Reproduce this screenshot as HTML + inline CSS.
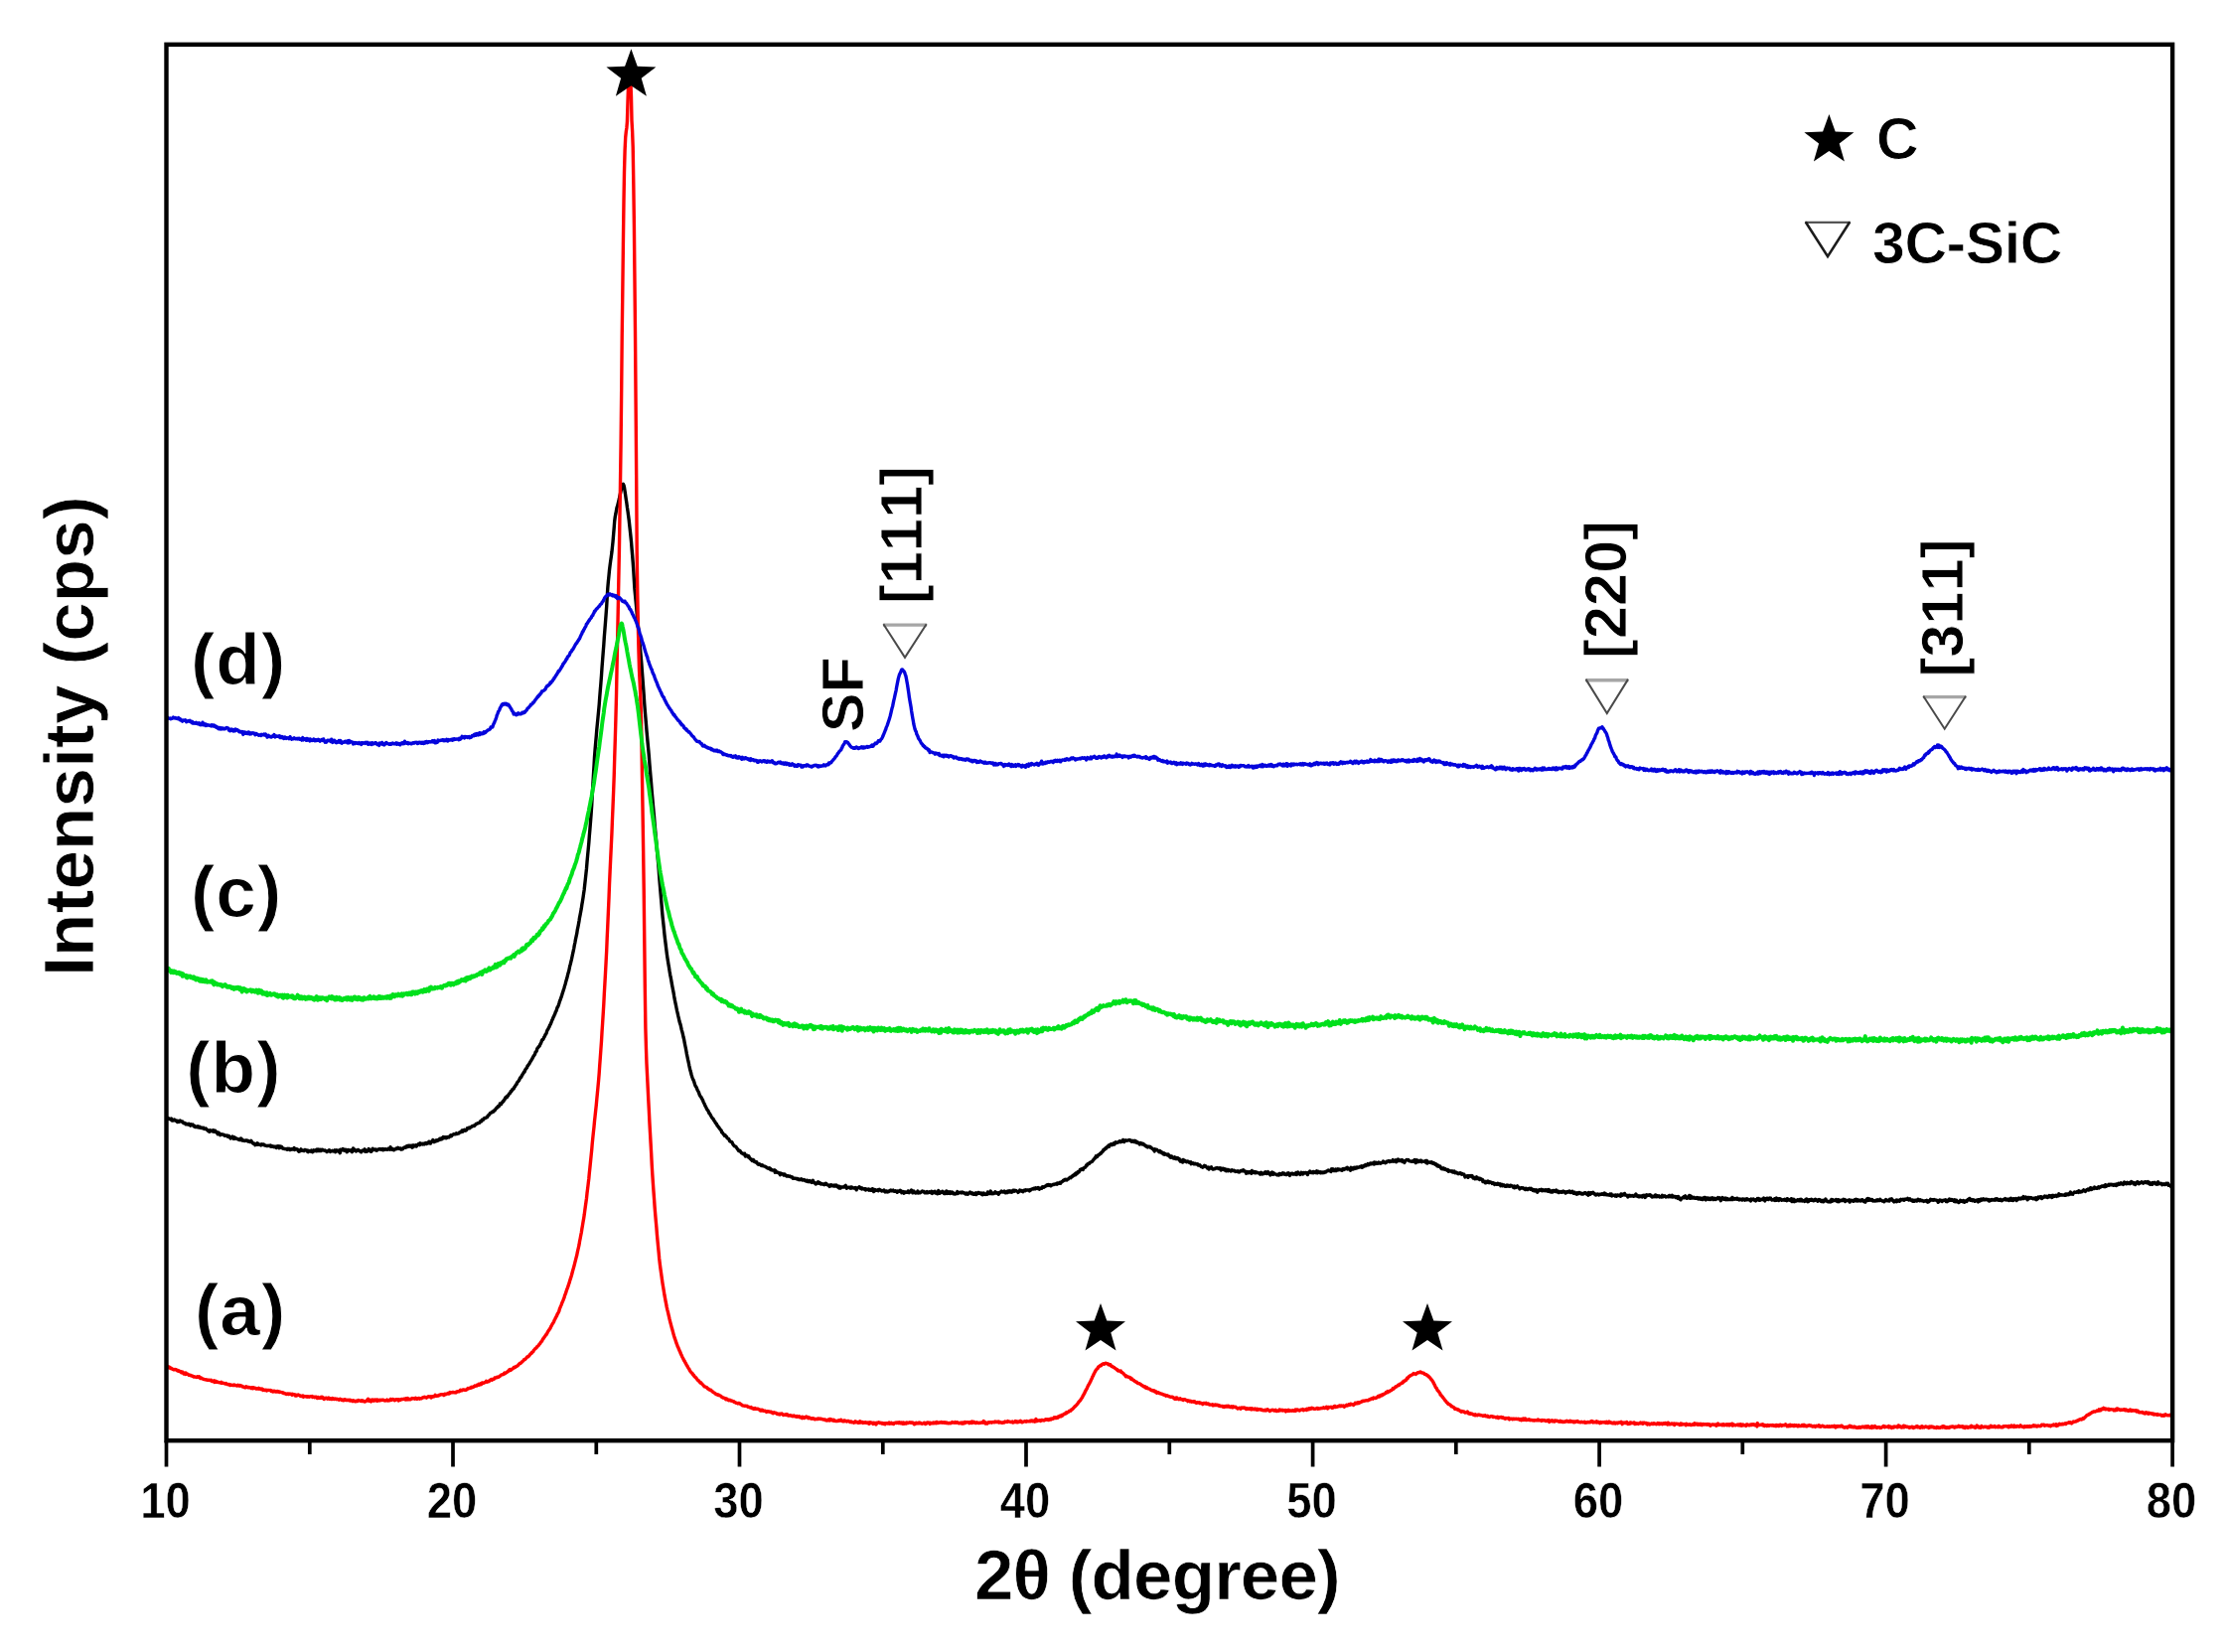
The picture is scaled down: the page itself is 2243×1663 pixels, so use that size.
<!DOCTYPE html>
<html lang="en">
<head>
<meta charset="utf-8">
<title>XRD patterns</title>
<style>
html,body{margin:0;padding:0;background:#fff;}
body{width:2243px;height:1663px;overflow:hidden;}
svg{display:block;filter:blur(0.6px);}
text{font-family:"Liberation Sans",Arial,Helvetica,sans-serif;font-weight:bold;fill:#000;font-kerning:none;stroke:#fff;stroke-width:1.0px;stroke-linejoin:round;}
.tick{font-size:50px;text-anchor:middle;stroke-width:0.5px;}
.title{font-size:71px;text-anchor:middle;stroke-width:0.7px;}
.lab{font-size:73px;letter-spacing:1.0px;}
.ann{font-size:59px;stroke-width:0.8px;}
.rot{letter-spacing:0.3px;}
.curve{fill:none;stroke-linejoin:round;stroke-linecap:butt;}
</style>
</head>
<body>
<svg width="2243" height="1663" viewBox="0 0 2243 1663">
<rect x="0" y="0" width="2243" height="1663" fill="#ffffff"/>
<defs><clipPath id="plotclip"><rect x="167.5" y="44.8" width="2019.6" height="1405.4"/></clipPath></defs>
<g clip-path="url(#plotclip)">
<path class="curve" d="M167.5,1125.2 168.1,1126.1 168.7,1126.4 169.2,1125.6 169.8,1125.9 170.4,1125.9 171.0,1126.5 171.5,1126.4 172.1,1127.1 172.7,1126.1 173.3,1128.1 173.8,1127.6 174.4,1127.9 175.0,1127.4 175.6,1127.1 176.2,1127.8 176.7,1128.2 177.3,1128.0 177.9,1128.3 178.5,1129.4 179.0,1128.5 179.6,1128.4 180.2,1129.4 180.8,1128.9 181.3,1128.0 181.9,1128.9 182.5,1129.0 183.1,1129.0 183.7,1129.0 184.2,1130.0 184.8,1130.6 185.4,1130.5 186.0,1130.4 186.5,1131.2 187.1,1131.8 187.7,1131.2 188.3,1131.5 188.9,1132.0 189.4,1131.6 190.0,1131.3 190.6,1132.4 191.2,1132.6 191.7,1133.1 192.3,1131.8 192.9,1132.3 193.5,1132.3 194.0,1132.1 194.6,1133.2 195.2,1133.8 195.8,1133.3 196.4,1134.6 196.9,1134.6 197.5,1134.3 198.1,1134.3 198.7,1134.8 199.2,1133.7 199.8,1134.9 200.4,1135.1 201.0,1134.2 201.5,1135.2 202.1,1134.9 202.7,1135.4 203.3,1135.1 203.9,1135.3 204.4,1135.8 205.0,1135.4 205.6,1136.4 206.2,1136.0 206.7,1136.3 207.3,1136.0 207.9,1137.1 208.5,1137.2 209.0,1137.7 209.6,1138.5 210.2,1138.9 210.8,1139.3 211.4,1137.7 211.9,1138.7 212.5,1138.5 213.1,1138.5 213.7,1138.1 214.2,1139.1 214.8,1137.8 215.4,1139.3 216.0,1139.5 216.5,1138.2 217.1,1139.2 217.7,1139.3 218.3,1140.2 218.9,1141.2 219.4,1141.8 220.0,1140.0 220.6,1140.8 221.2,1141.8 221.7,1142.6 222.3,1142.1 222.9,1141.8 223.5,1142.0 224.0,1142.0 224.6,1142.1 225.2,1142.1 225.8,1142.9 226.4,1143.4 226.9,1143.4 227.5,1143.4 228.1,1142.9 228.7,1143.4 229.2,1144.2 229.8,1143.5 230.4,1143.4 231.0,1145.0 231.6,1145.0 232.1,1145.9 232.7,1145.0 233.3,1144.6 233.9,1144.1 234.4,1145.4 235.0,1146.3 235.6,1144.7 236.2,1145.3 236.7,1146.2 237.3,1145.6 237.9,1146.0 238.5,1146.3 239.1,1146.6 239.6,1147.0 240.2,1146.9 240.8,1147.4 241.4,1146.7 241.9,1147.4 242.5,1146.0 243.1,1146.3 243.7,1148.0 244.2,1147.5 244.8,1147.9 245.4,1148.3 246.0,1148.5 246.6,1148.1 247.1,1148.4 247.7,1148.0 248.3,1147.9 248.9,1148.4 249.4,1148.9 250.0,1148.4 250.6,1148.9 251.2,1149.2 251.7,1149.5 252.3,1149.2 252.9,1148.4 253.5,1149.6 254.1,1150.1 254.6,1151.1 255.2,1151.2 255.8,1151.3 256.4,1151.3 256.9,1152.7 257.5,1151.9 258.1,1152.3 258.7,1152.4 259.2,1150.8 259.8,1151.4 260.4,1151.7 261.0,1152.2 261.6,1152.3 262.1,1152.4 262.7,1152.9 263.3,1151.9 263.9,1152.3 264.4,1151.9 265.0,1152.4 265.6,1152.0 266.2,1152.5 266.7,1153.1 267.3,1153.1 267.9,1153.4 268.5,1153.5 269.1,1153.5 269.6,1153.5 270.2,1153.3 270.8,1153.5 271.4,1153.2 271.9,1153.7 272.5,1153.0 273.1,1154.3 273.7,1153.7 274.3,1153.9 274.8,1154.2 275.4,1154.0 276.0,1154.7 276.6,1154.4 277.1,1154.2 277.7,1154.3 278.3,1155.5 278.9,1154.7 279.4,1153.8 280.0,1154.5 280.6,1153.9 281.2,1155.7 281.8,1153.9 282.3,1155.0 282.9,1155.3 283.5,1154.4 284.1,1155.3 284.6,1156.1 285.2,1156.2 285.8,1156.2 286.4,1156.5 286.9,1156.5 287.5,1156.6 288.1,1156.7 288.7,1157.1 289.3,1156.3 289.8,1157.1 290.4,1156.5 291.0,1156.2 291.6,1156.7 292.1,1157.6 292.7,1157.4 293.3,1156.7 293.9,1157.1 294.4,1156.6 295.0,1157.0 295.6,1156.9 296.2,1155.6 296.8,1157.4 297.3,1156.9 297.9,1156.6 298.5,1156.6 299.1,1156.8 299.6,1157.3 300.2,1158.5 300.8,1159.2 301.4,1158.3 301.9,1158.8 302.5,1158.0 303.1,1156.9 303.7,1158.4 304.3,1158.3 304.8,1158.1 305.4,1158.4 306.0,1158.6 306.6,1157.6 307.1,1157.4 307.7,1157.9 308.3,1157.9 308.9,1158.0 309.4,1159.2 310.0,1159.6 310.6,1158.3 311.2,1159.0 311.8,1159.1 312.3,1159.0 312.9,1159.2 313.5,1158.1 314.1,1158.9 314.6,1159.7 315.2,1158.7 315.8,1157.9 316.4,1158.7 317.0,1158.6 317.5,1157.9 318.1,1157.7 318.7,1158.7 319.3,1157.0 319.8,1158.6 320.4,1158.1 321.0,1157.1 321.6,1158.6 322.1,1158.3 322.7,1157.3 323.3,1158.5 323.9,1158.0 324.5,1157.2 325.0,1157.7 325.6,1158.0 326.2,1158.2 326.8,1158.0 327.3,1157.9 327.9,1158.7 328.5,1158.6 329.1,1159.5 329.6,1158.8 330.2,1158.9 330.8,1158.7 331.4,1157.7 332.0,1158.1 332.5,1159.4 333.1,1158.7 333.7,1158.7 334.3,1158.9 334.8,1158.3 335.4,1158.9 336.0,1158.4 336.6,1158.7 337.1,1157.9 337.7,1159.7 338.3,1158.4 338.9,1157.7 339.5,1158.5 340.0,1158.5 340.6,1159.1 341.2,1158.0 341.8,1159.0 342.3,1160.7 342.9,1157.1 343.5,1157.8 344.1,1157.7 344.6,1157.8 345.2,1156.5 345.8,1157.1 346.4,1158.0 347.0,1157.4 347.5,1158.5 348.1,1157.3 348.7,1158.0 349.3,1159.7 349.8,1157.8 350.4,1157.5 351.0,1157.8 351.6,1157.9 352.1,1158.5 352.7,1158.1 353.3,1157.7 353.9,1158.5 354.5,1159.6 355.0,1158.4 355.6,1155.9 356.2,1157.6 356.8,1157.1 357.3,1158.2 357.9,1157.7 358.5,1158.9 359.1,1158.4 359.7,1158.1 360.2,1157.5 360.8,1157.5 361.4,1158.1 362.0,1158.8 362.5,1158.9 363.1,1158.8 363.7,1159.8 364.3,1158.8 364.8,1158.4 365.4,1157.9 366.0,1157.9 366.6,1158.0 367.2,1156.9 367.7,1159.4 368.3,1158.9 368.9,1158.4 369.5,1159.2 370.0,1158.6 370.6,1158.3 371.2,1156.5 371.8,1158.0 372.3,1158.2 372.9,1159.0 373.5,1159.4 374.1,1159.1 374.7,1157.1 375.2,1156.2 375.8,1157.5 376.4,1157.0 377.0,1157.4 377.5,1157.1 378.1,1157.8 378.7,1157.0 379.3,1158.2 379.8,1157.6 380.4,1157.5 381.0,1157.0 381.6,1156.6 382.2,1156.9 382.7,1156.6 383.3,1157.2 383.9,1157.3 384.5,1156.7 385.0,1156.5 385.6,1157.8 386.2,1156.8 386.8,1157.5 387.3,1157.3 387.9,1156.6 388.5,1156.8 389.1,1157.3 389.7,1157.3 390.2,1157.3 390.8,1156.3 391.4,1156.6 392.0,1156.6 392.5,1157.3 393.1,1154.7 393.7,1156.7 394.3,1156.2 394.8,1157.1 395.4,1156.6 396.0,1157.1 396.6,1157.8 397.2,1157.0 397.7,1157.0 398.3,1156.8 398.9,1156.1 399.5,1156.5 400.0,1156.0 400.6,1155.3 401.2,1155.7 401.8,1155.9 402.4,1156.5 402.9,1156.1 403.5,1156.0 404.1,1157.1 404.7,1156.7 405.2,1156.8 405.8,1156.1 406.4,1155.5 407.0,1154.9 407.5,1154.9 408.1,1155.3 408.7,1154.6 409.3,1153.9 409.9,1154.7 410.4,1153.4 411.0,1154.1 411.6,1153.4 412.2,1153.2 412.7,1154.1 413.3,1154.2 413.9,1153.3 414.5,1154.6 415.0,1155.2 415.6,1153.0 416.2,1154.5 416.8,1153.1 417.4,1153.4 417.9,1153.5 418.5,1152.7 419.1,1154.1 419.7,1153.5 420.2,1152.6 420.8,1152.4 421.4,1151.6 422.0,1151.9 422.5,1152.6 423.1,1150.8 423.7,1151.3 424.3,1151.3 424.9,1151.8 425.4,1152.0 426.0,1151.2 426.6,1151.1 427.2,1151.9 427.7,1151.2 428.3,1150.6 428.9,1151.2 429.5,1151.5 430.0,1150.5 430.6,1150.2 431.2,1150.8 431.8,1149.3 432.4,1150.0 432.9,1149.4 433.5,1151.1 434.1,1149.8 434.7,1149.2 435.2,1149.1 435.8,1147.6 436.4,1149.0 437.0,1149.6 437.5,1148.6 438.1,1149.1 438.7,1149.0 439.3,1147.9 439.9,1148.5 440.4,1148.4 441.0,1147.6 441.6,1147.3 442.2,1147.6 442.7,1146.3 443.3,1147.0 443.9,1147.1 444.5,1145.8 445.1,1146.6 445.6,1145.6 446.2,1144.5 446.8,1145.6 447.4,1144.9 447.9,1145.5 448.5,1144.7 449.1,1145.8 449.7,1144.8 450.2,1145.2 450.8,1144.6 451.4,1144.4 452.0,1144.9 452.6,1144.1 453.1,1143.8 453.7,1142.8 454.3,1143.8 454.9,1143.2 455.4,1142.4 456.0,1142.4 456.6,1141.8 457.2,1141.7 457.7,1141.6 458.3,1141.7 458.9,1141.4 459.5,1140.7 460.1,1141.4 460.6,1141.2 461.2,1141.0 461.8,1141.1 462.4,1140.2 462.9,1139.8 463.5,1139.9 464.1,1139.1 464.7,1139.3 465.2,1137.9 465.8,1139.3 466.4,1137.8 467.0,1138.1 467.6,1137.4 468.1,1138.2 468.7,1138.1 469.3,1137.9 469.9,1137.2 470.4,1135.8 471.0,1135.9 471.6,1135.7 472.2,1135.1 472.7,1135.8 473.3,1135.2 473.9,1134.6 474.5,1134.6 475.1,1133.7 475.6,1133.7 476.2,1133.3 476.8,1133.6 477.4,1133.4 477.9,1132.7 478.5,1132.6 479.1,1131.4 479.7,1131.4 480.2,1131.4 480.8,1130.8 481.4,1130.7 482.0,1130.5 482.6,1130.3 483.1,1129.7 483.7,1128.8 484.3,1128.2 484.9,1128.6 485.4,1127.2 486.0,1127.1 486.6,1127.1 487.2,1126.0 487.8,1125.4 488.3,1125.6 488.9,1125.4 489.5,1125.2 490.1,1124.5 490.6,1124.5 491.2,1123.1 491.8,1122.8 492.4,1122.3 492.9,1121.6 493.5,1120.6 494.1,1120.3 494.7,1120.0 495.3,1119.9 495.8,1118.9 496.4,1119.1 497.0,1119.0 497.6,1117.8 498.1,1117.9 498.7,1117.0 499.3,1115.9 499.9,1115.5 500.4,1114.7 501.0,1114.8 501.6,1113.5 502.2,1113.7 502.8,1112.9 503.3,1111.1 503.9,1111.7 504.5,1111.6 505.1,1110.1 505.6,1110.1 506.2,1108.8 506.8,1108.8 507.4,1107.3 507.9,1107.2 508.5,1105.6 509.1,1104.6 509.7,1104.9 510.3,1104.8 510.8,1103.3 511.4,1103.2 512.0,1102.0 512.6,1101.0 513.1,1100.7 513.7,1100.3 514.3,1098.5 514.9,1098.4 515.4,1097.7 516.0,1096.5 516.6,1096.4 517.2,1096.0 517.8,1094.3 518.3,1094.1 518.9,1092.8 519.5,1091.8 520.1,1091.4 520.6,1089.9 521.2,1089.1 521.8,1088.5 522.4,1087.8 522.9,1086.7 523.5,1085.3 524.1,1084.5 524.7,1084.4 525.3,1082.7 525.8,1082.2 526.4,1080.9 527.0,1080.3 527.6,1079.0 528.1,1079.0 528.7,1077.1 529.3,1076.3 529.9,1075.3 530.5,1074.9 531.0,1073.1 531.6,1072.6 532.2,1071.6 532.8,1071.0 533.3,1069.9 533.9,1068.7 534.5,1068.1 535.1,1066.9 535.6,1066.1 536.2,1065.1 536.8,1063.8 537.4,1062.9 538.0,1062.0 538.5,1061.4 539.1,1059.3 539.7,1058.7 540.3,1057.8 540.8,1055.7 541.4,1055.0 542.0,1054.1 542.6,1053.4 543.1,1053.2 543.7,1051.5 544.3,1050.6 544.9,1049.1 545.5,1047.4 546.0,1046.5 546.6,1046.6 547.2,1045.4 547.8,1043.9 548.3,1043.6 548.9,1041.7 549.5,1041.1 550.1,1040.0 550.6,1038.1 551.2,1036.7 551.8,1036.1 552.4,1034.5 553.0,1033.7 553.5,1032.0 554.1,1031.3 554.7,1029.8 555.3,1028.3 555.8,1026.9 556.4,1026.0 557.0,1024.1 557.6,1023.1 558.1,1021.8 558.7,1020.7 559.3,1018.7 559.9,1018.0 560.5,1016.1 561.0,1014.3 561.6,1013.5 562.2,1012.1 562.8,1010.2 563.3,1008.4 563.9,1007.0 564.5,1005.3 565.1,1003.6 565.6,1002.1 566.2,1000.1 566.8,998.2 567.4,996.3 568.0,994.4 568.5,992.6 569.1,990.7 569.7,988.3 570.3,986.3 570.8,984.6 571.4,982.1 572.0,979.7 572.6,977.8 573.2,975.0 573.7,972.5 574.3,970.4 574.9,967.8 575.5,965.4 576.0,963.0 576.6,960.2 577.2,957.3 577.8,954.5 578.3,951.5 578.9,948.8 579.5,945.4 580.1,942.6 580.7,939.9 581.2,936.4 581.8,933.6 582.4,930.5 583.0,927.1 583.5,923.8 584.1,920.8 584.7,917.7 585.3,914.4 585.8,910.9 586.4,907.5 587.0,903.7 587.6,899.4 588.2,895.4 588.7,890.7 589.3,885.4 589.9,879.9 590.5,874.2 591.0,868.0 591.6,861.4 592.2,855.1 592.8,848.6 593.3,841.8 593.9,834.8 594.5,827.3 595.1,819.7 595.7,811.0 596.2,801.4 596.8,791.1 597.4,780.8 598.0,771.1 598.5,762.1 599.1,754.3 599.7,747.3 600.3,740.7 600.8,734.5 601.4,728.3 602.0,722.2 602.6,715.8 603.2,709.3 603.7,702.4 604.3,695.0 604.9,687.8 605.5,680.0 606.0,672.3 606.6,664.7 607.2,656.9 607.8,649.3 608.3,641.7 608.9,634.1 609.5,626.5 610.1,618.6 610.7,610.4 611.2,601.6 611.8,592.2 612.4,585.2 613.0,579.4 613.5,574.0 614.1,569.1 614.7,564.6 615.3,560.4 615.9,556.1 616.4,551.4 617.0,545.6 617.6,538.5 618.2,531.3 618.7,524.7 619.3,520.0 619.9,517.2 620.5,513.8 621.0,511.1 621.6,509.2 622.2,506.8 622.8,504.3 623.4,502.0 623.9,499.5 624.5,497.0 625.1,494.1 625.7,491.5 626.2,489.5 626.8,488.6 627.4,487.2 628.0,488.4 628.5,490.6 629.1,494.6 629.7,498.6 630.3,502.8 630.9,506.6 631.4,510.5 632.0,514.4 632.6,519.0 633.2,523.5 633.7,528.3 634.3,533.6 634.9,539.2 635.5,545.2 636.0,551.5 636.6,558.5 637.2,565.9 637.8,574.4 638.4,584.5 638.9,592.7 639.5,598.9 640.1,605.1 640.7,611.6 641.2,617.9 641.8,623.9 642.4,630.0 643.0,636.2 643.5,642.3 644.1,648.6 644.7,654.9 645.3,661.6 645.9,668.4 646.4,675.7 647.0,683.4 647.6,691.5 648.2,699.7 648.7,707.5 649.3,715.1 649.9,722.2 650.5,729.1 651.0,735.5 651.6,742.0 652.2,748.5 652.8,754.9 653.4,761.6 653.9,768.6 654.5,775.7 655.1,782.6 655.7,789.6 656.2,796.4 656.8,803.0 657.4,809.9 658.0,816.3 658.6,822.8 659.1,829.4 659.7,835.8 660.3,842.3 660.9,848.9 661.4,855.4 662.0,862.1 662.6,868.6 663.2,875.6 663.7,882.7 664.3,890.1 664.9,897.3 665.5,904.3 666.1,911.2 666.6,917.7 667.2,923.8 667.8,929.2 668.4,934.9 668.9,940.1 669.5,945.2 670.1,950.0 670.7,955.0 671.2,959.1 671.8,963.4 672.4,967.2 673.0,971.0 673.6,974.4 674.1,977.8 674.7,981.3 675.3,984.2 675.9,987.6 676.4,990.6 677.0,993.8 677.6,996.8 678.2,999.9 678.7,1003.1 679.3,1006.4 679.9,1009.3 680.5,1012.1 681.1,1015.2 681.6,1017.6 682.2,1020.1 682.8,1022.9 683.4,1025.3 683.9,1027.8 684.5,1030.0 685.1,1031.5 685.7,1034.4 686.2,1036.6 686.8,1038.7 687.4,1041.1 688.0,1044.0 688.6,1046.3 689.1,1049.1 689.7,1052.2 690.3,1055.0 690.9,1058.3 691.4,1061.1 692.0,1064.0 692.6,1066.9 693.2,1069.5 693.8,1072.6 694.3,1074.9 694.9,1077.6 695.5,1079.5 696.1,1082.0 696.6,1083.6 697.2,1085.3 697.8,1086.8 698.4,1088.0 698.9,1089.6 699.5,1091.5 700.1,1093.1 700.7,1094.0 701.3,1094.9 701.8,1096.5 702.4,1097.7 703.0,1098.8 703.6,1100.0 704.1,1101.8 704.7,1102.9 705.3,1103.9 705.9,1104.5 706.4,1105.7 707.0,1106.7 707.6,1107.7 708.2,1109.5 708.8,1110.5 709.3,1111.6 709.9,1113.1 710.5,1114.1 711.1,1115.4 711.6,1116.5 712.2,1117.4 712.8,1118.0 713.4,1119.3 713.9,1120.6 714.5,1121.0 715.1,1122.1 715.7,1123.2 716.3,1124.3 716.8,1125.1 717.4,1125.9 718.0,1126.3 718.6,1127.6 719.1,1128.3 719.7,1129.0 720.3,1130.4 720.9,1131.0 721.4,1131.4 722.0,1133.0 722.6,1133.4 723.2,1134.6 723.8,1134.8 724.3,1136.0 724.9,1136.7 725.5,1137.4 726.1,1137.8 726.6,1139.9 727.2,1140.1 727.8,1140.9 728.4,1142.0 728.9,1142.3 729.5,1143.2 730.1,1142.8 730.7,1144.0 731.3,1144.1 731.8,1145.1 732.4,1145.8 733.0,1146.0 733.6,1146.5 734.1,1147.5 734.7,1148.8 735.3,1149.0 735.9,1149.5 736.5,1149.5 737.0,1150.0 737.6,1151.3 738.2,1152.3 738.8,1153.0 739.3,1153.7 739.9,1154.0 740.5,1154.2 741.1,1154.6 741.6,1155.5 742.2,1156.5 742.8,1156.9 743.4,1158.3 744.0,1158.2 744.5,1158.8 745.1,1158.5 745.7,1159.5 746.3,1160.5 746.8,1160.9 747.4,1161.0 748.0,1161.6 748.6,1161.8 749.1,1161.4 749.7,1161.3 750.3,1164.0 750.9,1163.6 751.5,1163.5 752.0,1163.1 752.6,1163.5 753.2,1164.8 753.8,1163.7 754.3,1165.1 754.9,1166.1 755.5,1166.5 756.1,1167.4 756.6,1167.2 757.2,1168.5 757.8,1167.5 758.4,1167.5 759.0,1168.4 759.5,1169.4 760.1,1169.2 760.7,1170.0 761.3,1169.7 761.8,1169.9 762.4,1171.2 763.0,1171.9 763.6,1172.3 764.1,1171.9 764.7,1171.8 765.3,1172.2 765.9,1172.9 766.5,1173.4 767.0,1173.5 767.6,1172.9 768.2,1173.8 768.8,1173.8 769.3,1174.0 769.9,1174.2 770.5,1174.4 771.1,1174.9 771.6,1175.0 772.2,1175.7 772.8,1175.6 773.4,1176.2 774.0,1176.3 774.5,1175.7 775.1,1176.9 775.7,1176.6 776.3,1177.7 776.8,1177.6 777.4,1177.6 778.0,1178.1 778.6,1178.1 779.2,1178.2 779.7,1177.9 780.3,1180.2 780.9,1178.6 781.5,1179.6 782.0,1180.3 782.6,1180.1 783.2,1180.2 783.8,1180.7 784.3,1181.1 784.9,1181.0 785.5,1182.7 786.1,1181.1 786.7,1181.7 787.2,1181.7 787.8,1181.8 788.4,1182.4 789.0,1183.0 789.5,1181.9 790.1,1182.1 790.7,1183.1 791.3,1183.1 791.8,1184.1 792.4,1184.1 793.0,1183.7 793.6,1183.6 794.2,1184.2 794.7,1184.4 795.3,1184.0 795.9,1184.8 796.5,1184.8 797.0,1184.8 797.6,1184.9 798.2,1186.2 798.8,1186.2 799.3,1186.4 799.9,1186.3 800.5,1186.1 801.1,1186.3 801.7,1186.7 802.2,1186.4 802.8,1186.5 803.4,1187.4 804.0,1187.5 804.5,1187.0 805.1,1187.7 805.7,1187.3 806.3,1187.6 806.8,1186.9 807.4,1187.4 808.0,1188.0 808.6,1187.9 809.2,1187.5 809.7,1187.7 810.3,1188.4 810.9,1188.7 811.5,1189.0 812.0,1188.4 812.6,1188.2 813.2,1189.5 813.8,1188.9 814.3,1189.1 814.9,1189.6 815.5,1188.6 816.1,1189.3 816.7,1190.0 817.2,1190.4 817.8,1189.9 818.4,1188.3 819.0,1189.8 819.5,1190.3 820.1,1191.1 820.7,1190.7 821.3,1191.9 821.9,1191.4 822.4,1191.5 823.0,1191.0 823.6,1189.7 824.2,1191.2 824.7,1191.2 825.3,1190.6 825.9,1191.7 826.5,1192.0 827.0,1191.5 827.6,1191.8 828.2,1191.9 828.8,1192.3 829.4,1192.1 829.9,1192.6 830.5,1191.4 831.1,1192.1 831.7,1191.3 832.2,1192.0 832.8,1192.8 833.4,1192.8 834.0,1193.1 834.5,1193.5 835.1,1194.4 835.7,1192.9 836.3,1193.9 836.9,1192.8 837.4,1193.5 838.0,1193.8 838.6,1193.2 839.2,1194.1 839.7,1194.1 840.3,1193.1 840.9,1193.9 841.5,1194.1 842.0,1193.0 842.6,1194.3 843.2,1194.0 843.8,1195.3 844.4,1194.2 844.9,1195.9 845.5,1194.6 846.1,1196.1 846.7,1195.1 847.2,1194.9 847.8,1195.0 848.4,1195.0 849.0,1194.9 849.5,1195.1 850.1,1194.1 850.7,1194.0 851.3,1193.4 851.9,1195.2 852.4,1196.2 853.0,1195.8 853.6,1195.4 854.2,1195.3 854.7,1195.2 855.3,1195.7 855.9,1196.1 856.5,1195.0 857.0,1196.1 857.6,1195.0 858.2,1195.7 858.8,1195.7 859.4,1196.0 859.9,1195.8 860.5,1195.6 861.1,1196.2 861.7,1195.6 862.2,1197.8 862.8,1196.3 863.4,1196.1 864.0,1195.8 864.6,1195.5 865.1,1194.7 865.7,1195.7 866.3,1196.3 866.9,1195.8 867.4,1196.9 868.0,1196.0 868.6,1196.5 869.2,1196.9 869.7,1197.0 870.3,1196.9 870.9,1196.7 871.5,1198.0 872.1,1197.0 872.6,1197.4 873.2,1197.6 873.8,1197.2 874.4,1197.0 874.9,1198.2 875.5,1197.4 876.1,1197.5 876.7,1197.4 877.2,1198.3 877.8,1198.2 878.4,1196.7 879.0,1198.6 879.6,1199.5 880.1,1199.1 880.7,1197.5 881.3,1197.8 881.9,1198.4 882.4,1198.4 883.0,1198.3 883.6,1197.7 884.2,1198.7 884.7,1198.1 885.3,1197.3 885.9,1197.8 886.5,1198.1 887.1,1198.1 887.6,1199.0 888.2,1198.6 888.8,1198.9 889.4,1198.7 889.9,1198.0 890.5,1199.2 891.1,1200.0 891.7,1199.8 892.2,1198.9 892.8,1199.1 893.4,1200.0 894.0,1199.8 894.6,1199.2 895.1,1199.4 895.7,1198.5 896.3,1198.7 896.9,1198.0 897.4,1198.7 898.0,1198.6 898.6,1198.7 899.2,1198.1 899.7,1198.9 900.3,1199.3 900.9,1199.1 901.5,1198.7 902.1,1199.4 902.6,1199.6 903.2,1200.2 903.8,1199.0 904.4,1199.6 904.9,1199.3 905.5,1198.8 906.1,1198.3 906.7,1199.3 907.3,1199.0 907.8,1200.7 908.4,1199.7 909.0,1199.5 909.6,1199.8 910.1,1201.2 910.7,1199.9 911.3,1200.3 911.9,1200.0 912.4,1200.2 913.0,1200.1 913.6,1200.3 914.2,1198.9 914.8,1199.8 915.3,1200.6 915.9,1199.4 916.5,1199.6 917.1,1199.2 917.6,1198.0 918.2,1199.9 918.8,1200.8 919.4,1200.1 919.9,1199.1 920.5,1200.6 921.1,1200.2 921.7,1201.0 922.3,1200.9 922.8,1200.1 923.4,1200.7 924.0,1199.1 924.6,1200.9 925.1,1200.2 925.7,1200.9 926.3,1200.8 926.9,1200.2 927.4,1199.9 928.0,1199.4 928.6,1199.0 929.2,1199.8 929.8,1199.8 930.3,1199.5 930.9,1200.6 931.5,1200.2 932.1,1200.8 932.6,1200.4 933.2,1199.6 933.8,1200.8 934.4,1200.6 934.9,1200.3 935.5,1199.8 936.1,1200.1 936.7,1200.6 937.3,1200.3 937.8,1199.3 938.4,1201.4 939.0,1199.7 939.6,1200.4 940.1,1200.5 940.7,1200.6 941.3,1199.2 941.9,1201.1 942.4,1200.7 943.0,1201.0 943.6,1201.8 944.2,1200.4 944.8,1198.6 945.3,1200.7 945.9,1201.3 946.5,1200.5 947.1,1200.0 947.6,1200.5 948.2,1200.4 948.8,1199.2 949.4,1200.2 950.0,1200.4 950.5,1201.6 951.1,1200.3 951.7,1201.5 952.3,1200.4 952.8,1199.0 953.4,1201.4 954.0,1199.5 954.6,1200.4 955.1,1201.3 955.7,1200.1 956.3,1199.7 956.9,1201.4 957.5,1201.0 958.0,1200.1 958.6,1200.0 959.2,1200.5 959.8,1201.8 960.3,1201.0 960.9,1201.5 961.5,1202.1 962.1,1201.8 962.6,1201.7 963.2,1201.2 963.8,1199.5 964.4,1201.4 965.0,1201.0 965.5,1200.6 966.1,1200.6 966.7,1200.2 967.3,1200.5 967.8,1200.9 968.4,1200.0 969.0,1200.2 969.6,1200.4 970.1,1201.1 970.7,1200.8 971.3,1201.0 971.9,1201.9 972.5,1201.5 973.0,1202.0 973.6,1201.1 974.2,1202.3 974.8,1201.9 975.3,1201.3 975.9,1200.9 976.5,1200.1 977.1,1200.4 977.6,1200.6 978.2,1201.8 978.8,1201.8 979.4,1201.1 980.0,1202.2 980.5,1201.7 981.1,1202.3 981.7,1201.7 982.3,1200.9 982.8,1202.6 983.4,1201.9 984.0,1200.9 984.6,1200.6 985.1,1201.3 985.7,1200.6 986.3,1201.0 986.9,1201.5 987.5,1201.8 988.0,1201.0 988.6,1202.5 989.2,1202.8 989.8,1201.9 990.3,1201.0 990.9,1202.1 991.5,1201.7 992.1,1202.5 992.7,1201.9 993.2,1201.5 993.8,1202.2 994.4,1200.0 995.0,1200.6 995.5,1200.4 996.1,1201.6 996.7,1200.7 997.3,1199.0 997.8,1201.6 998.4,1200.5 999.0,1201.7 999.6,1201.2 1000.2,1201.6 1000.7,1201.5 1001.3,1200.8 1001.9,1199.7 1002.5,1200.9 1003.0,1200.5 1003.6,1200.6 1004.2,1201.2 1004.8,1200.7 1005.3,1202.3 1005.9,1201.0 1006.5,1200.6 1007.1,1200.4 1007.7,1199.6 1008.2,1199.0 1008.8,1199.7 1009.4,1199.6 1010.0,1200.1 1010.5,1199.7 1011.1,1199.0 1011.7,1200.2 1012.3,1200.8 1012.8,1200.8 1013.4,1199.8 1014.0,1199.2 1014.6,1200.4 1015.2,1198.9 1015.7,1199.7 1016.3,1198.9 1016.9,1200.0 1017.5,1199.0 1018.0,1200.0 1018.6,1200.2 1019.2,1199.8 1019.8,1198.3 1020.3,1198.1 1020.9,1198.2 1021.5,1199.1 1022.1,1198.5 1022.7,1198.5 1023.2,1198.8 1023.8,1199.4 1024.4,1199.4 1025.0,1200.4 1025.5,1199.5 1026.1,1199.5 1026.7,1198.1 1027.3,1198.6 1027.8,1198.9 1028.4,1198.6 1029.0,1199.3 1029.6,1199.7 1030.2,1198.6 1030.7,1198.3 1031.3,1198.1 1031.9,1198.7 1032.5,1197.9 1033.0,1198.3 1033.6,1198.0 1034.2,1198.0 1034.8,1198.0 1035.4,1198.0 1035.9,1197.9 1036.5,1198.9 1037.1,1197.8 1037.7,1198.0 1038.2,1197.3 1038.8,1197.0 1039.4,1197.0 1040.0,1196.5 1040.5,1196.9 1041.1,1196.2 1041.7,1196.1 1042.3,1196.7 1042.9,1195.8 1043.4,1196.3 1044.0,1196.0 1044.6,1196.5 1045.2,1195.6 1045.7,1195.8 1046.3,1197.2 1046.9,1196.3 1047.5,1196.2 1048.0,1195.9 1048.6,1196.3 1049.2,1194.9 1049.8,1194.8 1050.4,1195.4 1050.9,1195.4 1051.5,1194.5 1052.1,1194.4 1052.7,1193.9 1053.2,1193.8 1053.8,1192.9 1054.4,1192.8 1055.0,1193.4 1055.5,1192.5 1056.1,1192.9 1056.7,1193.2 1057.3,1192.8 1057.9,1193.8 1058.4,1193.2 1059.0,1193.1 1059.6,1192.5 1060.2,1192.3 1060.7,1192.6 1061.3,1192.2 1061.9,1191.9 1062.5,1192.1 1063.0,1191.8 1063.6,1191.4 1064.2,1192.2 1064.8,1190.9 1065.4,1191.2 1065.9,1191.4 1066.5,1191.2 1067.1,1190.4 1067.7,1191.1 1068.2,1190.5 1068.8,1189.7 1069.4,1189.3 1070.0,1189.1 1070.5,1188.2 1071.1,1188.4 1071.7,1187.5 1072.3,1188.0 1072.9,1187.2 1073.4,1187.8 1074.0,1188.1 1074.6,1187.3 1075.2,1187.0 1075.7,1186.8 1076.3,1186.0 1076.9,1185.6 1077.5,1185.1 1078.1,1185.6 1078.6,1184.9 1079.2,1184.6 1079.8,1183.5 1080.4,1183.8 1080.9,1182.7 1081.5,1182.9 1082.1,1181.7 1082.7,1182.8 1083.2,1180.9 1083.8,1181.8 1084.4,1181.3 1085.0,1179.7 1085.6,1179.7 1086.1,1179.9 1086.7,1179.1 1087.3,1177.5 1087.9,1177.7 1088.4,1177.1 1089.0,1176.8 1089.6,1176.5 1090.2,1177.5 1090.7,1176.3 1091.3,1175.8 1091.9,1175.1 1092.5,1175.1 1093.1,1174.4 1093.6,1173.1 1094.2,1173.3 1094.8,1171.9 1095.4,1171.7 1095.9,1171.3 1096.5,1171.5 1097.1,1170.4 1097.7,1170.1 1098.2,1170.1 1098.8,1169.5 1099.4,1169.3 1100.0,1168.6 1100.6,1167.6 1101.1,1167.1 1101.7,1166.6 1102.3,1165.5 1102.9,1165.6 1103.4,1163.8 1104.0,1164.0 1104.6,1164.4 1105.2,1163.5 1105.7,1162.6 1106.3,1162.4 1106.9,1162.3 1107.5,1161.2 1108.1,1161.3 1108.6,1160.4 1109.2,1160.2 1109.8,1159.2 1110.4,1158.9 1110.9,1157.4 1111.5,1157.2 1112.1,1157.2 1112.7,1156.1 1113.2,1155.5 1113.8,1155.9 1114.4,1155.1 1115.0,1154.2 1115.6,1153.8 1116.1,1153.1 1116.7,1154.3 1117.3,1152.5 1117.9,1152.4 1118.4,1151.7 1119.0,1151.8 1119.6,1152.6 1120.2,1151.6 1120.8,1151.7 1121.3,1150.8 1121.9,1151.9 1122.5,1150.8 1123.1,1149.8 1123.6,1150.6 1124.2,1150.2 1124.8,1150.4 1125.4,1149.9 1125.9,1149.7 1126.5,1149.6 1127.1,1148.6 1127.7,1148.6 1128.3,1149.6 1128.8,1149.1 1129.4,1149.2 1130.0,1148.9 1130.6,1147.4 1131.1,1148.3 1131.7,1149.6 1132.3,1148.4 1132.9,1148.3 1133.4,1147.8 1134.0,1148.3 1134.6,1148.2 1135.2,1148.0 1135.8,1148.0 1136.3,1147.8 1136.9,1147.5 1137.5,1147.9 1138.1,1148.3 1138.6,1148.0 1139.2,1149.2 1139.8,1148.9 1140.4,1148.9 1140.9,1148.4 1141.5,1149.6 1142.1,1148.8 1142.7,1148.3 1143.3,1148.7 1143.8,1150.1 1144.4,1149.4 1145.0,1150.6 1145.6,1150.5 1146.1,1150.2 1146.7,1150.9 1147.3,1152.0 1147.9,1150.7 1148.4,1150.5 1149.0,1151.1 1149.6,1151.6 1150.2,1152.0 1150.8,1151.3 1151.3,1151.8 1151.9,1152.4 1152.5,1153.0 1153.1,1153.6 1153.6,1153.2 1154.2,1154.3 1154.8,1154.0 1155.4,1154.9 1155.9,1154.2 1156.5,1154.3 1157.1,1154.8 1157.7,1154.2 1158.3,1155.3 1158.8,1155.1 1159.4,1155.8 1160.0,1156.4 1160.6,1156.6 1161.1,1157.2 1161.7,1157.8 1162.3,1158.9 1162.9,1156.8 1163.5,1157.5 1164.0,1157.5 1164.6,1157.3 1165.2,1158.1 1165.8,1158.3 1166.3,1159.0 1166.9,1159.6 1167.5,1158.4 1168.1,1159.8 1168.6,1159.9 1169.2,1159.5 1169.8,1160.8 1170.4,1161.2 1171.0,1160.9 1171.5,1161.9 1172.1,1160.9 1172.7,1162.2 1173.3,1161.8 1173.8,1161.8 1174.4,1162.2 1175.0,1162.4 1175.6,1163.0 1176.1,1162.1 1176.7,1163.2 1177.3,1163.4 1177.9,1164.9 1178.5,1163.7 1179.0,1165.2 1179.6,1164.0 1180.2,1165.2 1180.8,1165.3 1181.3,1166.0 1181.9,1165.6 1182.5,1164.9 1183.1,1165.4 1183.6,1166.6 1184.2,1166.1 1184.8,1165.5 1185.4,1166.6 1186.0,1165.9 1186.5,1166.4 1187.1,1166.4 1187.7,1168.2 1188.3,1169.1 1188.8,1168.0 1189.4,1168.9 1190.0,1169.4 1190.6,1170.0 1191.1,1167.4 1191.7,1168.8 1192.3,1169.1 1192.9,1168.3 1193.5,1169.2 1194.0,1169.5 1194.6,1169.8 1195.2,1169.0 1195.8,1169.4 1196.3,1169.2 1196.9,1170.2 1197.5,1170.2 1198.1,1170.0 1198.7,1169.8 1199.2,1171.7 1199.8,1171.2 1200.4,1171.2 1201.0,1170.7 1201.5,1171.2 1202.1,1171.9 1202.7,1171.9 1203.3,1171.2 1203.8,1171.8 1204.4,1171.7 1205.0,1172.0 1205.6,1171.7 1206.2,1173.0 1206.7,1173.0 1207.3,1173.0 1207.9,1172.7 1208.5,1173.5 1209.0,1174.1 1209.6,1174.6 1210.2,1174.4 1210.8,1175.2 1211.3,1174.7 1211.9,1174.4 1212.5,1173.4 1213.1,1174.1 1213.7,1173.8 1214.2,1174.6 1214.8,1175.0 1215.4,1175.9 1216.0,1175.4 1216.5,1175.1 1217.1,1177.1 1217.7,1175.7 1218.3,1175.3 1218.8,1175.2 1219.4,1174.7 1220.0,1176.1 1220.6,1176.6 1221.2,1177.1 1221.7,1176.9 1222.3,1176.8 1222.9,1176.9 1223.5,1176.0 1224.0,1176.0 1224.6,1176.1 1225.2,1175.5 1225.8,1175.7 1226.3,1175.7 1226.9,1176.6 1227.5,1176.6 1228.1,1175.7 1228.7,1177.0 1229.2,1177.9 1229.8,1176.2 1230.4,1176.8 1231.0,1177.2 1231.5,1176.3 1232.1,1177.2 1232.7,1177.8 1233.3,1176.9 1233.8,1178.4 1234.4,1178.7 1235.0,1177.3 1235.6,1177.9 1236.2,1178.6 1236.7,1177.5 1237.3,1178.2 1237.9,1178.4 1238.5,1178.3 1239.0,1179.0 1239.6,1178.6 1240.2,1177.7 1240.8,1178.5 1241.4,1178.5 1241.9,1178.4 1242.5,1178.3 1243.1,1179.0 1243.7,1179.4 1244.2,1178.9 1244.8,1179.3 1245.4,1179.3 1246.0,1178.8 1246.5,1179.8 1247.1,1179.2 1247.7,1180.0 1248.3,1179.2 1248.9,1178.6 1249.4,1178.5 1250.0,1178.4 1250.6,1178.9 1251.2,1178.7 1251.7,1177.7 1252.3,1178.4 1252.9,1179.1 1253.5,1179.2 1254.0,1179.4 1254.6,1181.3 1255.2,1180.1 1255.8,1179.5 1256.4,1180.3 1256.9,1180.8 1257.5,1180.3 1258.1,1179.6 1258.7,1180.4 1259.2,1180.2 1259.8,1181.2 1260.4,1178.5 1261.0,1180.2 1261.5,1179.7 1262.1,1180.4 1262.7,1179.5 1263.3,1180.1 1263.9,1180.7 1264.4,1179.9 1265.0,1180.6 1265.6,1180.3 1266.2,1180.5 1266.7,1180.6 1267.3,1181.0 1267.9,1181.3 1268.5,1182.1 1269.0,1180.6 1269.6,1180.3 1270.2,1180.8 1270.8,1182.0 1271.4,1181.2 1271.9,1181.0 1272.5,1181.4 1273.1,1180.4 1273.7,1180.8 1274.2,1179.7 1274.8,1181.3 1275.4,1181.5 1276.0,1180.1 1276.5,1179.6 1277.1,1180.2 1277.7,1181.2 1278.3,1182.0 1278.9,1182.9 1279.4,1182.5 1280.0,1180.4 1280.6,1180.1 1281.2,1181.7 1281.7,1182.2 1282.3,1180.8 1282.9,1181.8 1283.5,1181.8 1284.1,1182.1 1284.6,1182.2 1285.2,1182.5 1285.8,1182.9 1286.4,1182.3 1286.9,1182.8 1287.5,1183.1 1288.1,1181.5 1288.7,1181.4 1289.2,1182.3 1289.8,1182.5 1290.4,1181.5 1291.0,1182.0 1291.6,1180.9 1292.1,1181.5 1292.7,1181.1 1293.3,1182.3 1293.9,1182.0 1294.4,1182.0 1295.0,1182.6 1295.6,1182.4 1296.2,1181.1 1296.7,1181.7 1297.3,1180.9 1297.9,1182.4 1298.5,1183.4 1299.1,1182.0 1299.6,1182.1 1300.2,1181.3 1300.8,1181.8 1301.4,1181.2 1301.9,1182.1 1302.5,1181.8 1303.1,1181.9 1303.7,1182.1 1304.2,1181.8 1304.8,1180.6 1305.4,1182.5 1306.0,1180.9 1306.6,1180.0 1307.1,1181.6 1307.7,1181.5 1308.3,1181.8 1308.9,1182.4 1309.4,1181.4 1310.0,1180.2 1310.6,1181.4 1311.2,1181.7 1311.7,1182.0 1312.3,1180.5 1312.9,1180.6 1313.5,1180.9 1314.1,1180.4 1314.6,1180.5 1315.2,1181.3 1315.8,1181.1 1316.4,1182.5 1316.9,1180.5 1317.5,1180.7 1318.1,1180.2 1318.7,1179.1 1319.2,1179.7 1319.8,1180.4 1320.4,1180.6 1321.0,1180.0 1321.6,1179.6 1322.1,1180.7 1322.7,1179.5 1323.3,1180.3 1323.9,1180.4 1324.4,1180.5 1325.0,1179.3 1325.6,1178.8 1326.2,1180.8 1326.8,1179.8 1327.3,1179.3 1327.9,1179.7 1328.5,1180.3 1329.1,1180.8 1329.6,1179.9 1330.2,1180.7 1330.8,1179.9 1331.4,1180.1 1331.9,1180.7 1332.5,1180.1 1333.1,1180.4 1333.7,1179.7 1334.3,1179.4 1334.8,1180.0 1335.4,1179.0 1336.0,1179.0 1336.6,1178.3 1337.1,1178.6 1337.7,1178.0 1338.3,1178.8 1338.9,1178.4 1339.4,1178.7 1340.0,1179.4 1340.6,1176.8 1341.2,1177.8 1341.8,1176.8 1342.3,1178.2 1342.9,1178.6 1343.5,1178.5 1344.1,1178.1 1344.6,1177.1 1345.2,1178.6 1345.8,1177.6 1346.4,1177.3 1346.9,1176.7 1347.5,1177.7 1348.1,1177.0 1348.7,1177.2 1349.3,1177.7 1349.8,1177.7 1350.4,1177.2 1351.0,1178.2 1351.6,1176.8 1352.1,1176.6 1352.7,1177.5 1353.3,1177.0 1353.9,1177.0 1354.4,1176.2 1355.0,1176.5 1355.6,1176.0 1356.2,1175.2 1356.8,1177.0 1357.3,1176.2 1357.9,1176.4 1358.5,1177.1 1359.1,1176.8 1359.6,1178.2 1360.2,1175.3 1360.8,1176.2 1361.4,1176.3 1361.9,1177.0 1362.5,1175.8 1363.1,1175.3 1363.7,1176.5 1364.3,1175.3 1364.8,1175.6 1365.4,1176.0 1366.0,1175.0 1366.6,1174.9 1367.1,1175.4 1367.7,1174.9 1368.3,1175.1 1368.9,1174.4 1369.5,1174.7 1370.0,1174.2 1370.6,1173.8 1371.2,1175.3 1371.8,1174.9 1372.3,1174.7 1372.9,1173.4 1373.5,1173.7 1374.1,1173.8 1374.6,1172.6 1375.2,1173.5 1375.8,1172.5 1376.4,1172.6 1377.0,1171.6 1377.5,1172.7 1378.1,1172.6 1378.7,1172.2 1379.3,1171.1 1379.8,1171.0 1380.4,1171.8 1381.0,1171.0 1381.6,1171.2 1382.1,1171.4 1382.7,1170.5 1383.3,1172.0 1383.9,1170.1 1384.5,1171.6 1385.0,1171.3 1385.6,1170.4 1386.2,1171.3 1386.8,1171.3 1387.3,1170.8 1387.9,1170.1 1388.5,1170.8 1389.1,1171.2 1389.6,1170.5 1390.2,1171.0 1390.8,1170.4 1391.4,1170.3 1392.0,1170.2 1392.5,1169.1 1393.1,1169.6 1393.7,1170.1 1394.3,1170.2 1394.8,1170.7 1395.4,1170.5 1396.0,1169.2 1396.6,1169.2 1397.1,1168.9 1397.7,1168.8 1398.3,1168.8 1398.9,1169.6 1399.5,1168.8 1400.0,1168.9 1400.6,1169.2 1401.2,1168.7 1401.8,1168.9 1402.3,1167.6 1402.9,1169.2 1403.5,1168.6 1404.1,1169.1 1404.6,1169.0 1405.2,1167.7 1405.8,1169.7 1406.4,1168.5 1407.0,1168.3 1407.5,1167.1 1408.1,1168.6 1408.7,1168.6 1409.3,1167.9 1409.8,1168.0 1410.4,1168.7 1411.0,1167.7 1411.6,1167.6 1412.2,1169.4 1412.7,1169.1 1413.3,1168.9 1413.9,1170.4 1414.5,1168.9 1415.0,1168.2 1415.6,1167.9 1416.2,1167.5 1416.8,1167.9 1417.3,1167.9 1417.9,1167.6 1418.5,1168.5 1419.1,1168.9 1419.7,1168.9 1420.2,1168.9 1420.8,1169.2 1421.4,1168.9 1422.0,1169.3 1422.5,1168.6 1423.1,1168.9 1423.7,1169.4 1424.3,1167.5 1424.8,1168.9 1425.4,1170.6 1426.0,1167.7 1426.6,1169.7 1427.2,1168.2 1427.7,1169.0 1428.3,1169.5 1428.9,1169.5 1429.5,1168.5 1430.0,1168.2 1430.6,1168.3 1431.2,1169.7 1431.8,1169.0 1432.3,1169.1 1432.9,1169.1 1433.5,1169.2 1434.1,1169.3 1434.7,1169.3 1435.2,1168.5 1435.8,1170.5 1436.4,1168.5 1437.0,1171.0 1437.5,1170.1 1438.1,1170.1 1438.7,1170.0 1439.3,1169.9 1439.8,1170.2 1440.4,1170.1 1441.0,1169.8 1441.6,1170.8 1442.2,1170.2 1442.7,1171.3 1443.3,1170.8 1443.9,1170.9 1444.5,1171.9 1445.0,1172.3 1445.6,1171.7 1446.2,1172.4 1446.8,1173.7 1447.3,1172.8 1447.9,1173.3 1448.5,1174.3 1449.1,1174.0 1449.7,1173.9 1450.2,1174.8 1450.8,1176.1 1451.4,1176.6 1452.0,1176.7 1452.5,1176.4 1453.1,1175.7 1453.7,1177.1 1454.3,1177.0 1454.9,1176.5 1455.4,1177.6 1456.0,1177.3 1456.6,1177.6 1457.2,1178.3 1457.7,1177.6 1458.3,1179.3 1458.9,1178.4 1459.5,1178.8 1460.0,1178.7 1460.6,1179.0 1461.2,1179.3 1461.8,1178.9 1462.4,1180.1 1462.9,1179.9 1463.5,1180.0 1464.1,1179.0 1464.7,1180.7 1465.2,1180.7 1465.8,1180.3 1466.4,1180.2 1467.0,1181.1 1467.5,1181.2 1468.1,1181.7 1468.7,1181.5 1469.3,1180.8 1469.9,1181.4 1470.4,1180.8 1471.0,1182.0 1471.6,1182.2 1472.2,1181.5 1472.7,1181.9 1473.3,1182.2 1473.9,1182.3 1474.5,1183.6 1475.0,1185.0 1475.6,1184.2 1476.2,1184.3 1476.8,1183.9 1477.4,1183.7 1477.9,1185.3 1478.5,1183.7 1479.1,1184.1 1479.7,1183.8 1480.2,1184.1 1480.8,1183.6 1481.4,1184.3 1482.0,1183.6 1482.5,1184.8 1483.1,1186.1 1483.7,1185.1 1484.3,1185.5 1484.9,1186.8 1485.4,1186.2 1486.0,1186.5 1486.6,1184.8 1487.2,1186.4 1487.7,1185.8 1488.3,1185.9 1488.9,1186.8 1489.5,1187.5 1490.0,1186.3 1490.6,1186.6 1491.2,1187.0 1491.8,1187.5 1492.4,1187.4 1492.9,1189.5 1493.5,1189.1 1494.1,1189.0 1494.7,1189.2 1495.2,1190.7 1495.8,1190.8 1496.4,1189.4 1497.0,1189.8 1497.6,1190.3 1498.1,1189.1 1498.7,1189.6 1499.3,1190.6 1499.9,1189.7 1500.4,1190.3 1501.0,1190.2 1501.6,1190.4 1502.2,1191.4 1502.7,1191.0 1503.3,1190.7 1503.9,1191.1 1504.5,1192.4 1505.1,1191.7 1505.6,1191.4 1506.2,1192.2 1506.8,1192.4 1507.4,1192.3 1507.9,1191.2 1508.5,1192.2 1509.1,1191.9 1509.7,1192.6 1510.2,1191.9 1510.8,1193.7 1511.4,1193.0 1512.0,1192.3 1512.6,1193.8 1513.1,1192.8 1513.7,1193.1 1514.3,1193.0 1514.9,1193.9 1515.4,1194.3 1516.0,1194.2 1516.6,1194.3 1517.2,1193.0 1517.7,1193.2 1518.3,1194.0 1518.9,1193.6 1519.5,1194.2 1520.1,1194.2 1520.6,1193.2 1521.2,1193.4 1521.8,1193.7 1522.4,1193.9 1522.9,1194.5 1523.5,1195.3 1524.1,1195.7 1524.7,1194.0 1525.2,1194.5 1525.8,1195.5 1526.4,1194.9 1527.0,1194.8 1527.6,1193.9 1528.1,1194.6 1528.7,1195.4 1529.3,1195.4 1529.9,1197.0 1530.4,1196.3 1531.0,1196.3 1531.6,1195.8 1532.2,1195.7 1532.7,1196.0 1533.3,1195.8 1533.9,1196.3 1534.5,1197.0 1535.1,1197.0 1535.6,1197.5 1536.2,1196.2 1536.8,1197.1 1537.4,1197.0 1537.9,1197.5 1538.5,1196.7 1539.1,1196.8 1539.7,1196.2 1540.3,1196.9 1540.8,1197.2 1541.4,1196.4 1542.0,1197.0 1542.6,1197.8 1543.1,1198.3 1543.7,1197.5 1544.3,1198.7 1544.9,1197.7 1545.4,1198.9 1546.0,1198.7 1546.6,1197.8 1547.2,1198.0 1547.8,1200.2 1548.3,1198.9 1548.9,1198.7 1549.5,1197.8 1550.1,1197.8 1550.6,1198.1 1551.2,1198.2 1551.8,1197.4 1552.4,1198.8 1552.9,1198.5 1553.5,1197.8 1554.1,1198.5 1554.7,1198.1 1555.3,1198.6 1555.8,1197.9 1556.4,1198.5 1557.0,1197.9 1557.6,1199.1 1558.1,1198.1 1558.7,1199.2 1559.3,1197.6 1559.9,1199.1 1560.4,1199.7 1561.0,1199.6 1561.6,1199.9 1562.2,1198.8 1562.8,1200.0 1563.3,1200.0 1563.9,1198.4 1564.5,1198.8 1565.1,1198.8 1565.6,1199.3 1566.2,1199.6 1566.8,1198.0 1567.4,1199.8 1567.9,1199.5 1568.5,1199.3 1569.1,1200.6 1569.7,1199.6 1570.3,1200.2 1570.8,1200.1 1571.4,1199.5 1572.0,1200.3 1572.6,1200.2 1573.1,1199.5 1573.7,1199.0 1574.3,1199.8 1574.9,1200.1 1575.4,1199.8 1576.0,1201.1 1576.6,1200.0 1577.2,1200.0 1577.8,1200.2 1578.3,1199.5 1578.9,1200.1 1579.5,1200.0 1580.1,1199.0 1580.6,1199.4 1581.2,1200.6 1581.8,1200.2 1582.4,1200.1 1583.0,1199.2 1583.5,1199.9 1584.1,1201.2 1584.7,1200.6 1585.3,1200.3 1585.8,1201.6 1586.4,1201.1 1587.0,1201.3 1587.6,1202.2 1588.1,1200.8 1588.7,1201.8 1589.3,1200.6 1589.9,1200.5 1590.5,1200.6 1591.0,1201.3 1591.6,1201.8 1592.2,1202.0 1592.8,1201.4 1593.3,1202.1 1593.9,1202.1 1594.5,1201.3 1595.1,1200.9 1595.6,1200.7 1596.2,1200.6 1596.8,1201.7 1597.4,1201.6 1598.0,1202.4 1598.5,1201.3 1599.1,1203.2 1599.7,1200.6 1600.3,1201.6 1600.8,1202.3 1601.4,1200.7 1602.0,1201.6 1602.6,1200.7 1603.1,1200.7 1603.7,1200.2 1604.3,1201.2 1604.9,1201.7 1605.5,1201.8 1606.0,1202.8 1606.6,1203.1 1607.2,1202.5 1607.8,1202.2 1608.3,1201.9 1608.9,1202.3 1609.5,1203.0 1610.1,1202.3 1610.6,1202.2 1611.2,1202.5 1611.8,1202.3 1612.4,1201.8 1613.0,1202.3 1613.5,1201.8 1614.1,1202.4 1614.7,1202.5 1615.3,1201.1 1615.8,1202.1 1616.4,1202.5 1617.0,1202.1 1617.6,1202.9 1618.1,1202.8 1618.7,1202.7 1619.3,1203.1 1619.9,1202.8 1620.5,1203.2 1621.0,1201.9 1621.6,1202.2 1622.2,1202.0 1622.8,1203.9 1623.3,1203.1 1623.9,1203.5 1624.5,1203.3 1625.1,1203.1 1625.7,1203.2 1626.2,1204.0 1626.8,1203.1 1627.4,1204.2 1628.0,1203.1 1628.5,1203.0 1629.1,1203.1 1629.7,1203.2 1630.3,1203.3 1630.8,1204.0 1631.4,1204.2 1632.0,1202.0 1632.6,1202.9 1633.2,1203.2 1633.7,1202.2 1634.3,1202.4 1634.9,1202.7 1635.5,1201.4 1636.0,1203.0 1636.6,1203.0 1637.2,1203.3 1637.8,1203.4 1638.3,1203.5 1638.9,1205.0 1639.5,1203.4 1640.1,1203.8 1640.7,1203.2 1641.2,1204.0 1641.8,1203.7 1642.4,1204.0 1643.0,1203.5 1643.5,1203.6 1644.1,1204.1 1644.7,1204.2 1645.3,1203.9 1645.8,1203.0 1646.4,1203.4 1647.0,1202.0 1647.6,1203.9 1648.2,1203.7 1648.7,1204.2 1649.3,1204.7 1649.9,1203.9 1650.5,1204.8 1651.0,1204.1 1651.6,1204.5 1652.2,1204.0 1652.8,1203.9 1653.3,1204.9 1653.9,1203.4 1654.5,1203.4 1655.1,1203.3 1655.7,1204.0 1656.2,1205.5 1656.8,1203.7 1657.4,1202.9 1658.0,1203.8 1658.5,1203.0 1659.1,1203.4 1659.7,1203.4 1660.3,1202.8 1660.8,1203.3 1661.4,1202.8 1662.0,1204.1 1662.6,1203.7 1663.2,1205.0 1663.7,1204.9 1664.3,1204.1 1664.9,1204.3 1665.5,1204.5 1666.0,1204.7 1666.6,1202.9 1667.2,1203.6 1667.8,1204.8 1668.4,1203.8 1668.9,1204.1 1669.5,1204.3 1670.1,1203.8 1670.7,1205.0 1671.2,1204.8 1671.8,1204.8 1672.4,1205.1 1673.0,1205.0 1673.5,1203.3 1674.1,1204.8 1674.7,1204.0 1675.3,1204.3 1675.9,1203.8 1676.4,1204.1 1677.0,1205.0 1677.6,1204.7 1678.2,1204.6 1678.7,1204.5 1679.3,1204.8 1679.9,1204.7 1680.5,1203.4 1681.0,1204.4 1681.6,1204.6 1682.2,1204.8 1682.8,1204.7 1683.4,1203.3 1683.9,1205.0 1684.5,1204.2 1685.1,1204.6 1685.7,1204.6 1686.2,1204.4 1686.8,1205.5 1687.4,1204.7 1688.0,1204.7 1688.5,1205.8 1689.1,1206.4 1689.7,1204.5 1690.3,1205.6 1690.9,1206.3 1691.4,1207.4 1692.0,1207.8 1692.6,1206.4 1693.2,1206.2 1693.7,1205.8 1694.3,1205.7 1694.9,1204.9 1695.5,1205.6 1696.0,1204.5 1696.6,1203.9 1697.2,1205.1 1697.8,1206.1 1698.4,1206.3 1698.9,1205.0 1699.5,1204.8 1700.1,1205.5 1700.7,1203.4 1701.2,1206.3 1701.8,1206.4 1702.4,1204.1 1703.0,1206.1 1703.6,1205.5 1704.1,1206.0 1704.7,1205.4 1705.3,1205.3 1705.9,1205.7 1706.4,1206.3 1707.0,1206.1 1707.6,1206.2 1708.2,1205.5 1708.7,1206.4 1709.3,1205.9 1709.9,1207.0 1710.5,1205.9 1711.1,1205.9 1711.6,1205.9 1712.2,1207.3 1712.8,1206.8 1713.4,1206.3 1713.9,1207.6 1714.5,1207.5 1715.1,1205.7 1715.7,1205.4 1716.2,1206.8 1716.8,1205.6 1717.4,1207.9 1718.0,1206.6 1718.6,1207.0 1719.1,1205.9 1719.7,1206.4 1720.3,1207.4 1720.9,1206.6 1721.4,1206.3 1722.0,1207.5 1722.6,1206.4 1723.2,1205.9 1723.7,1205.8 1724.3,1205.9 1724.9,1207.6 1725.5,1206.9 1726.1,1206.9 1726.6,1206.4 1727.2,1207.6 1727.8,1206.7 1728.4,1206.8 1728.9,1206.6 1729.5,1205.6 1730.1,1206.6 1730.7,1206.7 1731.2,1205.7 1731.8,1206.8 1732.4,1208.7 1733.0,1206.2 1733.6,1206.9 1734.1,1205.6 1734.7,1207.0 1735.3,1206.3 1735.9,1207.3 1736.4,1206.6 1737.0,1206.0 1737.6,1207.7 1738.2,1207.2 1738.7,1206.5 1739.3,1207.6 1739.9,1207.0 1740.5,1207.6 1741.1,1207.3 1741.6,1207.4 1742.2,1207.6 1742.8,1206.4 1743.4,1207.4 1743.9,1205.5 1744.5,1207.6 1745.1,1206.8 1745.7,1206.5 1746.3,1206.6 1746.8,1207.2 1747.4,1206.6 1748.0,1206.5 1748.6,1207.2 1749.1,1206.2 1749.7,1207.0 1750.3,1207.5 1750.9,1208.0 1751.4,1207.0 1752.0,1207.6 1752.6,1207.2 1753.2,1207.6 1753.8,1208.0 1754.3,1206.9 1754.9,1207.0 1755.5,1207.3 1756.1,1207.5 1756.6,1208.1 1757.2,1207.1 1757.8,1207.4 1758.4,1207.8 1758.9,1206.7 1759.5,1207.2 1760.1,1207.6 1760.7,1207.8 1761.3,1208.0 1761.8,1207.5 1762.4,1208.9 1763.0,1207.0 1763.6,1207.2 1764.1,1207.7 1764.7,1207.2 1765.3,1206.9 1765.9,1207.7 1766.4,1208.2 1767.0,1207.9 1767.6,1208.9 1768.2,1207.5 1768.8,1208.0 1769.3,1206.5 1769.9,1206.9 1770.5,1206.5 1771.1,1208.3 1771.6,1207.2 1772.2,1208.1 1772.8,1207.3 1773.4,1207.6 1773.9,1207.3 1774.5,1206.9 1775.1,1207.7 1775.7,1206.1 1776.3,1207.7 1776.8,1208.9 1777.4,1206.7 1778.0,1207.2 1778.6,1206.4 1779.1,1207.3 1779.7,1206.3 1780.3,1207.6 1780.9,1206.9 1781.4,1206.1 1782.0,1206.0 1782.6,1206.2 1783.2,1207.4 1783.8,1208.0 1784.3,1207.7 1784.9,1207.8 1785.5,1207.6 1786.1,1208.1 1786.6,1206.7 1787.2,1208.4 1787.8,1207.5 1788.4,1206.1 1789.0,1208.2 1789.5,1206.6 1790.1,1207.5 1790.7,1208.5 1791.3,1206.7 1791.8,1206.6 1792.4,1207.1 1793.0,1207.1 1793.6,1208.3 1794.1,1207.9 1794.7,1208.1 1795.3,1207.8 1795.9,1208.0 1796.5,1207.4 1797.0,1208.2 1797.6,1207.9 1798.2,1207.2 1798.8,1208.7 1799.3,1206.7 1799.9,1208.1 1800.5,1207.4 1801.1,1208.1 1801.6,1207.9 1802.2,1208.4 1802.8,1208.5 1803.4,1206.7 1804.0,1209.6 1804.5,1208.4 1805.1,1207.5 1805.7,1207.2 1806.3,1209.7 1806.8,1209.2 1807.4,1208.3 1808.0,1208.7 1808.6,1209.0 1809.1,1208.6 1809.7,1207.7 1810.3,1207.9 1810.9,1208.8 1811.5,1208.5 1812.0,1207.4 1812.6,1208.7 1813.2,1207.3 1813.8,1207.7 1814.3,1209.0 1814.9,1208.6 1815.5,1208.8 1816.1,1208.9 1816.6,1209.4 1817.2,1208.9 1817.8,1207.5 1818.4,1209.1 1819.0,1207.1 1819.5,1207.8 1820.1,1209.7 1820.7,1209.4 1821.3,1207.7 1821.8,1207.7 1822.4,1207.7 1823.0,1208.3 1823.6,1207.2 1824.1,1207.7 1824.7,1208.3 1825.3,1208.7 1825.9,1208.7 1826.5,1207.8 1827.0,1208.4 1827.6,1207.2 1828.2,1207.9 1828.8,1207.8 1829.3,1208.0 1829.9,1209.2 1830.5,1208.1 1831.1,1207.5 1831.7,1208.2 1832.2,1207.7 1832.8,1209.2 1833.4,1209.4 1834.0,1209.6 1834.5,1208.4 1835.1,1209.1 1835.7,1209.8 1836.3,1208.3 1836.8,1208.9 1837.4,1208.9 1838.0,1207.1 1838.6,1208.8 1839.2,1209.0 1839.7,1209.5 1840.3,1209.8 1840.9,1209.4 1841.5,1209.6 1842.0,1209.9 1842.6,1209.0 1843.2,1209.7 1843.8,1207.5 1844.3,1209.3 1844.9,1207.7 1845.5,1208.3 1846.1,1208.1 1846.7,1208.6 1847.2,1208.4 1847.8,1208.6 1848.4,1207.5 1849.0,1208.5 1849.5,1209.4 1850.1,1207.9 1850.7,1207.7 1851.3,1209.7 1851.8,1208.8 1852.4,1208.9 1853.0,1208.2 1853.6,1208.4 1854.2,1208.6 1854.7,1208.7 1855.3,1208.2 1855.9,1207.3 1856.5,1208.0 1857.0,1207.6 1857.6,1209.6 1858.2,1208.2 1858.8,1208.4 1859.3,1208.5 1859.9,1208.5 1860.5,1208.7 1861.1,1208.3 1861.7,1207.8 1862.2,1210.0 1862.8,1208.5 1863.4,1208.5 1864.0,1208.3 1864.5,1208.5 1865.1,1208.9 1865.7,1209.3 1866.3,1208.3 1866.8,1208.6 1867.4,1207.7 1868.0,1208.7 1868.6,1207.3 1869.2,1208.3 1869.7,1209.0 1870.3,1207.7 1870.9,1208.7 1871.5,1208.7 1872.0,1208.1 1872.6,1208.3 1873.2,1209.0 1873.8,1208.3 1874.4,1207.6 1874.9,1207.7 1875.5,1208.3 1876.1,1209.4 1876.7,1209.5 1877.2,1209.9 1877.8,1210.1 1878.4,1208.2 1879.0,1208.0 1879.5,1207.0 1880.1,1208.4 1880.7,1206.5 1881.3,1208.0 1881.9,1208.3 1882.4,1207.0 1883.0,1207.7 1883.6,1208.2 1884.2,1208.4 1884.7,1207.4 1885.3,1208.6 1885.9,1209.0 1886.5,1208.7 1887.0,1208.8 1887.6,1209.1 1888.2,1208.6 1888.8,1208.2 1889.4,1208.0 1889.9,1208.8 1890.5,1207.9 1891.1,1208.5 1891.7,1208.0 1892.2,1208.5 1892.8,1207.3 1893.4,1208.2 1894.0,1208.5 1894.5,1208.7 1895.1,1209.1 1895.7,1208.9 1896.3,1209.4 1896.9,1209.8 1897.4,1209.1 1898.0,1208.0 1898.6,1207.5 1899.2,1208.5 1899.7,1208.2 1900.3,1208.8 1900.9,1208.2 1901.5,1208.9 1902.0,1209.0 1902.6,1207.2 1903.2,1207.4 1903.8,1207.6 1904.4,1206.9 1904.9,1208.2 1905.5,1208.0 1906.1,1209.0 1906.7,1209.9 1907.2,1209.7 1907.8,1209.3 1908.4,1208.5 1909.0,1208.0 1909.5,1209.7 1910.1,1208.2 1910.7,1209.0 1911.3,1208.6 1911.9,1208.4 1912.4,1209.2 1913.0,1207.7 1913.6,1207.3 1914.2,1207.5 1914.7,1207.9 1915.3,1207.5 1915.9,1207.2 1916.5,1208.2 1917.1,1208.2 1917.6,1207.6 1918.2,1207.0 1918.8,1207.2 1919.4,1207.3 1919.9,1207.2 1920.5,1206.4 1921.1,1207.4 1921.7,1208.0 1922.2,1207.4 1922.8,1206.9 1923.4,1207.8 1924.0,1208.2 1924.6,1208.7 1925.1,1208.0 1925.7,1209.3 1926.3,1208.4 1926.9,1208.9 1927.4,1209.3 1928.0,1208.1 1928.6,1208.2 1929.2,1208.5 1929.7,1209.0 1930.3,1208.0 1930.9,1207.2 1931.5,1207.6 1932.1,1208.3 1932.6,1208.8 1933.2,1207.7 1933.8,1208.2 1934.4,1208.6 1934.9,1208.9 1935.5,1208.5 1936.1,1209.0 1936.7,1209.5 1937.2,1209.1 1937.8,1209.1 1938.4,1208.6 1939.0,1208.8 1939.6,1208.4 1940.1,1209.6 1940.7,1210.1 1941.3,1209.0 1941.9,1209.6 1942.4,1208.7 1943.0,1208.6 1943.6,1207.3 1944.2,1208.0 1944.7,1207.7 1945.3,1207.8 1945.9,1208.3 1946.5,1208.1 1947.1,1207.6 1947.6,1208.1 1948.2,1208.0 1948.8,1208.0 1949.4,1208.3 1949.9,1208.3 1950.5,1208.5 1951.1,1210.3 1951.7,1209.7 1952.2,1209.3 1952.8,1208.1 1953.4,1208.3 1954.0,1208.3 1954.6,1208.8 1955.1,1209.5 1955.7,1208.4 1956.3,1208.6 1956.9,1208.2 1957.4,1208.3 1958.0,1208.3 1958.6,1207.7 1959.2,1209.4 1959.8,1209.0 1960.3,1209.7 1960.9,1208.3 1961.5,1208.7 1962.1,1208.6 1962.6,1207.1 1963.2,1207.3 1963.8,1208.4 1964.4,1208.4 1964.9,1207.5 1965.5,1208.2 1966.1,1208.0 1966.7,1208.3 1967.3,1209.3 1967.8,1207.8 1968.4,1209.7 1969.0,1208.2 1969.6,1208.2 1970.1,1209.7 1970.7,1209.4 1971.3,1209.6 1971.9,1210.5 1972.4,1210.1 1973.0,1209.8 1973.6,1208.3 1974.2,1208.7 1974.8,1209.3 1975.3,1209.3 1975.9,1209.8 1976.5,1208.5 1977.1,1209.3 1977.6,1210.2 1978.2,1208.9 1978.8,1209.1 1979.4,1209.2 1979.9,1209.4 1980.5,1208.2 1981.1,1207.5 1981.7,1207.8 1982.3,1207.7 1982.8,1206.4 1983.4,1208.1 1984.0,1208.3 1984.6,1208.3 1985.1,1207.6 1985.7,1208.7 1986.3,1208.5 1986.9,1207.8 1987.4,1208.8 1988.0,1209.4 1988.6,1209.2 1989.2,1208.4 1989.8,1208.2 1990.3,1208.2 1990.9,1207.8 1991.5,1209.9 1992.1,1207.7 1992.6,1207.9 1993.2,1209.0 1993.8,1208.1 1994.4,1207.1 1994.9,1208.3 1995.5,1207.4 1996.1,1207.7 1996.7,1206.8 1997.3,1207.3 1997.8,1207.8 1998.4,1207.8 1999.0,1207.1 1999.6,1207.2 2000.1,1207.2 2000.7,1207.9 2001.3,1208.1 2001.9,1207.6 2002.5,1209.1 2003.0,1207.9 2003.6,1208.7 2004.2,1207.7 2004.8,1208.2 2005.3,1207.5 2005.9,1208.0 2006.5,1208.1 2007.1,1208.0 2007.6,1207.6 2008.2,1208.1 2008.8,1207.0 2009.4,1207.9 2010.0,1206.7 2010.5,1206.8 2011.1,1207.9 2011.7,1207.6 2012.3,1208.2 2012.8,1207.7 2013.4,1208.2 2014.0,1207.4 2014.6,1208.1 2015.1,1208.7 2015.7,1208.4 2016.3,1208.1 2016.9,1207.6 2017.5,1207.1 2018.0,1207.0 2018.6,1206.6 2019.2,1207.9 2019.8,1207.6 2020.3,1207.2 2020.9,1207.9 2021.5,1207.4 2022.1,1208.2 2022.6,1208.5 2023.2,1207.6 2023.8,1206.5 2024.4,1206.2 2025.0,1208.3 2025.5,1207.8 2026.1,1207.0 2026.7,1208.5 2027.3,1206.7 2027.8,1207.2 2028.4,1207.1 2029.0,1206.7 2029.6,1206.4 2030.1,1208.6 2030.7,1206.9 2031.3,1207.4 2031.9,1207.3 2032.5,1206.1 2033.0,1206.6 2033.6,1206.7 2034.2,1207.0 2034.8,1206.1 2035.3,1206.7 2035.9,1206.0 2036.5,1206.5 2037.1,1204.6 2037.6,1206.5 2038.2,1205.5 2038.8,1206.0 2039.4,1205.0 2040.0,1205.7 2040.5,1206.6 2041.1,1207.8 2041.7,1205.5 2042.3,1205.4 2042.8,1206.4 2043.4,1206.1 2044.0,1205.5 2044.6,1206.0 2045.2,1205.7 2045.7,1206.2 2046.3,1206.2 2046.9,1206.8 2047.5,1206.1 2048.0,1206.2 2048.6,1206.2 2049.2,1207.1 2049.8,1205.8 2050.3,1207.7 2050.9,1206.4 2051.5,1206.7 2052.1,1205.0 2052.7,1205.8 2053.2,1205.4 2053.8,1204.9 2054.4,1204.7 2055.0,1204.8 2055.5,1206.5 2056.1,1206.1 2056.7,1205.5 2057.3,1205.4 2057.8,1204.7 2058.4,1204.0 2059.0,1204.3 2059.6,1205.0 2060.2,1205.0 2060.7,1204.3 2061.3,1205.5 2061.9,1204.9 2062.5,1204.5 2063.0,1203.6 2063.6,1204.7 2064.2,1204.7 2064.8,1203.9 2065.3,1203.5 2065.9,1205.4 2066.5,1204.5 2067.1,1203.4 2067.7,1204.5 2068.2,1204.3 2068.8,1204.0 2069.4,1203.3 2070.0,1204.0 2070.5,1204.4 2071.1,1203.3 2071.7,1203.0 2072.3,1203.8 2072.8,1201.8 2073.4,1203.3 2074.0,1202.7 2074.6,1202.7 2075.2,1202.9 2075.7,1203.1 2076.3,1203.0 2076.9,1203.1 2077.5,1203.1 2078.0,1203.2 2078.6,1202.5 2079.2,1203.2 2079.8,1201.9 2080.3,1203.0 2080.9,1202.9 2081.5,1201.9 2082.1,1202.0 2082.7,1202.6 2083.2,1201.6 2083.8,1201.3 2084.4,1200.1 2085.0,1202.1 2085.5,1201.9 2086.1,1201.8 2086.7,1202.2 2087.3,1201.0 2087.9,1200.7 2088.4,1200.0 2089.0,1200.4 2089.6,1200.1 2090.2,1200.4 2090.7,1200.1 2091.3,1199.5 2091.9,1199.5 2092.5,1200.4 2093.0,1198.8 2093.6,1199.9 2094.2,1200.1 2094.8,1199.9 2095.4,1199.3 2095.9,1199.7 2096.5,1199.0 2097.1,1198.8 2097.7,1197.9 2098.2,1198.9 2098.8,1198.9 2099.4,1199.4 2100.0,1198.1 2100.5,1198.1 2101.1,1197.5 2101.7,1197.9 2102.3,1197.1 2102.9,1198.0 2103.4,1197.8 2104.0,1197.2 2104.6,1195.7 2105.2,1196.0 2105.7,1197.4 2106.3,1196.3 2106.9,1196.3 2107.5,1196.0 2108.0,1196.5 2108.6,1195.1 2109.2,1195.3 2109.8,1195.7 2110.4,1196.3 2110.9,1196.2 2111.5,1196.2 2112.1,1195.7 2112.7,1194.7 2113.2,1195.9 2113.8,1195.3 2114.4,1195.1 2115.0,1194.6 2115.5,1194.4 2116.1,1193.9 2116.7,1194.2 2117.3,1193.7 2117.9,1194.5 2118.4,1194.2 2119.0,1194.7 2119.6,1192.7 2120.2,1194.3 2120.7,1193.7 2121.3,1193.6 2121.9,1192.9 2122.5,1192.9 2123.0,1192.3 2123.6,1193.2 2124.2,1192.2 2124.8,1192.6 2125.4,1192.8 2125.9,1192.3 2126.5,1192.5 2127.1,1192.4 2127.7,1193.3 2128.2,1192.5 2128.8,1192.5 2129.4,1193.1 2130.0,1192.3 2130.6,1193.5 2131.1,1191.9 2131.7,1192.9 2132.3,1192.5 2132.9,1191.2 2133.4,1192.2 2134.0,1191.7 2134.6,1191.9 2135.2,1190.8 2135.7,1191.7 2136.3,1191.3 2136.9,1191.5 2137.5,1192.4 2138.1,1191.3 2138.6,1190.1 2139.2,1190.4 2139.8,1190.7 2140.4,1191.8 2140.9,1190.8 2141.5,1190.3 2142.1,1191.4 2142.7,1191.0 2143.2,1191.0 2143.8,1190.5 2144.4,1191.6 2145.0,1190.5 2145.6,1189.5 2146.1,1189.9 2146.7,1190.1 2147.3,1190.6 2147.9,1191.8 2148.4,1190.8 2149.0,1191.1 2149.6,1192.6 2150.2,1191.3 2150.7,1190.5 2151.3,1190.9 2151.9,1189.8 2152.5,1191.0 2153.1,1191.7 2153.6,1190.6 2154.2,1191.1 2154.8,1190.4 2155.4,1190.6 2155.9,1189.8 2156.5,1190.0 2157.1,1190.1 2157.7,1191.1 2158.2,1190.8 2158.8,1190.6 2159.4,1189.8 2160.0,1189.7 2160.6,1190.1 2161.1,1190.8 2161.7,1190.4 2162.3,1189.6 2162.9,1190.4 2163.4,1191.4 2164.0,1190.4 2164.6,1192.2 2165.2,1191.8 2165.7,1192.2 2166.3,1191.1 2166.9,1192.2 2167.5,1190.5 2168.1,1191.2 2168.6,1191.0 2169.2,1190.4 2169.8,1190.9 2170.4,1192.1 2170.9,1191.8 2171.5,1192.2 2172.1,1191.6 2172.7,1189.8 2173.3,1191.8 2173.8,1191.5 2174.4,1191.4 2175.0,1191.4 2175.6,1191.6 2176.1,1191.5 2176.7,1192.7 2177.3,1192.3 2177.9,1191.9 2178.4,1191.8 2179.0,1192.6 2179.6,1192.5 2180.2,1192.4 2180.8,1191.3 2181.3,1191.9 2181.9,1191.6 2182.5,1191.3 2183.1,1193.3 2183.6,1193.1 2184.2,1193.3 2184.8,1193.2 2185.4,1194.2 2185.9,1194.8 2186.5,1194.1" stroke="#000000" stroke-width="3.4"/>
<path class="curve" d="M167.5,1374.9 168.1,1375.1 168.7,1375.4 169.2,1375.9 169.8,1376.7 170.4,1376.0 171.0,1377.1 171.5,1377.5 172.1,1377.1 172.7,1377.4 173.3,1378.0 173.8,1378.3 174.4,1378.7 175.0,1378.5 175.6,1378.8 176.2,1378.5 176.7,1378.8 177.3,1378.7 177.9,1379.1 178.5,1379.7 179.0,1380.0 179.6,1379.6 180.2,1380.5 180.8,1380.5 181.3,1380.4 181.9,1380.6 182.5,1381.7 183.1,1381.4 183.7,1381.0 184.2,1381.5 184.8,1382.9 185.4,1382.2 186.0,1382.9 186.5,1383.4 187.1,1382.0 187.7,1383.2 188.3,1383.0 188.9,1383.1 189.4,1383.4 190.0,1384.2 190.6,1384.3 191.2,1384.5 191.7,1384.2 192.3,1384.8 192.9,1385.0 193.5,1385.3 194.0,1385.2 194.6,1385.6 195.2,1386.1 195.8,1385.8 196.4,1386.0 196.9,1386.2 197.5,1386.4 198.1,1386.5 198.7,1385.7 199.2,1386.3 199.8,1386.5 200.4,1385.7 201.0,1386.2 201.5,1387.5 202.1,1386.7 202.7,1387.3 203.3,1387.9 203.9,1387.9 204.4,1388.1 205.0,1388.4 205.6,1388.6 206.2,1388.6 206.7,1388.8 207.3,1389.0 207.9,1388.7 208.5,1389.2 209.0,1389.1 209.6,1389.2 210.2,1389.3 210.8,1389.1 211.4,1389.6 211.9,1389.6 212.5,1389.3 213.1,1390.4 213.7,1390.5 214.2,1390.5 214.8,1390.2 215.4,1389.7 216.0,1391.5 216.5,1390.9 217.1,1390.4 217.7,1391.3 218.3,1390.8 218.9,1391.2 219.4,1391.1 220.0,1391.5 220.6,1391.6 221.2,1391.9 221.7,1391.7 222.3,1392.2 222.9,1391.4 223.5,1392.4 224.0,1392.4 224.6,1392.3 225.2,1392.5 225.8,1392.5 226.4,1392.7 226.9,1393.1 227.5,1392.5 228.1,1393.3 228.7,1393.6 229.2,1393.5 229.8,1393.8 230.4,1393.5 231.0,1393.9 231.6,1394.5 232.1,1393.9 232.7,1394.1 233.3,1394.3 233.9,1394.5 234.4,1394.3 235.0,1394.5 235.6,1394.0 236.2,1394.4 236.7,1394.6 237.3,1394.5 237.9,1394.7 238.5,1395.0 239.1,1394.6 239.6,1394.3 240.2,1395.0 240.8,1395.0 241.4,1394.6 241.9,1395.2 242.5,1394.8 243.1,1395.1 243.7,1395.1 244.2,1396.0 244.8,1395.8 245.4,1396.2 246.0,1396.5 246.6,1396.9 247.1,1396.8 247.7,1395.8 248.3,1396.4 248.9,1396.2 249.4,1396.6 250.0,1396.8 250.6,1396.4 251.2,1396.8 251.7,1396.8 252.3,1396.9 252.9,1397.5 253.5,1396.9 254.1,1396.7 254.6,1397.8 255.2,1396.8 255.8,1397.1 256.4,1397.2 256.9,1397.1 257.5,1397.9 258.1,1398.1 258.7,1397.8 259.2,1398.1 259.8,1398.0 260.4,1397.4 261.0,1398.2 261.6,1397.8 262.1,1397.9 262.7,1398.5 263.3,1398.8 263.9,1398.1 264.4,1398.9 265.0,1399.5 265.6,1399.0 266.2,1399.3 266.7,1399.6 267.3,1399.4 267.9,1399.2 268.5,1399.9 269.1,1399.6 269.6,1399.4 270.2,1399.4 270.8,1399.4 271.4,1399.6 271.9,1399.7 272.5,1399.4 273.1,1400.5 273.7,1400.1 274.3,1400.1 274.8,1401.0 275.4,1400.2 276.0,1400.7 276.6,1400.2 277.1,1400.7 277.7,1401.1 278.3,1401.0 278.9,1400.6 279.4,1400.4 280.0,1401.1 280.6,1400.8 281.2,1401.5 281.8,1401.2 282.3,1401.2 282.9,1401.5 283.5,1401.7 284.1,1401.6 284.6,1401.7 285.2,1402.4 285.8,1402.1 286.4,1402.5 286.9,1402.9 287.5,1402.9 288.1,1403.4 288.7,1403.1 289.3,1403.0 289.8,1403.3 290.4,1403.6 291.0,1403.1 291.6,1403.4 292.1,1403.3 292.7,1403.1 293.3,1403.5 293.9,1404.3 294.4,1403.2 295.0,1403.5 295.6,1403.7 296.2,1403.7 296.8,1404.0 297.3,1405.0 297.9,1404.1 298.5,1405.0 299.1,1404.7 299.6,1404.3 300.2,1404.0 300.8,1404.4 301.4,1404.4 301.9,1405.2 302.5,1405.1 303.1,1405.5 303.7,1405.1 304.3,1405.3 304.8,1405.0 305.4,1406.2 306.0,1405.5 306.6,1405.6 307.1,1405.9 307.7,1405.6 308.3,1405.6 308.9,1405.7 309.4,1406.3 310.0,1405.7 310.6,1406.1 311.2,1406.2 311.8,1405.9 312.3,1405.6 312.9,1405.6 313.5,1405.8 314.1,1405.6 314.6,1406.4 315.2,1406.1 315.8,1406.3 316.4,1406.1 317.0,1406.7 317.5,1406.3 318.1,1406.2 318.7,1406.4 319.3,1407.5 319.8,1406.6 320.4,1406.5 321.0,1407.4 321.6,1407.2 322.1,1406.9 322.7,1407.3 323.3,1406.3 323.9,1406.8 324.5,1406.3 325.0,1407.6 325.6,1407.3 326.2,1408.5 326.8,1407.6 327.3,1407.8 327.9,1407.2 328.5,1407.2 329.1,1407.6 329.6,1408.2 330.2,1407.5 330.8,1407.0 331.4,1408.4 332.0,1408.4 332.5,1407.7 333.1,1408.3 333.7,1408.6 334.3,1408.6 334.8,1407.5 335.4,1408.2 336.0,1407.9 336.6,1408.5 337.1,1408.3 337.7,1408.0 338.3,1408.3 338.9,1408.8 339.5,1408.3 340.0,1408.5 340.6,1408.8 341.2,1409.3 341.8,1409.0 342.3,1408.3 342.9,1408.6 343.5,1409.1 344.1,1409.4 344.6,1408.9 345.2,1409.2 345.8,1409.8 346.4,1409.1 347.0,1408.6 347.5,1408.8 348.1,1409.5 348.7,1409.6 349.3,1409.5 349.8,1409.3 350.4,1409.6 351.0,1409.5 351.6,1409.3 352.1,1410.0 352.7,1409.3 353.3,1410.1 353.9,1409.9 354.5,1410.1 355.0,1410.6 355.6,1409.8 356.2,1409.9 356.8,1410.2 357.3,1410.7 357.9,1410.8 358.5,1410.2 359.1,1410.4 359.7,1410.6 360.2,1410.0 360.8,1409.4 361.4,1409.7 362.0,1410.0 362.5,1410.2 363.1,1410.0 363.7,1410.4 364.3,1409.8 364.8,1410.5 365.4,1410.0 366.0,1410.6 366.6,1410.4 367.2,1411.0 367.7,1410.9 368.3,1410.5 368.9,1410.2 369.5,1409.5 370.0,1409.2 370.6,1408.2 371.2,1410.2 371.8,1410.3 372.3,1410.1 372.9,1409.4 373.5,1410.9 374.1,1409.3 374.7,1409.9 375.2,1409.0 375.8,1409.3 376.4,1410.2 377.0,1410.0 377.5,1409.1 378.1,1409.3 378.7,1410.0 379.3,1409.0 379.8,1410.3 380.4,1409.2 381.0,1410.0 381.6,1409.5 382.2,1409.9 382.7,1409.3 383.3,1409.5 383.9,1409.6 384.5,1409.1 385.0,1409.2 385.6,1409.1 386.2,1409.3 386.8,1409.9 387.3,1409.7 387.9,1410.0 388.5,1409.7 389.1,1409.8 389.7,1409.0 390.2,1409.6 390.8,1410.1 391.4,1409.8 392.0,1409.7 392.5,1409.7 393.1,1408.4 393.7,1409.0 394.3,1409.2 394.8,1408.9 395.4,1408.4 396.0,1408.9 396.6,1409.0 397.2,1409.8 397.7,1409.5 398.3,1408.9 398.9,1408.8 399.5,1408.8 400.0,1409.1 400.6,1408.8 401.2,1409.9 401.8,1408.8 402.4,1409.3 402.9,1409.3 403.5,1409.1 404.1,1408.4 404.7,1408.6 405.2,1408.6 405.8,1408.6 406.4,1408.2 407.0,1408.2 407.5,1408.3 408.1,1409.0 408.7,1407.8 409.3,1408.5 409.9,1409.0 410.4,1407.6 411.0,1408.8 411.6,1408.8 412.2,1408.4 412.7,1408.5 413.3,1408.8 413.9,1407.9 414.5,1408.0 415.0,1407.5 415.6,1407.7 416.2,1407.9 416.8,1407.7 417.4,1408.2 417.9,1407.6 418.5,1407.2 419.1,1408.0 419.7,1408.3 420.2,1408.1 420.8,1407.7 421.4,1407.5 422.0,1407.5 422.5,1408.2 423.1,1408.0 423.7,1407.8 424.3,1407.8 424.9,1407.2 425.4,1406.9 426.0,1406.8 426.6,1406.8 427.2,1406.2 427.7,1406.5 428.3,1406.5 428.9,1407.0 429.5,1407.2 430.0,1406.4 430.6,1406.3 431.2,1405.7 431.8,1406.1 432.4,1405.9 432.9,1405.8 433.5,1405.9 434.1,1407.1 434.7,1406.1 435.2,1405.7 435.8,1405.7 436.4,1406.0 437.0,1405.8 437.5,1405.3 438.1,1404.3 438.7,1405.3 439.3,1405.2 439.9,1405.3 440.4,1405.0 441.0,1404.9 441.6,1405.1 442.2,1404.3 442.7,1404.4 443.3,1404.0 443.9,1403.7 444.5,1403.8 445.1,1403.7 445.6,1403.7 446.2,1403.9 446.8,1404.5 447.4,1403.3 447.9,1403.2 448.5,1403.8 449.1,1403.2 449.7,1403.1 450.2,1403.0 450.8,1403.1 451.4,1402.3 452.0,1403.1 452.6,1402.8 453.1,1401.6 453.7,1402.0 454.3,1401.9 454.9,1401.8 455.4,1401.6 456.0,1401.4 456.6,1401.6 457.2,1401.8 457.7,1401.7 458.3,1401.5 458.9,1402.0 459.5,1401.2 460.1,1400.7 460.6,1401.0 461.2,1400.9 461.8,1400.5 462.4,1400.7 462.9,1400.0 463.5,1399.2 464.1,1400.0 464.7,1399.8 465.2,1399.6 465.8,1399.1 466.4,1398.9 467.0,1399.0 467.6,1399.1 468.1,1399.3 468.7,1399.3 469.3,1399.1 469.9,1398.6 470.4,1398.3 471.0,1397.5 471.6,1398.0 472.2,1397.5 472.7,1397.4 473.3,1397.1 473.9,1397.3 474.5,1396.4 475.1,1396.8 475.6,1396.5 476.2,1396.3 476.8,1395.7 477.4,1395.9 477.9,1395.1 478.5,1395.4 479.1,1395.0 479.7,1395.1 480.2,1394.2 480.8,1394.4 481.4,1394.1 482.0,1393.3 482.6,1394.2 483.1,1393.5 483.7,1392.8 484.3,1393.6 484.9,1393.1 485.4,1391.9 486.0,1392.5 486.6,1392.2 487.2,1392.2 487.8,1391.8 488.3,1391.5 488.9,1391.3 489.5,1390.3 490.1,1391.0 490.6,1391.2 491.2,1390.8 491.8,1390.8 492.4,1390.5 492.9,1389.6 493.5,1389.4 494.1,1388.9 494.7,1388.5 495.3,1389.2 495.8,1388.5 496.4,1388.4 497.0,1388.4 497.6,1388.2 498.1,1387.0 498.7,1386.9 499.3,1387.0 499.9,1386.8 500.4,1386.1 501.0,1386.1 501.6,1386.4 502.2,1386.1 502.8,1385.5 503.3,1385.2 503.9,1384.6 504.5,1384.1 505.1,1383.9 505.6,1383.9 506.2,1383.6 506.8,1383.6 507.4,1382.7 507.9,1382.1 508.5,1382.6 509.1,1381.9 509.7,1381.8 510.3,1381.5 510.8,1380.9 511.4,1380.3 512.0,1380.3 512.6,1379.1 513.1,1379.7 513.7,1378.6 514.3,1379.2 514.9,1378.5 515.4,1378.2 516.0,1377.9 516.6,1377.5 517.2,1376.5 517.8,1376.8 518.3,1376.3 518.9,1376.2 519.5,1375.6 520.1,1375.1 520.6,1375.2 521.2,1374.7 521.8,1374.1 522.4,1373.2 522.9,1372.9 523.5,1372.3 524.1,1372.4 524.7,1371.8 525.3,1371.3 525.8,1370.6 526.4,1370.0 527.0,1369.8 527.6,1368.7 528.1,1368.3 528.7,1368.3 529.3,1367.7 529.9,1367.0 530.5,1366.2 531.0,1365.7 531.6,1365.8 532.2,1365.2 532.8,1364.8 533.3,1363.8 533.9,1363.2 534.5,1362.5 535.1,1362.4 535.6,1361.1 536.2,1361.0 536.8,1360.6 537.4,1359.2 538.0,1358.6 538.5,1358.0 539.1,1357.3 539.7,1357.1 540.3,1356.4 540.8,1355.5 541.4,1355.0 542.0,1354.8 542.6,1353.7 543.1,1353.0 543.7,1352.7 544.3,1351.3 544.9,1350.6 545.5,1350.2 546.0,1349.1 546.6,1347.9 547.2,1347.4 547.8,1346.3 548.3,1345.7 548.9,1345.0 549.5,1343.8 550.1,1343.5 550.6,1342.5 551.2,1341.4 551.8,1340.1 552.4,1339.4 553.0,1338.5 553.5,1337.8 554.1,1336.8 554.7,1335.3 555.3,1334.5 555.8,1333.4 556.4,1332.4 557.0,1331.5 557.6,1330.6 558.1,1329.0 558.7,1328.0 559.3,1326.7 559.9,1325.6 560.5,1324.8 561.0,1323.1 561.6,1322.2 562.2,1321.1 562.8,1319.9 563.3,1317.8 563.9,1316.4 564.5,1314.9 565.1,1313.6 565.6,1312.2 566.2,1310.7 566.8,1309.4 567.4,1307.7 568.0,1306.4 568.5,1304.4 569.1,1302.9 569.7,1301.4 570.3,1299.3 570.8,1297.9 571.4,1296.4 572.0,1294.6 572.6,1292.8 573.2,1291.1 573.7,1289.1 574.3,1287.4 574.9,1285.4 575.5,1283.5 576.0,1281.5 576.6,1279.3 577.2,1277.1 577.8,1275.0 578.3,1273.1 578.9,1270.7 579.5,1268.3 580.1,1265.9 580.7,1263.7 581.2,1261.1 581.8,1258.3 582.4,1255.8 583.0,1253.2 583.5,1249.9 584.1,1247.0 584.7,1243.8 585.3,1240.7 585.8,1237.4 586.4,1234.0 587.0,1230.3 587.6,1226.9 588.2,1223.1 588.7,1219.1 589.3,1214.8 589.9,1210.5 590.5,1206.2 591.0,1201.3 591.6,1196.6 592.2,1191.6 592.8,1186.5 593.3,1181.1 593.9,1175.5 594.5,1169.5 595.1,1163.6 595.7,1157.6 596.2,1151.6 596.8,1145.7 597.4,1139.9 598.0,1134.4 598.5,1128.8 599.1,1123.4 599.7,1117.8 600.3,1112.3 600.8,1106.6 601.4,1100.5 602.0,1094.2 602.6,1087.6 603.2,1080.4 603.7,1072.8 604.3,1064.8 604.9,1056.5 605.5,1048.1 606.0,1039.3 606.6,1030.3 607.2,1020.8 607.8,1010.9 608.3,1000.9 608.9,990.3 609.5,979.6 610.1,968.4 610.7,956.8 611.2,944.4 611.8,931.5 612.4,917.9 613.0,904.3 613.5,890.6 614.1,877.3 614.7,864.6 615.3,852.1 615.9,839.6 616.4,826.7 617.0,812.8 617.6,797.8 618.2,781.5 618.7,763.9 619.3,744.8 619.9,724.0 620.5,700.9 621.0,674.7 621.6,646.0 622.2,615.9 622.8,585.5 623.4,555.1 623.9,522.9 624.5,487.3 625.1,445.4 625.7,391.2 626.2,340.3 626.8,294.7 627.4,246.1 628.0,201.7 628.5,173.4 629.1,151.4 629.7,138.5 630.3,132.6 630.9,128.7 631.4,122.7 632.0,102.7 632.6,84.8 633.2,72.0 633.7,65.9 634.3,70.0 634.9,81.8 635.5,97.2 636.0,121.3 636.6,131.7 637.2,147.9 637.8,184.3 638.4,226.0 638.9,274.5 639.5,333.7 640.1,406.7 640.7,481.5 641.2,554.7 641.8,598.0 642.4,631.1 643.0,656.0 643.5,673.6 644.1,686.5 644.7,699.2 645.3,716.3 645.9,742.8 646.4,777.1 647.0,813.4 647.6,852.7 648.2,894.9 648.7,939.8 649.3,992.9 649.9,1035.3 650.5,1056.2 651.0,1070.8 651.6,1082.9 652.2,1095.2 652.8,1107.3 653.4,1118.6 653.9,1129.4 654.5,1140.1 655.1,1150.8 655.7,1161.5 656.2,1171.8 656.8,1181.8 657.4,1190.9 658.0,1199.4 658.6,1207.3 659.1,1214.9 659.7,1222.1 660.3,1229.1 660.9,1235.6 661.4,1242.3 662.0,1248.8 662.6,1255.2 663.2,1261.2 663.7,1266.9 664.3,1272.1 664.9,1276.7 665.5,1281.0 666.1,1285.2 666.6,1289.1 667.2,1292.9 667.8,1296.6 668.4,1300.3 668.9,1303.4 669.5,1306.6 670.1,1309.9 670.7,1312.9 671.2,1315.6 671.8,1318.3 672.4,1320.7 673.0,1323.4 673.6,1325.9 674.1,1328.2 674.7,1330.6 675.3,1332.9 675.9,1335.1 676.4,1337.1 677.0,1339.1 677.6,1341.4 678.2,1343.6 678.7,1345.3 679.3,1347.1 679.9,1348.8 680.5,1350.6 681.1,1352.5 681.6,1353.6 682.2,1355.5 682.8,1356.4 683.4,1358.2 683.9,1359.4 684.5,1360.5 685.1,1362.0 685.7,1363.5 686.2,1364.4 686.8,1366.0 687.4,1367.0 688.0,1368.1 688.6,1369.5 689.1,1370.0 689.7,1371.4 690.3,1372.3 690.9,1373.5 691.4,1374.5 692.0,1375.2 692.6,1376.5 693.2,1377.5 693.8,1378.2 694.3,1379.3 694.9,1380.3 695.5,1381.0 696.1,1382.0 696.6,1382.2 697.2,1382.8 697.8,1384.2 698.4,1384.2 698.9,1385.4 699.5,1385.9 700.1,1386.5 700.7,1386.9 701.3,1387.9 701.8,1388.5 702.4,1389.2 703.0,1389.8 703.6,1389.9 704.1,1391.0 704.7,1391.4 705.3,1392.2 705.9,1391.9 706.4,1392.9 707.0,1393.3 707.6,1394.0 708.2,1394.7 708.8,1395.3 709.3,1395.9 709.9,1396.0 710.5,1396.3 711.1,1396.6 711.6,1396.7 712.2,1397.8 712.8,1397.6 713.4,1398.2 713.9,1398.9 714.5,1398.9 715.1,1399.4 715.7,1399.2 716.3,1400.1 716.8,1400.4 717.4,1400.9 718.0,1401.5 718.6,1401.8 719.1,1402.0 719.7,1402.5 720.3,1403.1 720.9,1403.5 721.4,1403.5 722.0,1403.6 722.6,1404.2 723.2,1404.0 723.8,1404.3 724.3,1404.8 724.9,1405.0 725.5,1405.2 726.1,1405.7 726.6,1406.3 727.2,1406.6 727.8,1407.0 728.4,1406.9 728.9,1407.4 729.5,1407.5 730.1,1407.6 730.7,1408.7 731.3,1407.9 731.8,1408.2 732.4,1408.8 733.0,1409.4 733.6,1409.2 734.1,1409.8 734.7,1409.3 735.3,1409.6 735.9,1410.0 736.5,1410.0 737.0,1410.3 737.6,1410.4 738.2,1410.7 738.8,1410.7 739.3,1411.4 739.9,1411.6 740.5,1411.9 741.1,1412.3 741.6,1412.3 742.2,1412.5 742.8,1412.9 743.4,1412.5 744.0,1412.4 744.5,1412.8 745.1,1412.9 745.7,1413.7 746.3,1413.9 746.8,1414.2 747.4,1414.8 748.0,1415.0 748.6,1415.1 749.1,1415.2 749.7,1415.2 750.3,1415.2 750.9,1415.4 751.5,1415.5 752.0,1415.3 752.6,1415.8 753.2,1416.4 753.8,1416.3 754.3,1416.4 754.9,1416.8 755.5,1416.8 756.1,1416.6 756.6,1417.6 757.2,1417.5 757.8,1417.4 758.4,1418.2 759.0,1418.0 759.5,1418.3 760.1,1417.6 760.7,1417.9 761.3,1418.3 761.8,1418.3 762.4,1418.3 763.0,1418.2 763.6,1418.6 764.1,1419.0 764.7,1418.9 765.3,1420.0 765.9,1420.1 766.5,1419.4 767.0,1420.0 767.6,1419.4 768.2,1420.0 768.8,1420.3 769.3,1420.1 769.9,1420.2 770.5,1420.4 771.1,1421.0 771.6,1421.4 772.2,1420.6 772.8,1420.7 773.4,1421.0 774.0,1421.1 774.5,1421.0 775.1,1421.4 775.7,1421.1 776.3,1421.2 776.8,1422.0 777.4,1422.2 778.0,1422.7 778.6,1422.1 779.2,1421.8 779.7,1422.2 780.3,1422.3 780.9,1422.3 781.5,1422.6 782.0,1423.3 782.6,1423.3 783.2,1423.8 783.8,1423.3 784.3,1423.3 784.9,1424.0 785.5,1423.1 786.1,1423.2 786.7,1423.4 787.2,1423.1 787.8,1423.8 788.4,1424.4 789.0,1424.1 789.5,1424.3 790.1,1423.9 790.7,1423.9 791.3,1424.4 791.8,1423.8 792.4,1423.7 793.0,1424.4 793.6,1425.1 794.2,1425.0 794.7,1425.0 795.3,1424.8 795.9,1424.8 796.5,1425.4 797.0,1425.3 797.6,1425.2 798.2,1425.8 798.8,1425.3 799.3,1425.0 799.9,1425.6 800.5,1425.9 801.1,1426.0 801.7,1426.2 802.2,1425.6 802.8,1426.2 803.4,1426.1 804.0,1426.0 804.5,1425.7 805.1,1426.7 805.7,1426.4 806.3,1426.4 806.8,1427.0 807.4,1427.6 808.0,1426.3 808.6,1426.9 809.2,1427.4 809.7,1427.6 810.3,1426.7 810.9,1426.7 811.5,1426.1 812.0,1426.8 812.6,1426.4 813.2,1426.6 813.8,1427.6 814.3,1427.0 814.9,1426.9 815.5,1427.7 816.1,1427.8 816.7,1427.9 817.2,1428.2 817.8,1427.7 818.4,1427.7 819.0,1428.2 819.5,1428.0 820.1,1428.8 820.7,1428.7 821.3,1428.5 821.9,1428.5 822.4,1428.6 823.0,1428.6 823.6,1427.9 824.2,1428.1 824.7,1428.3 825.3,1428.3 825.9,1428.1 826.5,1428.2 827.0,1428.6 827.6,1428.4 828.2,1428.7 828.8,1429.0 829.4,1429.0 829.9,1429.0 830.5,1428.9 831.1,1429.7 831.7,1429.5 832.2,1429.6 832.8,1430.0 833.4,1429.8 834.0,1429.0 834.5,1429.0 835.1,1430.0 835.7,1428.5 836.3,1429.6 836.9,1428.8 837.4,1429.5 838.0,1429.9 838.6,1429.5 839.2,1430.3 839.7,1429.4 840.3,1430.2 840.9,1430.4 841.5,1430.6 842.0,1430.5 842.6,1430.6 843.2,1430.5 843.8,1430.0 844.4,1429.7 844.9,1430.2 845.5,1429.9 846.1,1429.4 846.7,1429.3 847.2,1430.3 847.8,1430.4 848.4,1430.7 849.0,1430.7 849.5,1430.1 850.1,1430.6 850.7,1430.0 851.3,1430.5 851.9,1430.4 852.4,1431.0 853.0,1430.6 853.6,1430.4 854.2,1430.5 854.7,1430.8 855.3,1431.1 855.9,1431.6 856.5,1431.1 857.0,1431.0 857.6,1431.7 858.2,1431.6 858.8,1431.8 859.4,1431.7 859.9,1432.2 860.5,1431.8 861.1,1430.9 861.7,1431.3 862.2,1431.8 862.8,1431.4 863.4,1431.9 864.0,1432.3 864.6,1432.4 865.1,1431.9 865.7,1430.8 866.3,1431.9 866.9,1431.2 867.4,1431.6 868.0,1431.5 868.6,1432.4 869.2,1431.9 869.7,1432.1 870.3,1432.2 870.9,1431.8 871.5,1431.6 872.1,1432.4 872.6,1432.3 873.2,1432.6 873.8,1431.9 874.4,1431.9 874.9,1433.3 875.5,1432.9 876.1,1431.7 876.7,1432.6 877.2,1432.4 877.8,1432.2 878.4,1432.5 879.0,1433.4 879.6,1432.3 880.1,1433.1 880.7,1432.6 881.3,1432.4 881.9,1434.0 882.4,1433.2 883.0,1432.3 883.6,1432.2 884.2,1432.1 884.7,1431.8 885.3,1432.4 885.9,1432.5 886.5,1432.2 887.1,1432.7 887.6,1432.4 888.2,1433.2 888.8,1432.5 889.4,1433.2 889.9,1433.4 890.5,1432.7 891.1,1433.7 891.7,1432.6 892.2,1432.7 892.8,1432.8 893.4,1432.9 894.0,1433.1 894.6,1432.5 895.1,1432.0 895.7,1433.2 896.3,1433.0 896.9,1433.1 897.4,1432.3 898.0,1433.0 898.6,1432.9 899.2,1433.4 899.7,1433.5 900.3,1432.4 900.9,1432.5 901.5,1432.2 902.1,1431.9 902.6,1432.6 903.2,1432.4 903.8,1431.9 904.4,1432.1 904.9,1432.6 905.5,1431.7 906.1,1432.5 906.7,1432.8 907.3,1432.8 907.8,1432.0 908.4,1433.1 909.0,1433.3 909.6,1432.1 910.1,1433.2 910.7,1432.9 911.3,1432.8 911.9,1432.2 912.4,1433.0 913.0,1432.0 913.6,1432.5 914.2,1432.5 914.8,1432.2 915.3,1431.9 915.9,1432.1 916.5,1431.9 917.1,1432.3 917.6,1431.9 918.2,1431.9 918.8,1432.3 919.4,1432.3 919.9,1433.2 920.5,1433.8 921.1,1433.0 921.7,1433.2 922.3,1432.3 922.8,1432.6 923.4,1432.5 924.0,1433.0 924.6,1432.5 925.1,1432.1 925.7,1432.8 926.3,1432.2 926.9,1432.6 927.4,1433.0 928.0,1433.2 928.6,1433.2 929.2,1432.8 929.8,1432.6 930.3,1432.3 930.9,1432.4 931.5,1433.5 932.1,1432.6 932.6,1433.1 933.2,1432.1 933.8,1432.0 934.4,1432.4 934.9,1432.1 935.5,1432.2 936.1,1433.4 936.7,1432.2 937.3,1432.5 937.8,1432.7 938.4,1432.9 939.0,1432.2 939.6,1431.9 940.1,1432.8 940.7,1432.4 941.3,1432.0 941.9,1432.4 942.4,1432.8 943.0,1431.4 943.6,1431.7 944.2,1432.6 944.8,1432.3 945.3,1432.1 945.9,1431.9 946.5,1432.0 947.1,1432.0 947.6,1431.4 948.2,1431.7 948.8,1432.2 949.4,1432.0 950.0,1431.7 950.5,1432.2 951.1,1431.7 951.7,1432.4 952.3,1432.5 952.8,1432.0 953.4,1432.3 954.0,1432.4 954.6,1432.9 955.1,1432.8 955.7,1432.5 956.3,1432.4 956.9,1432.7 957.5,1432.4 958.0,1432.3 958.6,1431.5 959.2,1432.1 959.8,1432.1 960.3,1432.2 960.9,1431.9 961.5,1431.6 962.1,1432.3 962.6,1432.4 963.2,1431.9 963.8,1431.7 964.4,1432.0 965.0,1432.5 965.5,1432.9 966.1,1432.7 966.7,1432.3 967.3,1432.2 967.8,1432.1 968.4,1433.0 969.0,1432.0 969.6,1433.0 970.1,1432.6 970.7,1432.8 971.3,1431.6 971.9,1432.4 972.5,1431.7 973.0,1431.6 973.6,1431.7 974.2,1431.6 974.8,1431.7 975.3,1431.9 975.9,1432.7 976.5,1431.9 977.1,1431.5 977.6,1432.3 978.2,1432.6 978.8,1431.0 979.4,1432.1 980.0,1431.4 980.5,1431.3 981.1,1432.0 981.7,1432.4 982.3,1432.5 982.8,1432.0 983.4,1431.8 984.0,1432.2 984.6,1432.3 985.1,1432.5 985.7,1432.6 986.3,1432.2 986.9,1432.3 987.5,1432.3 988.0,1432.0 988.6,1432.0 989.2,1432.2 989.8,1432.0 990.3,1430.6 990.9,1432.1 991.5,1431.5 992.1,1433.1 992.7,1433.0 993.2,1432.8 993.8,1433.1 994.4,1432.0 995.0,1432.1 995.5,1431.8 996.1,1432.1 996.7,1431.7 997.3,1431.8 997.8,1431.8 998.4,1432.2 999.0,1431.7 999.6,1431.6 1000.2,1431.5 1000.7,1431.7 1001.3,1431.8 1001.9,1431.0 1002.5,1431.3 1003.0,1431.6 1003.6,1431.4 1004.2,1431.2 1004.8,1431.7 1005.3,1431.1 1005.9,1432.0 1006.5,1431.5 1007.1,1431.7 1007.7,1431.6 1008.2,1432.2 1008.8,1432.1 1009.4,1432.2 1010.0,1431.6 1010.5,1431.6 1011.1,1431.9 1011.7,1431.1 1012.3,1431.5 1012.8,1431.1 1013.4,1431.2 1014.0,1431.5 1014.6,1430.6 1015.2,1431.1 1015.7,1430.9 1016.3,1431.2 1016.9,1431.4 1017.5,1431.4 1018.0,1431.6 1018.6,1431.5 1019.2,1431.1 1019.8,1432.0 1020.3,1431.6 1020.9,1431.7 1021.5,1431.3 1022.1,1430.6 1022.7,1431.5 1023.2,1430.9 1023.8,1431.8 1024.4,1431.7 1025.0,1431.0 1025.5,1431.6 1026.1,1431.2 1026.7,1430.9 1027.3,1430.3 1027.8,1431.2 1028.4,1431.6 1029.0,1431.8 1029.6,1431.2 1030.2,1431.2 1030.7,1431.2 1031.3,1430.8 1031.9,1430.6 1032.5,1431.0 1033.0,1431.2 1033.6,1430.5 1034.2,1430.9 1034.8,1430.9 1035.4,1430.9 1035.9,1430.8 1036.5,1430.9 1037.1,1430.2 1037.7,1430.7 1038.2,1430.0 1038.8,1430.1 1039.4,1430.6 1040.0,1430.0 1040.5,1430.7 1041.1,1430.7 1041.7,1431.1 1042.3,1429.7 1042.9,1428.6 1043.4,1429.6 1044.0,1430.6 1044.6,1429.9 1045.2,1429.9 1045.7,1430.0 1046.3,1430.0 1046.9,1429.8 1047.5,1430.5 1048.0,1429.8 1048.6,1429.4 1049.2,1429.5 1049.8,1429.8 1050.4,1429.8 1050.9,1430.0 1051.5,1429.7 1052.1,1429.4 1052.7,1428.7 1053.2,1429.3 1053.8,1428.7 1054.4,1429.2 1055.0,1428.8 1055.5,1429.5 1056.1,1429.4 1056.7,1429.0 1057.3,1428.4 1057.9,1429.1 1058.4,1428.8 1059.0,1428.0 1059.6,1428.4 1060.2,1428.4 1060.7,1427.9 1061.3,1426.9 1061.9,1427.5 1062.5,1427.6 1063.0,1426.8 1063.6,1427.5 1064.2,1427.0 1064.8,1427.2 1065.4,1426.0 1065.9,1426.2 1066.5,1426.2 1067.1,1425.3 1067.7,1425.5 1068.2,1425.8 1068.8,1424.6 1069.4,1425.2 1070.0,1424.7 1070.5,1423.9 1071.1,1423.5 1071.7,1423.1 1072.3,1423.3 1072.9,1422.2 1073.4,1422.7 1074.0,1421.8 1074.6,1421.9 1075.2,1421.4 1075.7,1421.3 1076.3,1420.5 1076.9,1420.1 1077.5,1420.3 1078.1,1420.1 1078.6,1419.1 1079.2,1418.6 1079.8,1418.5 1080.4,1417.8 1080.9,1417.1 1081.5,1416.5 1082.1,1415.6 1082.7,1415.5 1083.2,1414.8 1083.8,1414.4 1084.4,1413.5 1085.0,1413.0 1085.6,1411.8 1086.1,1411.5 1086.7,1410.5 1087.3,1410.1 1087.9,1409.2 1088.4,1408.2 1089.0,1407.4 1089.6,1406.8 1090.2,1405.1 1090.7,1404.5 1091.3,1403.2 1091.9,1402.3 1092.5,1400.7 1093.1,1399.8 1093.6,1398.8 1094.2,1397.9 1094.8,1396.4 1095.4,1395.0 1095.9,1394.1 1096.5,1393.3 1097.1,1391.9 1097.7,1391.0 1098.2,1389.7 1098.8,1388.4 1099.4,1387.2 1100.0,1385.6 1100.6,1384.7 1101.1,1383.4 1101.7,1382.3 1102.3,1381.1 1102.9,1380.1 1103.4,1379.0 1104.0,1378.5 1104.6,1377.7 1105.2,1377.6 1105.7,1376.0 1106.3,1375.9 1106.9,1375.3 1107.5,1374.8 1108.1,1374.2 1108.6,1374.6 1109.2,1373.7 1109.8,1373.1 1110.4,1373.0 1110.9,1372.8 1111.5,1373.3 1112.1,1372.7 1112.7,1372.3 1113.2,1372.2 1113.8,1372.6 1114.4,1372.6 1115.0,1372.8 1115.6,1373.6 1116.1,1373.2 1116.7,1373.6 1117.3,1374.1 1117.9,1373.8 1118.4,1374.8 1119.0,1375.4 1119.6,1375.3 1120.2,1376.0 1120.8,1376.1 1121.3,1376.3 1121.9,1376.9 1122.5,1377.3 1123.1,1377.9 1123.6,1377.9 1124.2,1378.7 1124.8,1378.8 1125.4,1379.7 1125.9,1380.0 1126.5,1380.1 1127.1,1380.0 1127.7,1380.3 1128.3,1380.1 1128.8,1381.4 1129.4,1381.3 1130.0,1381.8 1130.6,1382.5 1131.1,1382.6 1131.7,1383.5 1132.3,1384.0 1132.9,1384.8 1133.4,1385.6 1134.0,1385.1 1134.6,1385.9 1135.2,1385.9 1135.8,1385.9 1136.3,1386.5 1136.9,1386.5 1137.5,1386.5 1138.1,1387.2 1138.6,1388.1 1139.2,1387.6 1139.8,1388.2 1140.4,1389.1 1140.9,1389.4 1141.5,1389.5 1142.1,1390.3 1142.7,1390.4 1143.3,1390.7 1143.8,1391.3 1144.4,1391.2 1145.0,1392.2 1145.6,1392.6 1146.1,1392.4 1146.7,1392.7 1147.3,1392.9 1147.9,1393.4 1148.4,1393.6 1149.0,1394.0 1149.6,1394.7 1150.2,1394.6 1150.8,1395.3 1151.3,1395.8 1151.9,1396.1 1152.5,1395.8 1153.1,1396.8 1153.6,1396.4 1154.2,1397.3 1154.8,1396.8 1155.4,1397.8 1155.9,1397.8 1156.5,1398.0 1157.1,1398.2 1157.7,1398.4 1158.3,1399.1 1158.8,1399.2 1159.4,1399.7 1160.0,1399.4 1160.6,1400.0 1161.1,1400.1 1161.7,1399.7 1162.3,1400.8 1162.9,1401.2 1163.5,1400.6 1164.0,1400.9 1164.6,1402.3 1165.2,1401.7 1165.8,1401.7 1166.3,1401.7 1166.9,1402.6 1167.5,1402.4 1168.1,1402.9 1168.6,1402.8 1169.2,1403.2 1169.8,1403.3 1170.4,1403.4 1171.0,1403.7 1171.5,1404.1 1172.1,1404.2 1172.7,1404.1 1173.3,1404.5 1173.8,1405.2 1174.4,1405.0 1175.0,1404.8 1175.6,1405.3 1176.1,1405.3 1176.7,1405.8 1177.3,1405.8 1177.9,1406.0 1178.5,1406.4 1179.0,1406.2 1179.6,1406.2 1180.2,1406.1 1180.8,1406.6 1181.3,1407.1 1181.9,1407.5 1182.5,1408.2 1183.1,1407.3 1183.6,1407.3 1184.2,1408.3 1184.8,1407.1 1185.4,1408.0 1186.0,1407.9 1186.5,1408.6 1187.1,1408.1 1187.7,1408.4 1188.3,1407.9 1188.8,1408.4 1189.4,1408.7 1190.0,1408.6 1190.6,1408.8 1191.1,1409.5 1191.7,1408.8 1192.3,1408.8 1192.9,1408.8 1193.5,1409.1 1194.0,1409.3 1194.6,1409.7 1195.2,1409.7 1195.8,1410.6 1196.3,1410.0 1196.9,1410.0 1197.5,1410.2 1198.1,1410.9 1198.7,1410.5 1199.2,1410.5 1199.8,1411.2 1200.4,1411.0 1201.0,1410.8 1201.5,1410.7 1202.1,1411.3 1202.7,1410.9 1203.3,1411.8 1203.8,1411.6 1204.4,1412.2 1205.0,1411.6 1205.6,1411.6 1206.2,1412.0 1206.7,1412.0 1207.3,1411.8 1207.9,1412.6 1208.5,1412.2 1209.0,1412.6 1209.6,1412.4 1210.2,1413.0 1210.8,1413.6 1211.3,1412.8 1211.9,1412.4 1212.5,1412.6 1213.1,1412.7 1213.7,1413.0 1214.2,1412.4 1214.8,1413.3 1215.4,1413.3 1216.0,1413.1 1216.5,1413.0 1217.1,1413.6 1217.7,1414.1 1218.3,1414.0 1218.8,1414.1 1219.4,1414.1 1220.0,1414.1 1220.6,1413.7 1221.2,1414.9 1221.7,1414.8 1222.3,1414.2 1222.9,1414.5 1223.5,1413.9 1224.0,1414.1 1224.6,1414.5 1225.2,1414.4 1225.8,1414.3 1226.3,1414.8 1226.9,1415.2 1227.5,1414.7 1228.1,1415.5 1228.7,1415.4 1229.2,1415.4 1229.8,1415.5 1230.4,1415.5 1231.0,1415.5 1231.5,1416.3 1232.1,1415.7 1232.7,1416.5 1233.3,1415.6 1233.8,1415.8 1234.4,1416.0 1235.0,1415.3 1235.6,1415.9 1236.2,1416.1 1236.7,1415.3 1237.3,1415.7 1237.9,1416.2 1238.5,1416.6 1239.0,1416.6 1239.6,1415.9 1240.2,1416.5 1240.8,1416.9 1241.4,1415.8 1241.9,1416.1 1242.5,1416.4 1243.1,1416.5 1243.7,1416.2 1244.2,1416.6 1244.8,1417.1 1245.4,1417.4 1246.0,1418.0 1246.5,1417.9 1247.1,1417.5 1247.7,1417.2 1248.3,1417.5 1248.9,1418.3 1249.4,1417.1 1250.0,1417.0 1250.6,1417.1 1251.2,1417.4 1251.7,1417.0 1252.3,1417.0 1252.9,1417.4 1253.5,1417.3 1254.0,1418.1 1254.6,1418.5 1255.2,1417.6 1255.8,1417.6 1256.4,1418.3 1256.9,1418.2 1257.5,1417.9 1258.1,1418.4 1258.7,1417.7 1259.2,1418.5 1259.8,1418.9 1260.4,1417.7 1261.0,1418.4 1261.5,1418.2 1262.1,1418.6 1262.7,1418.8 1263.3,1418.1 1263.9,1418.4 1264.4,1418.4 1265.0,1419.1 1265.6,1418.3 1266.2,1418.6 1266.7,1419.2 1267.3,1418.8 1267.9,1418.6 1268.5,1418.7 1269.0,1418.9 1269.6,1419.3 1270.2,1419.0 1270.8,1419.6 1271.4,1419.4 1271.9,1419.9 1272.5,1419.8 1273.1,1420.0 1273.7,1419.3 1274.2,1419.3 1274.8,1420.0 1275.4,1419.5 1276.0,1418.7 1276.5,1419.3 1277.1,1419.6 1277.7,1419.9 1278.3,1420.6 1278.9,1420.2 1279.4,1419.7 1280.0,1419.4 1280.6,1419.6 1281.2,1419.5 1281.7,1419.3 1282.3,1419.8 1282.9,1420.2 1283.5,1419.8 1284.1,1419.4 1284.6,1420.2 1285.2,1420.6 1285.8,1420.2 1286.4,1420.3 1286.9,1420.2 1287.5,1420.2 1288.1,1419.1 1288.7,1419.7 1289.2,1419.3 1289.8,1419.9 1290.4,1419.9 1291.0,1419.4 1291.6,1420.0 1292.1,1419.7 1292.7,1419.7 1293.3,1419.9 1293.9,1419.6 1294.4,1420.9 1295.0,1420.5 1295.6,1419.7 1296.2,1420.3 1296.7,1420.5 1297.3,1419.4 1297.9,1419.9 1298.5,1420.4 1299.1,1420.2 1299.6,1419.9 1300.2,1419.9 1300.8,1420.2 1301.4,1419.7 1301.9,1419.9 1302.5,1420.3 1303.1,1420.0 1303.7,1420.3 1304.2,1419.1 1304.8,1420.1 1305.4,1419.1 1306.0,1419.0 1306.6,1419.1 1307.1,1419.6 1307.7,1419.4 1308.3,1420.0 1308.9,1419.6 1309.4,1419.2 1310.0,1418.9 1310.6,1418.9 1311.2,1419.1 1311.7,1418.6 1312.3,1419.8 1312.9,1419.3 1313.5,1419.3 1314.1,1418.8 1314.6,1418.7 1315.2,1419.4 1315.8,1418.2 1316.4,1418.9 1316.9,1418.3 1317.5,1417.9 1318.1,1418.7 1318.7,1417.9 1319.2,1418.3 1319.8,1417.9 1320.4,1417.3 1321.0,1418.0 1321.6,1417.5 1322.1,1418.0 1322.7,1418.2 1323.3,1418.3 1323.9,1418.1 1324.4,1418.2 1325.0,1418.0 1325.6,1417.6 1326.2,1417.4 1326.8,1418.3 1327.3,1417.6 1327.9,1417.8 1328.5,1418.0 1329.1,1417.9 1329.6,1417.9 1330.2,1417.5 1330.8,1417.6 1331.4,1417.5 1331.9,1417.4 1332.5,1416.8 1333.1,1417.5 1333.7,1417.6 1334.3,1417.3 1334.8,1417.4 1335.4,1416.3 1336.0,1416.7 1336.6,1417.9 1337.1,1416.4 1337.7,1416.6 1338.3,1416.9 1338.9,1416.6 1339.4,1416.4 1340.0,1416.6 1340.6,1416.4 1341.2,1417.3 1341.8,1416.7 1342.3,1416.9 1342.9,1415.8 1343.5,1415.5 1344.1,1415.4 1344.6,1416.5 1345.2,1415.9 1345.8,1416.2 1346.4,1416.1 1346.9,1415.8 1347.5,1415.8 1348.1,1415.4 1348.7,1414.9 1349.3,1415.3 1349.8,1415.7 1350.4,1415.0 1351.0,1415.3 1351.6,1415.2 1352.1,1415.6 1352.7,1415.1 1353.3,1416.2 1353.9,1415.8 1354.4,1415.1 1355.0,1415.0 1355.6,1414.3 1356.2,1415.1 1356.8,1414.8 1357.3,1414.7 1357.9,1413.8 1358.5,1414.3 1359.1,1414.3 1359.6,1413.3 1360.2,1413.3 1360.8,1413.7 1361.4,1413.6 1361.9,1413.8 1362.5,1414.5 1363.1,1413.9 1363.7,1413.4 1364.3,1412.2 1364.8,1413.0 1365.4,1412.4 1366.0,1412.2 1366.6,1412.8 1367.1,1411.8 1367.7,1411.9 1368.3,1412.4 1368.9,1411.6 1369.5,1411.5 1370.0,1411.2 1370.6,1411.2 1371.2,1410.4 1371.8,1410.7 1372.3,1410.1 1372.9,1410.2 1373.5,1410.2 1374.1,1409.9 1374.6,1410.0 1375.2,1409.8 1375.8,1409.9 1376.4,1409.8 1377.0,1409.6 1377.5,1409.7 1378.1,1409.0 1378.7,1409.0 1379.3,1408.9 1379.8,1408.2 1380.4,1408.2 1381.0,1407.7 1381.6,1408.1 1382.1,1408.2 1382.7,1407.1 1383.3,1407.4 1383.9,1407.2 1384.5,1407.5 1385.0,1407.1 1385.6,1407.2 1386.2,1406.7 1386.8,1406.2 1387.3,1405.5 1387.9,1405.2 1388.5,1406.0 1389.1,1405.9 1389.6,1404.7 1390.2,1404.3 1390.8,1404.8 1391.4,1404.9 1392.0,1403.6 1392.5,1403.5 1393.1,1403.8 1393.7,1403.3 1394.3,1402.8 1394.8,1402.7 1395.4,1401.6 1396.0,1401.3 1396.6,1401.7 1397.1,1400.5 1397.7,1401.1 1398.3,1400.6 1398.9,1400.7 1399.5,1399.9 1400.0,1399.6 1400.6,1399.6 1401.2,1399.1 1401.8,1398.7 1402.3,1397.6 1402.9,1398.1 1403.5,1397.4 1404.1,1397.1 1404.6,1396.4 1405.2,1395.8 1405.8,1396.0 1406.4,1395.3 1407.0,1394.9 1407.5,1394.3 1408.1,1394.6 1408.7,1394.1 1409.3,1393.2 1409.8,1393.2 1410.4,1392.7 1411.0,1392.6 1411.6,1391.8 1412.2,1392.1 1412.7,1390.6 1413.3,1390.2 1413.9,1390.4 1414.5,1389.9 1415.0,1389.3 1415.6,1389.2 1416.2,1388.3 1416.8,1387.1 1417.3,1387.3 1417.9,1386.3 1418.5,1385.6 1419.1,1385.4 1419.7,1384.9 1420.2,1384.4 1420.8,1384.3 1421.4,1384.0 1422.0,1383.6 1422.5,1383.4 1423.1,1382.6 1423.7,1383.1 1424.3,1382.9 1424.8,1383.0 1425.4,1383.4 1426.0,1382.8 1426.6,1382.4 1427.2,1381.8 1427.7,1381.8 1428.3,1381.7 1428.9,1381.3 1429.5,1381.5 1430.0,1381.0 1430.6,1381.4 1431.2,1381.9 1431.8,1382.0 1432.3,1382.0 1432.9,1382.2 1433.5,1382.4 1434.1,1383.2 1434.7,1383.3 1435.2,1383.7 1435.8,1383.6 1436.4,1384.1 1437.0,1384.8 1437.5,1384.8 1438.1,1385.3 1438.7,1386.2 1439.3,1386.5 1439.8,1387.1 1440.4,1388.1 1441.0,1388.7 1441.6,1389.4 1442.2,1390.3 1442.7,1391.0 1443.3,1392.4 1443.9,1393.4 1444.5,1394.6 1445.0,1395.7 1445.6,1396.9 1446.2,1397.4 1446.8,1398.7 1447.3,1399.8 1447.9,1400.2 1448.5,1400.9 1449.1,1401.8 1449.7,1402.5 1450.2,1404.2 1450.8,1404.4 1451.4,1405.3 1452.0,1405.8 1452.5,1406.7 1453.1,1407.4 1453.7,1408.0 1454.3,1409.0 1454.9,1409.9 1455.4,1410.2 1456.0,1411.2 1456.6,1412.0 1457.2,1412.2 1457.7,1413.1 1458.3,1413.5 1458.9,1413.5 1459.5,1414.1 1460.0,1414.2 1460.6,1414.9 1461.2,1415.7 1461.8,1415.8 1462.4,1416.1 1462.9,1416.5 1463.5,1416.7 1464.1,1417.3 1464.7,1418.4 1465.2,1418.5 1465.8,1418.3 1466.4,1418.4 1467.0,1418.6 1467.5,1419.3 1468.1,1418.9 1468.7,1419.3 1469.3,1419.7 1469.9,1420.5 1470.4,1420.5 1471.0,1421.2 1471.6,1420.6 1472.2,1420.9 1472.7,1420.8 1473.3,1421.3 1473.9,1421.0 1474.5,1421.5 1475.0,1422.0 1475.6,1422.0 1476.2,1421.8 1476.8,1422.0 1477.4,1421.1 1477.9,1421.8 1478.5,1422.9 1479.1,1422.4 1479.7,1422.7 1480.2,1423.4 1480.8,1422.8 1481.4,1423.2 1482.0,1423.3 1482.5,1423.6 1483.1,1423.6 1483.7,1424.4 1484.3,1424.5 1484.9,1424.8 1485.4,1423.9 1486.0,1424.3 1486.6,1424.4 1487.2,1424.7 1487.7,1424.4 1488.3,1424.2 1488.9,1424.0 1489.5,1424.5 1490.0,1424.4 1490.6,1424.6 1491.2,1424.8 1491.8,1424.9 1492.4,1424.9 1492.9,1425.4 1493.5,1425.1 1494.1,1424.9 1494.7,1425.2 1495.2,1424.8 1495.8,1425.6 1496.4,1425.8 1497.0,1425.8 1497.6,1425.3 1498.1,1426.3 1498.7,1426.3 1499.3,1426.5 1499.9,1426.2 1500.4,1425.9 1501.0,1425.8 1501.6,1425.7 1502.2,1425.8 1502.7,1425.9 1503.3,1426.6 1503.9,1426.3 1504.5,1426.4 1505.1,1426.4 1505.6,1426.9 1506.2,1427.0 1506.8,1426.9 1507.4,1426.2 1507.9,1426.6 1508.5,1427.5 1509.1,1426.8 1509.7,1426.8 1510.2,1426.9 1510.8,1426.6 1511.4,1426.4 1512.0,1427.1 1512.6,1427.3 1513.1,1426.8 1513.7,1427.3 1514.3,1427.8 1514.9,1428.0 1515.4,1428.3 1516.0,1427.4 1516.6,1427.7 1517.2,1427.7 1517.7,1427.7 1518.3,1427.4 1518.9,1427.4 1519.5,1429.0 1520.1,1428.0 1520.6,1428.4 1521.2,1428.1 1521.8,1428.1 1522.4,1428.3 1522.9,1428.8 1523.5,1428.3 1524.1,1428.2 1524.7,1428.6 1525.2,1428.4 1525.8,1428.4 1526.4,1428.2 1527.0,1428.5 1527.6,1428.4 1528.1,1428.5 1528.7,1428.3 1529.3,1428.9 1529.9,1429.3 1530.4,1428.7 1531.0,1428.4 1531.6,1429.8 1532.2,1429.1 1532.7,1428.6 1533.3,1428.1 1533.9,1429.4 1534.5,1428.6 1535.1,1428.9 1535.6,1428.0 1536.2,1429.6 1536.8,1429.6 1537.4,1429.2 1537.9,1429.2 1538.5,1429.3 1539.1,1428.8 1539.7,1428.9 1540.3,1429.7 1540.8,1429.5 1541.4,1429.5 1542.0,1429.5 1542.6,1429.8 1543.1,1429.6 1543.7,1429.7 1544.3,1430.1 1544.9,1429.6 1545.4,1429.8 1546.0,1429.9 1546.6,1429.9 1547.2,1429.6 1547.8,1429.7 1548.3,1429.0 1548.9,1429.4 1549.5,1429.9 1550.1,1429.8 1550.6,1429.9 1551.2,1429.8 1551.8,1430.4 1552.4,1429.6 1552.9,1430.1 1553.5,1429.8 1554.1,1429.8 1554.7,1429.6 1555.3,1430.1 1555.8,1429.9 1556.4,1430.6 1557.0,1430.3 1557.6,1430.0 1558.1,1429.7 1558.7,1430.6 1559.3,1429.6 1559.9,1431.4 1560.4,1430.3 1561.0,1430.2 1561.6,1430.2 1562.2,1429.8 1562.8,1430.8 1563.3,1430.1 1563.9,1430.2 1564.5,1431.1 1565.1,1431.1 1565.6,1430.0 1566.2,1430.1 1566.8,1430.4 1567.4,1430.3 1567.9,1430.6 1568.5,1430.4 1569.1,1431.0 1569.7,1431.2 1570.3,1430.9 1570.8,1430.4 1571.4,1430.9 1572.0,1431.3 1572.6,1431.0 1573.1,1430.9 1573.7,1431.5 1574.3,1431.1 1574.9,1431.1 1575.4,1431.4 1576.0,1430.9 1576.6,1430.7 1577.2,1430.2 1577.8,1430.9 1578.3,1431.1 1578.9,1430.8 1579.5,1431.2 1580.1,1430.9 1580.6,1430.3 1581.2,1431.1 1581.8,1430.5 1582.4,1431.1 1583.0,1430.9 1583.5,1431.0 1584.1,1431.8 1584.7,1431.0 1585.3,1430.9 1585.8,1431.6 1586.4,1431.2 1587.0,1430.7 1587.6,1431.0 1588.1,1430.6 1588.7,1431.4 1589.3,1431.6 1589.9,1431.5 1590.5,1431.6 1591.0,1431.9 1591.6,1431.6 1592.2,1431.3 1592.8,1431.5 1593.3,1431.7 1593.9,1431.7 1594.5,1431.9 1595.1,1431.3 1595.6,1431.6 1596.2,1432.3 1596.8,1431.8 1597.4,1432.0 1598.0,1431.7 1598.5,1431.4 1599.1,1431.8 1599.7,1431.9 1600.3,1431.4 1600.8,1431.8 1601.4,1431.2 1602.0,1430.7 1602.6,1430.5 1603.1,1431.3 1603.7,1432.0 1604.3,1431.4 1604.9,1431.3 1605.5,1431.8 1606.0,1431.8 1606.6,1431.5 1607.2,1430.9 1607.8,1432.0 1608.3,1431.2 1608.9,1431.7 1609.5,1431.4 1610.1,1432.1 1610.6,1432.7 1611.2,1432.5 1611.8,1431.6 1612.4,1432.2 1613.0,1431.7 1613.5,1431.8 1614.1,1431.7 1614.7,1431.9 1615.3,1432.0 1615.8,1431.5 1616.4,1431.6 1617.0,1432.4 1617.6,1431.3 1618.1,1431.5 1618.7,1432.5 1619.3,1431.6 1619.9,1431.1 1620.5,1431.9 1621.0,1432.1 1621.6,1431.7 1622.2,1432.3 1622.8,1432.3 1623.3,1432.8 1623.9,1432.7 1624.5,1432.1 1625.1,1432.7 1625.7,1432.0 1626.2,1432.9 1626.8,1432.5 1627.4,1432.1 1628.0,1432.2 1628.5,1432.7 1629.1,1432.4 1629.7,1431.9 1630.3,1432.0 1630.8,1432.1 1631.4,1431.9 1632.0,1431.4 1632.6,1432.5 1633.2,1433.6 1633.7,1432.2 1634.3,1432.4 1634.9,1432.3 1635.5,1432.5 1636.0,1432.0 1636.6,1432.3 1637.2,1432.8 1637.8,1431.6 1638.3,1432.5 1638.9,1433.5 1639.5,1433.4 1640.1,1433.1 1640.7,1433.2 1641.2,1431.9 1641.8,1432.9 1642.4,1432.2 1643.0,1432.6 1643.5,1432.4 1644.1,1432.5 1644.7,1431.9 1645.3,1432.0 1645.8,1433.6 1646.4,1432.6 1647.0,1432.6 1647.6,1433.2 1648.2,1433.0 1648.7,1432.9 1649.3,1433.4 1649.9,1432.9 1650.5,1432.8 1651.0,1432.6 1651.6,1432.0 1652.2,1432.7 1652.8,1432.5 1653.3,1432.3 1653.9,1433.3 1654.5,1432.1 1655.1,1432.2 1655.7,1432.3 1656.2,1432.4 1656.8,1432.9 1657.4,1432.5 1658.0,1433.1 1658.5,1434.0 1659.1,1433.0 1659.7,1433.1 1660.3,1433.2 1660.8,1433.9 1661.4,1433.6 1662.0,1433.5 1662.6,1433.0 1663.2,1432.9 1663.7,1433.6 1664.3,1433.5 1664.9,1432.8 1665.5,1432.9 1666.0,1433.2 1666.6,1433.2 1667.2,1433.7 1667.8,1433.6 1668.4,1433.1 1668.9,1432.6 1669.5,1433.5 1670.1,1433.7 1670.7,1432.8 1671.2,1433.4 1671.8,1433.1 1672.4,1432.9 1673.0,1432.9 1673.5,1433.7 1674.1,1433.3 1674.7,1432.7 1675.3,1433.1 1675.9,1433.3 1676.4,1432.5 1677.0,1433.3 1677.6,1432.9 1678.2,1433.1 1678.7,1434.1 1679.3,1432.2 1679.9,1433.8 1680.5,1433.7 1681.0,1433.2 1681.6,1433.7 1682.2,1433.3 1682.8,1433.0 1683.4,1433.6 1683.9,1433.2 1684.5,1433.3 1685.1,1433.1 1685.7,1434.6 1686.2,1433.9 1686.8,1433.4 1687.4,1433.1 1688.0,1433.4 1688.5,1433.5 1689.1,1433.3 1689.7,1433.7 1690.3,1433.6 1690.9,1434.4 1691.4,1434.2 1692.0,1433.1 1692.6,1434.3 1693.2,1433.3 1693.7,1434.0 1694.3,1433.7 1694.9,1433.7 1695.5,1433.9 1696.0,1433.6 1696.6,1433.6 1697.2,1434.7 1697.8,1433.3 1698.4,1434.2 1698.9,1433.7 1699.5,1434.2 1700.1,1434.0 1700.7,1434.2 1701.2,1433.7 1701.8,1434.1 1702.4,1434.6 1703.0,1434.4 1703.6,1434.4 1704.1,1433.7 1704.7,1433.8 1705.3,1434.2 1705.9,1432.8 1706.4,1433.9 1707.0,1433.3 1707.6,1433.2 1708.2,1433.9 1708.7,1433.2 1709.3,1434.3 1709.9,1433.5 1710.5,1433.4 1711.1,1434.2 1711.6,1434.2 1712.2,1433.3 1712.8,1433.8 1713.4,1434.6 1713.9,1433.8 1714.5,1433.5 1715.1,1433.8 1715.7,1434.1 1716.2,1434.0 1716.8,1433.7 1717.4,1433.7 1718.0,1434.1 1718.6,1434.2 1719.1,1433.6 1719.7,1434.1 1720.3,1434.2 1720.9,1433.7 1721.4,1434.9 1722.0,1435.2 1722.6,1434.4 1723.2,1434.2 1723.7,1434.0 1724.3,1433.9 1724.9,1434.0 1725.5,1434.3 1726.1,1434.1 1726.6,1434.1 1727.2,1434.0 1727.8,1435.2 1728.4,1434.3 1728.9,1433.8 1729.5,1433.1 1730.1,1434.5 1730.7,1434.1 1731.2,1434.4 1731.8,1434.2 1732.4,1434.3 1733.0,1434.0 1733.6,1434.4 1734.1,1434.8 1734.7,1433.7 1735.3,1433.7 1735.9,1434.8 1736.4,1434.4 1737.0,1434.1 1737.6,1434.3 1738.2,1433.7 1738.7,1434.7 1739.3,1434.4 1739.9,1433.9 1740.5,1434.7 1741.1,1434.8 1741.6,1433.9 1742.2,1434.3 1742.8,1434.0 1743.4,1433.3 1743.9,1433.3 1744.5,1435.1 1745.1,1433.7 1745.7,1434.3 1746.3,1434.5 1746.8,1434.7 1747.4,1434.7 1748.0,1434.4 1748.6,1434.4 1749.1,1434.0 1749.7,1434.6 1750.3,1434.0 1750.9,1434.8 1751.4,1434.0 1752.0,1434.9 1752.6,1433.7 1753.2,1435.2 1753.8,1434.4 1754.3,1434.9 1754.9,1434.1 1755.5,1434.9 1756.1,1434.7 1756.6,1434.9 1757.2,1434.6 1757.8,1435.4 1758.4,1433.9 1758.9,1434.2 1759.5,1434.0 1760.1,1434.5 1760.7,1434.8 1761.3,1434.8 1761.8,1434.3 1762.4,1433.9 1763.0,1434.4 1763.6,1434.6 1764.1,1433.8 1764.7,1434.2 1765.3,1433.8 1765.9,1434.4 1766.4,1434.1 1767.0,1434.7 1767.6,1434.2 1768.2,1434.6 1768.8,1435.9 1769.3,1432.8 1769.9,1434.4 1770.5,1434.4 1771.1,1434.6 1771.6,1434.5 1772.2,1434.4 1772.8,1434.3 1773.4,1434.3 1773.9,1434.6 1774.5,1433.9 1775.1,1434.9 1775.7,1434.3 1776.3,1435.4 1776.8,1434.8 1777.4,1435.0 1778.0,1434.8 1778.6,1435.5 1779.1,1435.2 1779.7,1434.5 1780.3,1435.2 1780.9,1435.0 1781.4,1435.2 1782.0,1434.7 1782.6,1434.6 1783.2,1434.8 1783.8,1435.1 1784.3,1434.6 1784.9,1435.1 1785.5,1434.8 1786.1,1435.4 1786.6,1435.0 1787.2,1434.8 1787.8,1435.6 1788.4,1434.4 1789.0,1435.4 1789.5,1434.8 1790.1,1435.1 1790.7,1435.5 1791.3,1434.4 1791.8,1434.4 1792.4,1434.3 1793.0,1434.6 1793.6,1435.4 1794.1,1434.7 1794.7,1434.9 1795.3,1434.7 1795.9,1434.7 1796.5,1434.9 1797.0,1434.4 1797.6,1433.9 1798.2,1434.7 1798.8,1434.9 1799.3,1435.8 1799.9,1435.5 1800.5,1434.8 1801.1,1435.7 1801.6,1435.3 1802.2,1434.2 1802.8,1435.4 1803.4,1434.9 1804.0,1434.6 1804.5,1434.8 1805.1,1435.4 1805.7,1435.1 1806.3,1434.5 1806.8,1435.5 1807.4,1435.0 1808.0,1434.7 1808.6,1434.9 1809.1,1435.1 1809.7,1435.8 1810.3,1435.8 1810.9,1434.7 1811.5,1435.3 1812.0,1435.5 1812.6,1435.5 1813.2,1435.5 1813.8,1435.2 1814.3,1434.5 1814.9,1435.4 1815.5,1435.1 1816.1,1434.3 1816.6,1435.6 1817.2,1435.5 1817.8,1435.1 1818.4,1435.7 1819.0,1435.8 1819.5,1435.5 1820.1,1434.9 1820.7,1435.0 1821.3,1434.9 1821.8,1434.7 1822.4,1435.2 1823.0,1434.9 1823.6,1435.4 1824.1,1435.8 1824.7,1436.1 1825.3,1436.0 1825.9,1435.5 1826.5,1435.5 1827.0,1435.4 1827.6,1436.4 1828.2,1435.5 1828.8,1435.3 1829.3,1435.5 1829.9,1435.8 1830.5,1435.9 1831.1,1434.8 1831.7,1436.0 1832.2,1435.4 1832.8,1436.2 1833.4,1436.1 1834.0,1435.5 1834.5,1435.3 1835.1,1435.4 1835.7,1435.6 1836.3,1436.1 1836.8,1436.2 1837.4,1436.3 1838.0,1436.2 1838.6,1436.0 1839.2,1435.8 1839.7,1435.7 1840.3,1436.3 1840.9,1436.2 1841.5,1435.7 1842.0,1436.3 1842.6,1436.2 1843.2,1436.1 1843.8,1435.7 1844.3,1436.1 1844.9,1435.6 1845.5,1435.6 1846.1,1436.0 1846.7,1435.3 1847.2,1436.2 1847.8,1436.9 1848.4,1435.6 1849.0,1435.7 1849.5,1436.2 1850.1,1435.6 1850.7,1436.1 1851.3,1435.8 1851.8,1435.7 1852.4,1436.0 1853.0,1435.4 1853.6,1435.3 1854.2,1435.2 1854.7,1436.1 1855.3,1436.4 1855.9,1436.4 1856.5,1437.0 1857.0,1436.6 1857.6,1437.0 1858.2,1436.8 1858.8,1436.4 1859.3,1436.5 1859.9,1437.1 1860.5,1436.4 1861.1,1436.0 1861.7,1436.1 1862.2,1435.2 1862.8,1436.3 1863.4,1435.8 1864.0,1436.6 1864.5,1436.1 1865.1,1436.4 1865.7,1436.7 1866.3,1436.6 1866.8,1436.1 1867.4,1436.7 1868.0,1436.4 1868.6,1437.0 1869.2,1437.4 1869.7,1437.3 1870.3,1437.3 1870.9,1436.9 1871.5,1436.5 1872.0,1437.1 1872.6,1436.5 1873.2,1437.2 1873.8,1436.7 1874.4,1436.4 1874.9,1436.1 1875.5,1436.6 1876.1,1436.7 1876.7,1436.7 1877.2,1436.1 1877.8,1436.9 1878.4,1436.5 1879.0,1435.8 1879.5,1436.9 1880.1,1436.6 1880.7,1435.7 1881.3,1436.7 1881.9,1436.5 1882.4,1437.1 1883.0,1436.6 1883.6,1436.4 1884.2,1435.9 1884.7,1437.4 1885.3,1435.9 1885.9,1436.5 1886.5,1437.0 1887.0,1436.5 1887.6,1435.6 1888.2,1436.6 1888.8,1436.6 1889.4,1437.2 1889.9,1436.7 1890.5,1437.1 1891.1,1436.8 1891.7,1436.8 1892.2,1436.8 1892.8,1437.5 1893.4,1437.3 1894.0,1437.2 1894.5,1436.8 1895.1,1436.5 1895.7,1435.9 1896.3,1435.5 1896.9,1435.9 1897.4,1436.7 1898.0,1436.2 1898.6,1436.4 1899.2,1436.3 1899.7,1436.4 1900.3,1436.3 1900.9,1436.8 1901.5,1435.5 1902.0,1436.9 1902.6,1436.3 1903.2,1436.1 1903.8,1436.3 1904.4,1437.4 1904.9,1437.1 1905.5,1437.1 1906.1,1436.3 1906.7,1436.9 1907.2,1436.0 1907.8,1436.4 1908.4,1436.1 1909.0,1436.3 1909.5,1436.1 1910.1,1436.7 1910.7,1436.7 1911.3,1434.9 1911.9,1436.2 1912.4,1436.3 1913.0,1435.8 1913.6,1436.0 1914.2,1437.0 1914.7,1436.5 1915.3,1436.9 1915.9,1436.9 1916.5,1435.2 1917.1,1436.7 1917.6,1435.5 1918.2,1435.8 1918.8,1435.9 1919.4,1436.4 1919.9,1436.5 1920.5,1436.3 1921.1,1436.4 1921.7,1436.9 1922.2,1437.2 1922.8,1436.6 1923.4,1437.0 1924.0,1436.8 1924.6,1436.2 1925.1,1436.3 1925.7,1436.4 1926.3,1437.6 1926.9,1436.9 1927.4,1437.0 1928.0,1436.8 1928.6,1436.2 1929.2,1436.5 1929.7,1435.7 1930.3,1435.8 1930.9,1436.8 1931.5,1436.4 1932.1,1436.6 1932.6,1436.6 1933.2,1437.3 1933.8,1436.2 1934.4,1436.4 1934.9,1435.7 1935.5,1437.0 1936.1,1436.5 1936.7,1436.4 1937.2,1437.0 1937.8,1436.5 1938.4,1436.0 1939.0,1436.0 1939.6,1436.5 1940.1,1436.7 1940.7,1436.4 1941.3,1436.5 1941.9,1437.4 1942.4,1436.4 1943.0,1436.0 1943.6,1436.8 1944.2,1436.3 1944.7,1435.9 1945.3,1436.5 1945.9,1436.3 1946.5,1437.1 1947.1,1436.8 1947.6,1437.0 1948.2,1437.4 1948.8,1437.3 1949.4,1437.5 1949.9,1436.4 1950.5,1436.7 1951.1,1436.9 1951.7,1437.3 1952.2,1437.0 1952.8,1437.2 1953.4,1437.2 1954.0,1436.5 1954.6,1436.3 1955.1,1436.1 1955.7,1436.9 1956.3,1435.7 1956.9,1435.9 1957.4,1436.8 1958.0,1436.3 1958.6,1437.3 1959.2,1436.8 1959.8,1437.4 1960.3,1436.8 1960.9,1437.3 1961.5,1436.9 1962.1,1437.3 1962.6,1436.5 1963.2,1436.7 1963.8,1436.1 1964.4,1436.3 1964.9,1436.4 1965.5,1436.0 1966.1,1435.9 1966.7,1436.6 1967.3,1436.8 1967.8,1437.1 1968.4,1436.2 1969.0,1436.1 1969.6,1436.6 1970.1,1436.2 1970.7,1436.2 1971.3,1436.1 1971.9,1435.3 1972.4,1436.2 1973.0,1436.3 1973.6,1435.9 1974.2,1435.9 1974.8,1436.0 1975.3,1436.4 1975.9,1435.8 1976.5,1437.1 1977.1,1436.2 1977.6,1436.3 1978.2,1437.5 1978.8,1436.2 1979.4,1436.3 1979.9,1436.7 1980.5,1436.2 1981.1,1437.3 1981.7,1436.8 1982.3,1436.8 1982.8,1436.3 1983.4,1436.7 1984.0,1436.8 1984.6,1435.3 1985.1,1435.5 1985.7,1436.4 1986.3,1436.1 1986.9,1436.6 1987.4,1436.2 1988.0,1436.3 1988.6,1437.3 1989.2,1436.7 1989.8,1436.6 1990.3,1435.1 1990.9,1436.6 1991.5,1436.6 1992.1,1436.9 1992.6,1436.4 1993.2,1437.1 1993.8,1437.2 1994.4,1436.6 1994.9,1435.6 1995.5,1436.5 1996.1,1436.7 1996.7,1436.7 1997.3,1436.3 1997.8,1436.6 1998.4,1436.2 1999.0,1436.1 1999.6,1436.2 2000.1,1436.6 2000.7,1437.0 2001.3,1436.9 2001.9,1436.2 2002.5,1437.1 2003.0,1436.4 2003.6,1436.5 2004.2,1435.3 2004.8,1436.5 2005.3,1435.9 2005.9,1436.1 2006.5,1436.4 2007.1,1435.9 2007.6,1436.3 2008.2,1435.5 2008.8,1436.6 2009.4,1436.2 2010.0,1436.5 2010.5,1436.4 2011.1,1436.1 2011.7,1436.6 2012.3,1435.4 2012.8,1436.2 2013.4,1436.6 2014.0,1436.4 2014.6,1436.7 2015.1,1436.4 2015.7,1436.7 2016.3,1436.8 2016.9,1435.8 2017.5,1435.9 2018.0,1435.9 2018.6,1435.7 2019.2,1435.8 2019.8,1435.8 2020.3,1435.9 2020.9,1435.8 2021.5,1436.4 2022.1,1436.7 2022.6,1435.5 2023.2,1436.4 2023.8,1436.3 2024.4,1436.3 2025.0,1435.1 2025.5,1436.1 2026.1,1435.8 2026.7,1436.1 2027.3,1436.4 2027.8,1435.0 2028.4,1435.8 2029.0,1436.4 2029.6,1436.3 2030.1,1436.1 2030.7,1435.4 2031.3,1435.6 2031.9,1435.9 2032.5,1436.2 2033.0,1436.3 2033.6,1435.8 2034.2,1434.9 2034.8,1435.9 2035.3,1436.0 2035.9,1436.1 2036.5,1436.4 2037.1,1436.3 2037.6,1436.8 2038.2,1435.9 2038.8,1435.7 2039.4,1436.3 2040.0,1436.2 2040.5,1435.8 2041.1,1436.3 2041.7,1435.7 2042.3,1436.3 2042.8,1436.2 2043.4,1435.6 2044.0,1436.2 2044.6,1436.1 2045.2,1435.7 2045.7,1436.0 2046.3,1435.3 2046.9,1435.6 2047.5,1434.8 2048.0,1435.8 2048.6,1435.4 2049.2,1435.2 2049.8,1435.2 2050.3,1435.9 2050.9,1436.1 2051.5,1435.3 2052.1,1435.1 2052.7,1435.6 2053.2,1435.5 2053.8,1435.7 2054.4,1435.4 2055.0,1435.4 2055.5,1434.3 2056.1,1434.3 2056.7,1434.6 2057.3,1434.3 2057.8,1434.3 2058.4,1435.2 2059.0,1434.9 2059.6,1434.9 2060.2,1434.8 2060.7,1434.8 2061.3,1434.8 2061.9,1434.9 2062.5,1435.2 2063.0,1435.0 2063.6,1434.9 2064.2,1435.6 2064.8,1434.9 2065.3,1435.2 2065.9,1434.7 2066.5,1434.9 2067.1,1434.1 2067.7,1434.0 2068.2,1434.7 2068.8,1434.7 2069.4,1434.8 2070.0,1433.8 2070.5,1435.4 2071.1,1434.2 2071.7,1434.9 2072.3,1433.9 2072.8,1433.9 2073.4,1433.2 2074.0,1434.0 2074.6,1433.9 2075.2,1433.6 2075.7,1433.9 2076.3,1433.2 2076.9,1433.7 2077.5,1433.7 2078.0,1433.6 2078.6,1433.0 2079.2,1432.9 2079.8,1433.5 2080.3,1432.8 2080.9,1432.7 2081.5,1432.5 2082.1,1432.2 2082.7,1431.7 2083.2,1432.3 2083.8,1432.0 2084.4,1431.7 2085.0,1432.6 2085.5,1433.0 2086.1,1431.9 2086.7,1431.8 2087.3,1431.1 2087.9,1431.5 2088.4,1431.1 2089.0,1431.1 2089.6,1431.1 2090.2,1430.4 2090.7,1430.6 2091.3,1430.0 2091.9,1430.0 2092.5,1429.6 2093.0,1429.2 2093.6,1429.2 2094.2,1428.7 2094.8,1428.5 2095.4,1429.0 2095.9,1428.7 2096.5,1428.1 2097.1,1427.6 2097.7,1428.1 2098.2,1427.3 2098.8,1427.1 2099.4,1426.2 2100.0,1425.9 2100.5,1425.1 2101.1,1424.8 2101.7,1424.2 2102.3,1424.4 2102.9,1423.9 2103.4,1423.3 2104.0,1423.5 2104.6,1422.8 2105.2,1422.4 2105.7,1422.2 2106.3,1421.5 2106.9,1421.5 2107.5,1421.1 2108.0,1420.9 2108.6,1420.9 2109.2,1421.1 2109.8,1420.6 2110.4,1420.6 2110.9,1420.1 2111.5,1420.4 2112.1,1420.4 2112.7,1419.8 2113.2,1418.9 2113.8,1420.1 2114.4,1419.2 2115.0,1419.7 2115.5,1418.4 2116.1,1418.3 2116.7,1418.4 2117.3,1418.5 2117.9,1417.4 2118.4,1417.8 2119.0,1418.6 2119.6,1418.1 2120.2,1418.7 2120.7,1418.3 2121.3,1418.4 2121.9,1418.7 2122.5,1419.0 2123.0,1418.3 2123.6,1419.3 2124.2,1419.0 2124.8,1418.9 2125.4,1418.6 2125.9,1418.9 2126.5,1418.9 2127.1,1419.0 2127.7,1419.0 2128.2,1419.8 2128.8,1419.2 2129.4,1419.7 2130.0,1419.4 2130.6,1418.3 2131.1,1419.5 2131.7,1418.1 2132.3,1418.8 2132.9,1418.5 2133.4,1418.7 2134.0,1419.3 2134.6,1419.6 2135.2,1419.4 2135.7,1418.9 2136.3,1419.3 2136.9,1419.3 2137.5,1419.0 2138.1,1418.7 2138.6,1418.9 2139.2,1419.6 2139.8,1419.0 2140.4,1418.9 2140.9,1419.8 2141.5,1420.0 2142.1,1419.7 2142.7,1420.3 2143.2,1419.9 2143.8,1420.0 2144.4,1419.0 2145.0,1420.0 2145.6,1420.3 2146.1,1419.5 2146.7,1420.0 2147.3,1419.6 2147.9,1419.9 2148.4,1420.0 2149.0,1420.0 2149.6,1419.9 2150.2,1419.8 2150.7,1420.9 2151.3,1420.6 2151.9,1420.0 2152.5,1421.2 2153.1,1421.7 2153.6,1421.2 2154.2,1421.7 2154.8,1421.9 2155.4,1421.7 2155.9,1421.8 2156.5,1421.4 2157.1,1421.9 2157.7,1422.5 2158.2,1422.7 2158.8,1422.3 2159.4,1423.0 2160.0,1422.1 2160.6,1421.7 2161.1,1422.6 2161.7,1422.8 2162.3,1422.2 2162.9,1423.2 2163.4,1422.2 2164.0,1422.5 2164.6,1422.8 2165.2,1423.0 2165.7,1422.8 2166.3,1423.1 2166.9,1423.4 2167.5,1422.9 2168.1,1423.2 2168.6,1424.0 2169.2,1423.4 2169.8,1423.8 2170.4,1423.7 2170.9,1423.7 2171.5,1424.3 2172.1,1423.6 2172.7,1424.2 2173.3,1424.1 2173.8,1424.1 2174.4,1424.1 2175.0,1424.1 2175.6,1424.4 2176.1,1425.2 2176.7,1425.0 2177.3,1424.5 2177.9,1425.2 2178.4,1424.5 2179.0,1425.0 2179.6,1424.4 2180.2,1423.7 2180.8,1424.5 2181.3,1424.4 2181.9,1424.7 2182.5,1424.8 2183.1,1424.7 2183.6,1424.9 2184.2,1424.9 2184.8,1424.4 2185.4,1425.1 2185.9,1425.2 2186.5,1424.8" stroke="#ff0000" stroke-width="3.4"/>
<path class="curve" d="M167.5,976.4 168.1,975.9 168.7,976.7 169.2,976.3 169.8,974.9 170.4,977.1 171.0,976.5 171.5,977.7 172.1,978.9 172.7,978.2 173.3,977.4 173.8,977.8 174.4,979.2 175.0,977.5 175.6,978.9 176.2,979.2 176.7,978.1 177.3,979.3 177.9,979.9 178.5,979.1 179.0,979.3 179.6,980.0 180.2,978.8 180.8,979.2 181.3,980.8 181.9,980.5 182.5,979.7 183.1,981.1 183.7,982.8 184.2,980.3 184.8,982.2 185.4,982.3 186.0,981.8 186.5,982.5 187.1,981.8 187.7,983.9 188.3,984.3 188.9,982.5 189.4,983.3 190.0,983.5 190.6,982.8 191.2,983.6 191.7,982.7 192.3,984.1 192.9,983.4 193.5,983.9 194.0,984.6 194.6,984.9 195.2,983.4 195.8,985.1 196.4,985.6 196.9,984.9 197.5,986.5 198.1,984.6 198.7,985.1 199.2,985.9 199.8,985.2 200.4,987.1 201.0,986.5 201.5,987.8 202.1,985.6 202.7,986.0 203.3,988.0 203.9,986.1 204.4,988.0 205.0,986.4 205.6,987.2 206.2,988.3 206.7,987.3 207.3,986.3 207.9,987.0 208.5,988.6 209.0,987.7 209.6,988.5 210.2,988.3 210.8,988.5 211.4,988.1 211.9,987.7 212.5,988.7 213.1,988.7 213.7,987.4 214.2,989.3 214.8,990.2 215.4,991.3 216.0,988.6 216.5,989.9 217.1,990.3 217.7,990.7 218.3,990.0 218.9,991.3 219.4,990.7 220.0,991.3 220.6,991.0 221.2,991.7 221.7,991.0 222.3,991.7 222.9,991.4 223.5,992.3 224.0,993.2 224.6,991.8 225.2,991.5 225.8,992.0 226.4,991.9 226.9,991.1 227.5,992.8 228.1,992.3 228.7,993.6 229.2,992.8 229.8,993.8 230.4,993.7 231.0,992.9 231.6,993.2 232.1,993.3 232.7,993.6 233.3,994.9 233.9,993.9 234.4,994.3 235.0,994.0 235.6,995.9 236.2,994.2 236.7,994.6 237.3,994.2 237.9,995.2 238.5,994.5 239.1,994.9 239.6,993.8 240.2,994.0 240.8,995.7 241.4,996.2 241.9,994.3 242.5,995.9 243.1,996.0 243.7,998.5 244.2,995.3 244.8,995.6 245.4,995.2 246.0,996.8 246.6,997.1 247.1,995.9 247.7,997.8 248.3,998.5 248.9,996.7 249.4,997.8 250.0,997.2 250.6,996.7 251.2,997.2 251.7,997.3 252.3,996.4 252.9,997.4 253.5,998.3 254.1,996.7 254.6,997.3 255.2,997.0 255.8,998.2 256.4,997.7 256.9,998.6 257.5,997.5 258.1,996.7 258.7,998.8 259.2,998.2 259.8,999.7 260.4,999.3 261.0,996.6 261.6,997.2 262.1,999.1 262.7,998.4 263.3,997.4 263.9,998.9 264.4,1000.6 265.0,1000.4 265.6,999.0 266.2,1000.0 266.7,1000.6 267.3,999.8 267.9,1001.2 268.5,999.2 269.1,1002.0 269.6,1001.7 270.2,1001.0 270.8,1000.9 271.4,1000.9 271.9,999.9 272.5,1001.6 273.1,1001.7 273.7,1001.4 274.3,1001.1 274.8,1001.0 275.4,1000.4 276.0,1000.9 276.6,1000.3 277.1,1001.9 277.7,1001.0 278.3,1002.7 278.9,1001.2 279.4,1003.2 280.0,1003.6 280.6,1003.3 281.2,1002.6 281.8,1001.8 282.3,1001.8 282.9,1001.7 283.5,1002.7 284.1,1004.0 284.6,1001.6 285.2,1004.7 285.8,1002.0 286.4,1001.6 286.9,1003.1 287.5,1003.7 288.1,1002.3 288.7,1001.9 289.3,1004.5 289.8,1001.8 290.4,1003.8 291.0,1003.3 291.6,1003.0 292.1,1003.4 292.7,1002.6 293.3,1002.5 293.9,1003.8 294.4,1002.4 295.0,1002.7 295.6,1005.0 296.2,1005.3 296.8,1004.9 297.3,1005.2 297.9,1003.9 298.5,1004.1 299.1,1003.5 299.6,1001.6 300.2,1004.0 300.8,1004.3 301.4,1005.1 301.9,1003.2 302.5,1005.3 303.1,1004.0 303.7,1003.4 304.3,1004.2 304.8,1005.3 305.4,1004.4 306.0,1005.0 306.6,1003.6 307.1,1005.2 307.7,1005.8 308.3,1004.3 308.9,1005.3 309.4,1004.1 310.0,1005.3 310.6,1003.5 311.2,1005.1 311.8,1004.7 312.3,1003.8 312.9,1005.3 313.5,1004.1 314.1,1005.2 314.6,1004.6 315.2,1005.9 315.8,1004.9 316.4,1006.7 317.0,1005.8 317.5,1005.8 318.1,1003.8 318.7,1003.1 319.3,1004.3 319.8,1006.7 320.4,1004.1 321.0,1006.2 321.6,1006.1 322.1,1004.3 322.7,1004.7 323.3,1005.9 323.9,1004.3 324.5,1004.3 325.0,1004.2 325.6,1004.7 326.2,1004.8 326.8,1005.9 327.3,1005.0 327.9,1005.9 328.5,1004.7 329.1,1007.2 329.6,1005.1 330.2,1004.9 330.8,1004.2 331.4,1003.4 332.0,1003.8 332.5,1004.8 333.1,1003.6 333.7,1005.4 334.3,1003.1 334.8,1003.5 335.4,1005.5 336.0,1005.6 336.6,1004.4 337.1,1006.5 337.7,1006.6 338.3,1005.5 338.9,1003.9 339.5,1006.1 340.0,1004.6 340.6,1004.7 341.2,1005.3 341.8,1004.2 342.3,1006.5 342.9,1004.7 343.5,1006.3 344.1,1006.0 344.6,1007.0 345.2,1005.8 345.8,1006.2 346.4,1005.0 347.0,1004.9 347.5,1004.8 348.1,1005.9 348.7,1004.4 349.3,1006.5 349.8,1005.0 350.4,1004.0 351.0,1004.5 351.6,1006.2 352.1,1005.0 352.7,1006.5 353.3,1004.3 353.9,1006.3 354.5,1006.9 355.0,1006.2 355.6,1005.7 356.2,1004.1 356.8,1003.4 357.3,1003.5 357.9,1005.7 358.5,1005.8 359.1,1006.2 359.7,1005.0 360.2,1006.1 360.8,1003.9 361.4,1005.7 362.0,1004.2 362.5,1004.9 363.1,1006.1 363.7,1006.4 364.3,1005.3 364.8,1004.9 365.4,1006.6 366.0,1006.1 366.6,1004.2 367.2,1005.0 367.7,1004.9 368.3,1005.7 368.9,1005.5 369.5,1005.2 370.0,1004.9 370.6,1004.0 371.2,1005.4 371.8,1004.7 372.3,1002.8 372.9,1004.6 373.5,1005.3 374.1,1004.5 374.7,1004.1 375.2,1004.1 375.8,1004.8 376.4,1003.4 377.0,1004.3 377.5,1005.3 378.1,1005.1 378.7,1005.3 379.3,1004.2 379.8,1005.5 380.4,1004.3 381.0,1004.9 381.6,1003.0 382.2,1004.9 382.7,1003.2 383.3,1003.7 383.9,1005.0 384.5,1003.9 385.0,1003.5 385.6,1003.8 386.2,1004.8 386.8,1004.6 387.3,1004.6 387.9,1003.6 388.5,1003.6 389.1,1004.8 389.7,1004.7 390.2,1003.0 390.8,1003.0 391.4,1004.5 392.0,1004.8 392.5,1003.8 393.1,1002.6 393.7,1004.8 394.3,1003.1 394.8,1003.4 395.4,1001.0 396.0,1002.0 396.6,1002.6 397.2,1003.3 397.7,1002.0 398.3,1001.3 398.9,1001.2 399.5,1002.1 400.0,1002.5 400.6,1002.2 401.2,1000.6 401.8,1001.5 402.4,1001.9 402.9,1002.5 403.5,1002.2 404.1,1002.1 404.7,1000.3 405.2,1002.7 405.8,1001.5 406.4,1001.7 407.0,1000.3 407.5,1000.6 408.1,1000.2 408.7,1000.3 409.3,999.8 409.9,1001.2 410.4,1001.3 411.0,1000.0 411.6,999.6 412.2,999.4 412.7,999.6 413.3,1001.1 413.9,999.5 414.5,1001.1 415.0,998.5 415.6,998.5 416.2,998.5 416.8,998.7 417.4,999.7 417.9,1000.6 418.5,998.5 419.1,999.1 419.7,999.6 420.2,1000.1 420.8,998.2 421.4,998.8 422.0,999.0 422.5,997.9 423.1,998.4 423.7,997.6 424.3,997.0 424.9,997.3 425.4,998.7 426.0,998.6 426.6,997.5 427.2,996.0 427.7,997.9 428.3,996.7 428.9,997.9 429.5,996.7 430.0,995.5 430.6,996.3 431.2,996.0 431.8,997.6 432.4,994.3 432.9,995.6 433.5,995.4 434.1,993.6 434.7,995.6 435.2,995.6 435.8,995.5 436.4,995.4 437.0,994.5 437.5,995.1 438.1,993.8 438.7,994.4 439.3,994.4 439.9,994.3 440.4,994.6 441.0,993.8 441.6,994.0 442.2,993.7 442.7,994.3 443.3,994.3 443.9,993.0 444.5,994.7 445.1,994.7 445.6,993.2 446.2,992.7 446.8,992.1 447.4,992.2 447.9,991.8 448.5,992.5 449.1,991.6 449.7,992.0 450.2,991.7 450.8,990.7 451.4,989.9 452.0,989.8 452.6,989.7 453.1,990.6 453.7,991.7 454.3,989.9 454.9,991.0 455.4,989.9 456.0,990.8 456.6,991.3 457.2,990.0 457.7,989.5 458.3,989.6 458.9,990.1 459.5,988.6 460.1,988.1 460.6,988.6 461.2,989.6 461.8,987.5 462.4,988.8 462.9,988.5 463.5,987.4 464.1,986.8 464.7,986.1 465.2,986.2 465.8,987.0 466.4,987.2 467.0,986.0 467.6,985.6 468.1,985.3 468.7,987.5 469.3,984.5 469.9,984.1 470.4,986.1 471.0,984.0 471.6,985.4 472.2,983.9 472.7,985.2 473.3,985.2 473.9,983.4 474.5,983.7 475.1,982.5 475.6,983.6 476.2,982.7 476.8,982.3 477.4,983.2 477.9,982.8 478.5,982.3 479.1,981.7 479.7,982.2 480.2,981.0 480.8,980.7 481.4,980.8 482.0,981.0 482.6,980.0 483.1,979.2 483.7,978.8 484.3,978.8 484.9,978.9 485.4,980.9 486.0,977.7 486.6,978.2 487.2,978.2 487.8,977.0 488.3,976.4 488.9,977.5 489.5,977.9 490.1,977.6 490.6,976.7 491.2,975.9 491.8,976.6 492.4,974.4 492.9,975.0 493.5,976.5 494.1,975.6 494.7,975.2 495.3,975.0 495.8,974.3 496.4,973.5 497.0,974.3 497.6,973.6 498.1,973.3 498.7,970.9 499.3,973.7 499.9,972.9 500.4,973.4 501.0,971.6 501.6,970.1 502.2,970.1 502.8,970.1 503.3,971.6 503.9,969.2 504.5,969.1 505.1,969.8 505.6,969.5 506.2,969.2 506.8,967.9 507.4,969.3 507.9,967.9 508.5,966.8 509.1,967.2 509.7,965.3 510.3,965.2 510.8,965.3 511.4,964.6 512.0,964.9 512.6,964.7 513.1,964.3 513.7,963.8 514.3,964.6 514.9,963.0 515.4,962.7 516.0,962.3 516.6,962.0 517.2,961.1 517.8,962.9 518.3,960.8 518.9,960.9 519.5,959.7 520.1,958.8 520.6,958.9 521.2,958.5 521.8,957.7 522.4,958.1 522.9,958.7 523.5,957.5 524.1,957.7 524.7,957.5 525.3,955.1 525.8,956.9 526.4,954.4 527.0,956.0 527.6,954.5 528.1,954.2 528.7,954.7 529.3,953.5 529.9,951.3 530.5,950.7 531.0,950.6 531.6,951.4 532.2,950.4 532.8,950.1 533.3,949.4 533.9,949.4 534.5,947.5 535.1,946.4 535.6,946.7 536.2,947.0 536.8,945.2 537.4,943.9 538.0,944.6 538.5,944.7 539.1,943.9 539.7,942.9 540.3,942.2 540.8,940.7 541.4,941.2 542.0,941.4 542.6,939.4 543.1,939.9 543.7,937.5 544.3,937.3 544.9,936.6 545.5,936.1 546.0,934.4 546.6,935.3 547.2,933.9 547.8,932.1 548.3,932.8 548.9,931.9 549.5,930.2 550.1,930.0 550.6,929.7 551.2,928.9 551.8,927.9 552.4,926.7 553.0,926.3 553.5,925.8 554.1,925.5 554.7,924.0 555.3,923.2 555.8,922.4 556.4,921.1 557.0,919.5 557.6,918.9 558.1,918.1 558.7,917.2 559.3,916.1 559.9,914.6 560.5,913.7 561.0,912.8 561.6,911.4 562.2,910.3 562.8,908.8 563.3,908.4 563.9,907.5 564.5,906.1 565.1,905.0 565.6,903.9 566.2,902.1 566.8,900.9 567.4,899.4 568.0,898.8 568.5,896.8 569.1,896.1 569.7,894.1 570.3,894.4 570.8,892.6 571.4,890.7 572.0,889.5 572.6,888.7 573.2,886.6 573.7,884.5 574.3,883.4 574.9,881.7 575.5,880.4 576.0,878.6 576.6,876.4 577.2,875.3 577.8,873.9 578.3,872.5 578.9,870.3 579.5,869.0 580.1,867.1 580.7,864.9 581.2,863.3 581.8,860.1 582.4,859.3 583.0,857.3 583.5,854.8 584.1,852.8 584.7,850.2 585.3,848.2 585.8,846.0 586.4,843.6 587.0,841.5 587.6,838.8 588.2,836.9 588.7,834.9 589.3,832.4 589.9,829.4 590.5,827.3 591.0,824.3 591.6,821.3 592.2,818.7 592.8,816.1 593.3,813.2 593.9,810.5 594.5,807.2 595.1,804.2 595.7,801.4 596.2,798.0 596.8,794.9 597.4,791.5 598.0,788.1 598.5,784.4 599.1,780.3 599.7,776.7 600.3,772.3 600.8,768.4 601.4,764.2 602.0,760.2 602.6,756.0 603.2,752.0 603.7,747.7 604.3,743.4 604.9,739.0 605.5,734.6 606.0,730.0 606.6,725.5 607.2,721.6 607.8,717.5 608.3,713.1 608.9,709.5 609.5,705.7 610.1,702.5 610.7,699.5 611.2,696.3 611.8,693.2 612.4,690.0 613.0,687.6 613.5,684.9 614.1,682.6 614.7,679.3 615.3,676.8 615.9,674.1 616.4,671.7 617.0,668.3 617.6,666.0 618.2,662.8 618.7,659.8 619.3,656.7 619.9,654.0 620.5,651.6 621.0,648.5 621.6,645.6 622.2,642.8 622.8,639.8 623.4,636.1 623.9,632.7 624.5,630.0 625.1,628.4 625.7,627.5 626.2,628.2 626.8,631.2 627.4,633.7 628.0,637.0 628.5,640.3 629.1,643.8 629.7,646.9 630.3,649.5 630.9,652.8 631.4,656.0 632.0,659.3 632.6,662.4 633.2,665.6 633.7,668.6 634.3,671.7 634.9,674.3 635.5,677.5 636.0,679.9 636.6,682.9 637.2,685.0 637.8,687.5 638.4,690.6 638.9,693.4 639.5,695.9 640.1,699.9 640.7,702.7 641.2,706.5 641.8,710.1 642.4,714.6 643.0,719.2 643.5,723.9 644.1,729.0 644.7,734.2 645.3,739.4 645.9,744.2 646.4,748.9 647.0,753.2 647.6,757.3 648.2,761.1 648.7,764.8 649.3,768.1 649.9,771.7 650.5,775.6 651.0,779.3 651.6,782.8 652.2,786.4 652.8,790.2 653.4,794.0 653.9,798.6 654.5,802.4 655.1,807.3 655.7,811.4 656.2,816.4 656.8,820.4 657.4,824.6 658.0,828.9 658.6,833.1 659.1,837.7 659.7,841.8 660.3,846.2 660.9,850.4 661.4,855.1 662.0,859.0 662.6,863.4 663.2,867.8 663.7,871.0 664.3,875.3 664.9,879.0 665.5,882.2 666.1,885.8 666.6,889.0 667.2,891.9 667.8,894.5 668.4,897.7 668.9,900.6 669.5,903.6 670.1,906.0 670.7,908.6 671.2,910.9 671.8,913.6 672.4,916.1 673.0,917.7 673.6,920.5 674.1,922.9 674.7,924.8 675.3,926.9 675.9,929.0 676.4,931.5 677.0,933.0 677.6,935.4 678.2,937.1 678.7,937.9 679.3,940.0 679.9,941.9 680.5,943.7 681.1,945.0 681.6,946.4 682.2,948.3 682.8,950.2 683.4,950.3 683.9,952.2 684.5,954.5 685.1,955.4 685.7,956.2 686.2,958.5 686.8,959.9 687.4,960.3 688.0,961.9 688.6,962.7 689.1,964.0 689.7,965.4 690.3,965.9 690.9,967.1 691.4,968.2 692.0,968.6 692.6,970.6 693.2,971.9 693.8,972.6 694.3,973.4 694.9,974.7 695.5,974.9 696.1,975.5 696.6,977.1 697.2,978.0 697.8,979.7 698.4,978.9 698.9,980.7 699.5,980.9 700.1,983.3 700.7,982.6 701.3,984.0 701.8,983.1 702.4,984.5 703.0,986.3 703.6,986.4 704.1,986.9 704.7,988.2 705.3,988.6 705.9,989.3 706.4,990.0 707.0,990.2 707.6,992.1 708.2,992.4 708.8,992.3 709.3,993.0 709.9,992.8 710.5,993.6 711.1,995.7 711.6,994.6 712.2,995.6 712.8,997.3 713.4,997.5 713.9,997.5 714.5,998.0 715.1,998.0 715.7,998.9 716.3,999.4 716.8,1000.8 717.4,1000.9 718.0,1000.4 718.6,1002.1 719.1,1002.0 719.7,1002.6 720.3,1003.1 720.9,1003.4 721.4,1003.6 722.0,1004.8 722.6,1005.1 723.2,1004.9 723.8,1005.3 724.3,1006.0 724.9,1006.7 725.5,1006.6 726.1,1005.8 726.6,1008.1 727.2,1007.1 727.8,1007.1 728.4,1007.9 728.9,1008.8 729.5,1008.8 730.1,1007.9 730.7,1008.7 731.3,1008.6 731.8,1009.7 732.4,1010.7 733.0,1010.3 733.6,1012.5 734.1,1012.3 734.7,1012.8 735.3,1012.7 735.9,1011.7 736.5,1013.3 737.0,1012.0 737.6,1012.7 738.2,1013.8 738.8,1013.7 739.3,1014.3 739.9,1014.3 740.5,1015.6 741.1,1015.7 741.6,1015.9 742.2,1015.4 742.8,1015.7 743.4,1017.1 744.0,1018.8 744.5,1016.4 745.1,1017.3 745.7,1016.6 746.3,1015.6 746.8,1018.3 747.4,1018.0 748.0,1018.5 748.6,1017.7 749.1,1017.6 749.7,1019.6 750.3,1018.0 750.9,1019.5 751.5,1019.9 752.0,1019.3 752.6,1019.1 753.2,1019.8 753.8,1018.2 754.3,1019.6 754.9,1019.8 755.5,1019.1 756.1,1020.2 756.6,1021.6 757.2,1023.0 757.8,1020.5 758.4,1021.9 759.0,1022.0 759.5,1021.8 760.1,1021.6 760.7,1022.6 761.3,1022.7 761.8,1021.3 762.4,1023.6 763.0,1022.3 763.6,1022.7 764.1,1022.5 764.7,1024.0 765.3,1021.9 765.9,1022.9 766.5,1023.7 767.0,1023.1 767.6,1024.0 768.2,1024.8 768.8,1025.5 769.3,1024.5 769.9,1024.4 770.5,1025.1 771.1,1025.1 771.6,1024.6 772.2,1026.4 772.8,1025.6 773.4,1025.6 774.0,1027.2 774.5,1027.0 775.1,1026.1 775.7,1027.5 776.3,1026.5 776.8,1026.7 777.4,1026.5 778.0,1028.1 778.6,1027.4 779.2,1028.2 779.7,1027.0 780.3,1027.6 780.9,1026.6 781.5,1027.5 782.0,1027.7 782.6,1027.7 783.2,1026.9 783.8,1029.2 784.3,1027.2 784.9,1029.7 785.5,1029.1 786.1,1030.4 786.7,1028.9 787.2,1030.0 787.8,1030.5 788.4,1031.8 789.0,1030.5 789.5,1031.4 790.1,1030.2 790.7,1031.2 791.3,1030.3 791.8,1030.3 792.4,1031.5 793.0,1030.1 793.6,1029.9 794.2,1031.3 794.7,1033.0 795.3,1032.4 795.9,1031.4 796.5,1031.8 797.0,1031.9 797.6,1032.4 798.2,1033.2 798.8,1030.7 799.3,1031.0 799.9,1030.3 800.5,1031.4 801.1,1033.2 801.7,1032.5 802.2,1031.4 802.8,1032.2 803.4,1032.3 804.0,1033.9 804.5,1033.3 805.1,1033.3 805.7,1033.8 806.3,1033.0 806.8,1033.5 807.4,1032.4 808.0,1032.5 808.6,1033.0 809.2,1035.5 809.7,1033.0 810.3,1033.8 810.9,1034.3 811.5,1033.2 812.0,1032.6 812.6,1035.4 813.2,1033.4 813.8,1032.8 814.3,1033.3 814.9,1033.4 815.5,1032.0 816.1,1031.8 816.7,1033.6 817.2,1033.2 817.8,1033.9 818.4,1032.9 819.0,1036.2 819.5,1034.2 820.1,1036.0 820.7,1033.5 821.3,1033.8 821.9,1033.7 822.4,1034.2 823.0,1034.3 823.6,1033.8 824.2,1033.5 824.7,1033.9 825.3,1034.3 825.9,1035.1 826.5,1033.0 827.0,1033.7 827.6,1034.6 828.2,1035.6 828.8,1033.9 829.4,1034.6 829.9,1034.1 830.5,1034.1 831.1,1034.5 831.7,1033.8 832.2,1034.0 832.8,1034.1 833.4,1035.7 834.0,1034.3 834.5,1035.8 835.1,1034.3 835.7,1034.5 836.3,1033.6 836.9,1034.4 837.4,1035.5 838.0,1035.7 838.6,1033.0 839.2,1036.3 839.7,1034.5 840.3,1034.8 840.9,1035.4 841.5,1034.8 842.0,1034.1 842.6,1035.1 843.2,1034.7 843.8,1037.0 844.4,1035.3 844.9,1033.3 845.5,1036.6 846.1,1035.8 846.7,1034.9 847.2,1033.2 847.8,1037.7 848.4,1034.2 849.0,1034.1 849.5,1034.1 850.1,1034.6 850.7,1034.9 851.3,1035.3 851.9,1035.7 852.4,1035.5 853.0,1036.7 853.6,1034.6 854.2,1036.3 854.7,1035.8 855.3,1035.4 855.9,1035.8 856.5,1035.0 857.0,1035.3 857.6,1034.5 858.2,1034.1 858.8,1033.9 859.4,1034.3 859.9,1034.8 860.5,1036.2 861.1,1035.2 861.7,1035.4 862.2,1034.3 862.8,1033.9 863.4,1035.5 864.0,1037.6 864.6,1034.5 865.1,1037.1 865.7,1034.8 866.3,1034.6 866.9,1035.1 867.4,1035.0 868.0,1036.3 868.6,1035.8 869.2,1035.7 869.7,1035.0 870.3,1036.3 870.9,1037.3 871.5,1036.0 872.1,1035.5 872.6,1035.0 873.2,1035.8 873.8,1034.7 874.4,1036.9 874.9,1034.8 875.5,1036.4 876.1,1034.1 876.7,1036.2 877.2,1036.2 877.8,1036.7 878.4,1036.3 879.0,1034.9 879.6,1038.6 880.1,1034.8 880.7,1037.0 881.3,1036.1 881.9,1035.2 882.4,1037.0 883.0,1037.4 883.6,1036.9 884.2,1034.5 884.7,1035.2 885.3,1036.4 885.9,1036.4 886.5,1037.0 887.1,1036.2 887.6,1034.6 888.2,1035.2 888.8,1036.6 889.4,1035.5 889.9,1035.2 890.5,1037.3 891.1,1037.9 891.7,1035.8 892.2,1036.1 892.8,1036.1 893.4,1036.9 894.0,1035.7 894.6,1035.7 895.1,1036.0 895.7,1035.1 896.3,1037.5 896.9,1037.9 897.4,1036.6 898.0,1036.8 898.6,1037.0 899.2,1036.8 899.7,1036.0 900.3,1037.5 900.9,1037.4 901.5,1037.6 902.1,1035.7 902.6,1036.6 903.2,1035.2 903.8,1038.0 904.4,1034.8 904.9,1035.9 905.5,1037.6 906.1,1034.7 906.7,1036.5 907.3,1035.2 907.8,1037.6 908.4,1036.4 909.0,1036.2 909.6,1035.7 910.1,1037.0 910.7,1036.8 911.3,1037.6 911.9,1037.6 912.4,1036.3 913.0,1036.9 913.6,1038.1 914.2,1037.0 914.8,1037.0 915.3,1036.8 915.9,1036.1 916.5,1036.4 917.1,1036.6 917.6,1038.9 918.2,1036.5 918.8,1035.8 919.4,1037.1 919.9,1036.6 920.5,1036.5 921.1,1037.8 921.7,1037.2 922.3,1036.6 922.8,1037.7 923.4,1038.9 924.0,1038.4 924.6,1037.4 925.1,1037.5 925.7,1037.3 926.3,1037.8 926.9,1036.8 927.4,1037.4 928.0,1036.7 928.6,1037.3 929.2,1035.5 929.8,1037.4 930.3,1037.0 930.9,1037.3 931.5,1037.6 932.1,1035.9 932.6,1036.1 933.2,1036.8 933.8,1036.7 934.4,1037.6 934.9,1037.0 935.5,1035.2 936.1,1037.2 936.7,1037.1 937.3,1037.5 937.8,1038.4 938.4,1037.8 939.0,1037.7 939.6,1036.3 940.1,1037.5 940.7,1038.6 941.3,1038.2 941.9,1036.5 942.4,1036.5 943.0,1037.4 943.6,1038.2 944.2,1037.4 944.8,1039.3 945.3,1039.9 945.9,1036.8 946.5,1039.8 947.1,1039.7 947.6,1035.8 948.2,1036.5 948.8,1037.8 949.4,1037.7 950.0,1036.8 950.5,1037.8 951.1,1038.2 951.7,1036.7 952.3,1035.7 952.8,1037.5 953.4,1038.5 954.0,1039.2 954.6,1038.8 955.1,1035.1 955.7,1036.5 956.3,1037.5 956.9,1036.7 957.5,1038.1 958.0,1038.1 958.6,1038.4 959.2,1039.2 959.8,1037.3 960.3,1039.5 960.9,1036.4 961.5,1037.0 962.1,1036.7 962.6,1036.9 963.2,1038.5 963.8,1039.6 964.4,1036.6 965.0,1039.0 965.5,1039.5 966.1,1038.7 966.7,1036.5 967.3,1038.8 967.8,1039.0 968.4,1036.7 969.0,1037.9 969.6,1039.4 970.1,1038.9 970.7,1039.6 971.3,1039.5 971.9,1037.0 972.5,1037.2 973.0,1039.2 973.6,1038.0 974.2,1039.1 974.8,1039.2 975.3,1037.8 975.9,1039.6 976.5,1039.0 977.1,1037.8 977.6,1037.6 978.2,1037.5 978.8,1038.1 979.4,1038.8 980.0,1038.5 980.5,1037.9 981.1,1036.8 981.7,1038.1 982.3,1038.1 982.8,1037.9 983.4,1037.6 984.0,1040.1 984.6,1040.0 985.1,1036.9 985.7,1039.0 986.3,1038.4 986.9,1039.6 987.5,1037.0 988.0,1038.9 988.6,1037.2 989.2,1037.8 989.8,1038.2 990.3,1039.1 990.9,1038.5 991.5,1037.2 992.1,1038.9 992.7,1038.6 993.2,1038.0 993.8,1036.4 994.4,1037.8 995.0,1039.8 995.5,1039.5 996.1,1039.0 996.7,1037.6 997.3,1038.8 997.8,1037.3 998.4,1039.0 999.0,1037.6 999.6,1036.8 1000.2,1038.6 1000.7,1038.4 1001.3,1038.4 1001.9,1037.3 1002.5,1037.4 1003.0,1039.8 1003.6,1038.8 1004.2,1040.4 1004.8,1040.8 1005.3,1038.2 1005.9,1038.7 1006.5,1036.2 1007.1,1038.9 1007.7,1038.2 1008.2,1038.7 1008.8,1038.0 1009.4,1037.6 1010.0,1037.2 1010.5,1037.2 1011.1,1039.5 1011.7,1039.0 1012.3,1040.5 1012.8,1039.4 1013.4,1038.2 1014.0,1038.0 1014.6,1040.1 1015.2,1036.6 1015.7,1038.4 1016.3,1038.0 1016.9,1036.2 1017.5,1039.1 1018.0,1038.4 1018.6,1038.1 1019.2,1037.6 1019.8,1038.1 1020.3,1038.1 1020.9,1039.1 1021.5,1037.9 1022.1,1040.7 1022.7,1038.0 1023.2,1038.5 1023.8,1037.7 1024.4,1039.1 1025.0,1037.9 1025.5,1039.6 1026.1,1039.2 1026.7,1038.7 1027.3,1036.7 1027.8,1037.9 1028.4,1037.6 1029.0,1038.4 1029.6,1036.6 1030.2,1038.4 1030.7,1038.6 1031.3,1038.0 1031.9,1038.1 1032.5,1037.1 1033.0,1038.2 1033.6,1036.2 1034.2,1036.5 1034.8,1039.7 1035.4,1037.4 1035.9,1037.5 1036.5,1036.4 1037.1,1037.1 1037.7,1037.3 1038.2,1036.1 1038.8,1035.6 1039.4,1036.5 1040.0,1038.3 1040.5,1036.6 1041.1,1039.0 1041.7,1038.0 1042.3,1037.6 1042.9,1036.6 1043.4,1037.6 1044.0,1040.1 1044.6,1036.3 1045.2,1037.8 1045.7,1039.0 1046.3,1038.4 1046.9,1037.5 1047.5,1036.8 1048.0,1038.1 1048.6,1035.4 1049.2,1038.3 1049.8,1035.8 1050.4,1034.7 1050.9,1036.0 1051.5,1036.2 1052.1,1036.1 1052.7,1034.7 1053.2,1035.5 1053.8,1036.5 1054.4,1036.3 1055.0,1036.9 1055.5,1036.1 1056.1,1034.9 1056.7,1036.1 1057.3,1036.1 1057.9,1036.1 1058.4,1036.0 1059.0,1035.9 1059.6,1035.8 1060.2,1035.9 1060.7,1034.7 1061.3,1036.5 1061.9,1035.9 1062.5,1035.2 1063.0,1035.5 1063.6,1034.8 1064.2,1035.2 1064.8,1033.6 1065.4,1033.2 1065.9,1035.3 1066.5,1034.2 1067.1,1035.3 1067.7,1035.1 1068.2,1034.2 1068.8,1035.6 1069.4,1033.4 1070.0,1034.4 1070.5,1032.9 1071.1,1034.1 1071.7,1034.7 1072.3,1033.5 1072.9,1033.3 1073.4,1032.2 1074.0,1032.7 1074.6,1031.8 1075.2,1032.2 1075.7,1031.3 1076.3,1032.2 1076.9,1031.7 1077.5,1031.2 1078.1,1031.3 1078.6,1031.4 1079.2,1030.3 1079.8,1029.5 1080.4,1029.0 1080.9,1030.3 1081.5,1029.0 1082.1,1027.7 1082.7,1027.5 1083.2,1029.1 1083.8,1027.8 1084.4,1028.9 1085.0,1028.2 1085.6,1026.5 1086.1,1025.9 1086.7,1025.3 1087.3,1026.3 1087.9,1024.6 1088.4,1025.7 1089.0,1024.8 1089.6,1025.9 1090.2,1024.2 1090.7,1023.8 1091.3,1024.3 1091.9,1022.8 1092.5,1023.5 1093.1,1022.4 1093.6,1021.9 1094.2,1021.9 1094.8,1021.6 1095.4,1020.7 1095.9,1021.4 1096.5,1020.3 1097.1,1019.6 1097.7,1020.3 1098.2,1019.2 1098.8,1019.9 1099.4,1017.4 1100.0,1019.1 1100.6,1018.1 1101.1,1018.8 1101.7,1017.3 1102.3,1016.5 1102.9,1016.1 1103.4,1016.7 1104.0,1015.0 1104.6,1015.6 1105.2,1014.8 1105.7,1017.1 1106.3,1015.6 1106.9,1014.7 1107.5,1012.2 1108.1,1014.3 1108.6,1013.7 1109.2,1013.6 1109.8,1013.4 1110.4,1012.9 1110.9,1012.1 1111.5,1012.6 1112.1,1012.7 1112.7,1012.7 1113.2,1012.7 1113.8,1012.8 1114.4,1011.7 1115.0,1012.5 1115.6,1011.3 1116.1,1011.4 1116.7,1010.8 1117.3,1011.2 1117.9,1012.3 1118.4,1011.4 1119.0,1011.1 1119.6,1010.9 1120.2,1010.0 1120.8,1009.1 1121.3,1008.2 1121.9,1010.0 1122.5,1010.3 1123.1,1010.5 1123.6,1008.1 1124.2,1008.6 1124.8,1009.4 1125.4,1008.7 1125.9,1009.5 1126.5,1009.8 1127.1,1007.9 1127.7,1009.6 1128.3,1008.5 1128.8,1008.0 1129.4,1008.5 1130.0,1007.7 1130.6,1006.7 1131.1,1008.7 1131.7,1008.2 1132.3,1008.3 1132.9,1007.6 1133.4,1006.2 1134.0,1007.8 1134.6,1009.3 1135.2,1008.1 1135.8,1008.0 1136.3,1008.1 1136.9,1007.4 1137.5,1008.0 1138.1,1007.9 1138.6,1007.3 1139.2,1007.9 1139.8,1008.1 1140.4,1007.9 1140.9,1010.2 1141.5,1007.9 1142.1,1007.1 1142.7,1008.1 1143.3,1007.0 1143.8,1010.0 1144.4,1008.1 1145.0,1008.7 1145.6,1009.2 1146.1,1010.0 1146.7,1009.2 1147.3,1010.2 1147.9,1010.2 1148.4,1010.5 1149.0,1011.1 1149.6,1010.3 1150.2,1011.9 1150.8,1010.9 1151.3,1012.0 1151.9,1011.2 1152.5,1012.0 1153.1,1011.9 1153.6,1013.2 1154.2,1012.6 1154.8,1012.3 1155.4,1012.1 1155.9,1014.7 1156.5,1013.8 1157.1,1014.1 1157.7,1014.9 1158.3,1014.7 1158.8,1015.4 1159.4,1014.3 1160.0,1015.1 1160.6,1016.3 1161.1,1014.2 1161.7,1015.7 1162.3,1015.3 1162.9,1017.0 1163.5,1015.5 1164.0,1016.1 1164.6,1016.2 1165.2,1015.9 1165.8,1016.5 1166.3,1016.9 1166.9,1018.1 1167.5,1016.8 1168.1,1018.3 1168.6,1017.8 1169.2,1018.4 1169.8,1019.1 1170.4,1019.2 1171.0,1019.0 1171.5,1018.7 1172.1,1019.3 1172.7,1019.5 1173.3,1020.3 1173.8,1020.0 1174.4,1019.9 1175.0,1021.6 1175.6,1020.9 1176.1,1021.2 1176.7,1020.4 1177.3,1020.6 1177.9,1020.8 1178.5,1020.6 1179.0,1021.2 1179.6,1021.6 1180.2,1021.1 1180.8,1021.5 1181.3,1022.9 1181.9,1021.0 1182.5,1022.5 1183.1,1024.0 1183.6,1023.5 1184.2,1023.3 1184.8,1024.5 1185.4,1024.2 1186.0,1023.8 1186.5,1022.7 1187.1,1022.1 1187.7,1022.7 1188.3,1024.6 1188.8,1023.0 1189.4,1023.4 1190.0,1025.1 1190.6,1023.9 1191.1,1024.6 1191.7,1023.1 1192.3,1023.7 1192.9,1023.6 1193.5,1023.5 1194.0,1023.0 1194.6,1023.8 1195.2,1025.7 1195.8,1025.2 1196.3,1025.9 1196.9,1024.5 1197.5,1026.7 1198.1,1024.4 1198.7,1024.7 1199.2,1025.6 1199.8,1024.9 1200.4,1025.5 1201.0,1026.6 1201.5,1026.0 1202.1,1025.1 1202.7,1026.5 1203.3,1025.3 1203.8,1025.8 1204.4,1026.6 1205.0,1026.7 1205.6,1024.6 1206.2,1026.8 1206.7,1026.0 1207.3,1025.1 1207.9,1025.1 1208.5,1025.3 1209.0,1024.7 1209.6,1026.9 1210.2,1027.4 1210.8,1026.4 1211.3,1026.7 1211.9,1027.1 1212.5,1028.1 1213.1,1027.7 1213.7,1028.9 1214.2,1027.6 1214.8,1028.4 1215.4,1026.2 1216.0,1026.9 1216.5,1027.8 1217.1,1027.6 1217.7,1026.9 1218.3,1026.6 1218.8,1026.2 1219.4,1027.7 1220.0,1027.8 1220.6,1028.9 1221.2,1027.8 1221.7,1028.2 1222.3,1028.9 1222.9,1028.9 1223.5,1027.8 1224.0,1028.1 1224.6,1029.9 1225.2,1026.1 1225.8,1028.6 1226.3,1028.3 1226.9,1027.7 1227.5,1026.6 1228.1,1028.2 1228.7,1027.5 1229.2,1028.0 1229.8,1027.7 1230.4,1027.3 1231.0,1028.3 1231.5,1027.3 1232.1,1029.5 1232.7,1029.2 1233.3,1028.5 1233.8,1029.3 1234.4,1030.0 1235.0,1028.8 1235.6,1030.1 1236.2,1031.9 1236.7,1029.7 1237.3,1029.9 1237.9,1028.7 1238.5,1029.1 1239.0,1028.2 1239.6,1030.3 1240.2,1028.2 1240.8,1029.6 1241.4,1028.4 1241.9,1029.4 1242.5,1028.5 1243.1,1028.6 1243.7,1030.9 1244.2,1030.7 1244.8,1030.0 1245.4,1029.7 1246.0,1029.7 1246.5,1028.7 1247.1,1030.1 1247.7,1031.3 1248.3,1029.1 1248.9,1032.5 1249.4,1030.6 1250.0,1031.5 1250.6,1030.6 1251.2,1029.1 1251.7,1028.6 1252.3,1031.2 1252.9,1031.3 1253.5,1029.2 1254.0,1032.2 1254.6,1030.3 1255.2,1033.3 1255.8,1029.8 1256.4,1031.0 1256.9,1030.2 1257.5,1029.3 1258.1,1031.1 1258.7,1029.5 1259.2,1029.2 1259.8,1030.0 1260.4,1028.6 1261.0,1028.5 1261.5,1029.9 1262.1,1030.5 1262.7,1031.2 1263.3,1031.7 1263.9,1030.3 1264.4,1031.8 1265.0,1030.6 1265.6,1030.4 1266.2,1031.9 1266.7,1032.3 1267.3,1030.8 1267.9,1030.4 1268.5,1031.1 1269.0,1030.5 1269.6,1029.3 1270.2,1030.9 1270.8,1030.9 1271.4,1031.0 1271.9,1031.4 1272.5,1032.1 1273.1,1030.3 1273.7,1031.5 1274.2,1032.5 1274.8,1029.3 1275.4,1032.8 1276.0,1031.7 1276.5,1034.0 1277.1,1031.9 1277.7,1030.4 1278.3,1031.5 1278.9,1031.0 1279.4,1031.8 1280.0,1030.0 1280.6,1031.6 1281.2,1030.9 1281.7,1031.1 1282.3,1031.7 1282.9,1031.7 1283.5,1033.6 1284.1,1032.3 1284.6,1032.5 1285.2,1031.4 1285.8,1031.2 1286.4,1033.1 1286.9,1031.3 1287.5,1030.8 1288.1,1030.6 1288.7,1031.0 1289.2,1031.0 1289.8,1031.1 1290.4,1032.9 1291.0,1031.6 1291.6,1032.2 1292.1,1033.7 1292.7,1031.0 1293.3,1030.8 1293.9,1030.1 1294.4,1033.0 1295.0,1032.3 1295.6,1030.2 1296.2,1033.6 1296.7,1033.2 1297.3,1029.5 1297.9,1031.0 1298.5,1033.1 1299.1,1031.2 1299.6,1031.8 1300.2,1032.8 1300.8,1032.5 1301.4,1031.5 1301.9,1032.6 1302.5,1033.4 1303.1,1031.8 1303.7,1034.7 1304.2,1032.8 1304.8,1032.5 1305.4,1030.9 1306.0,1031.1 1306.6,1031.5 1307.1,1033.2 1307.7,1031.3 1308.3,1033.5 1308.9,1033.2 1309.4,1031.3 1310.0,1031.9 1310.6,1033.6 1311.2,1031.4 1311.7,1030.2 1312.3,1031.7 1312.9,1032.5 1313.5,1033.1 1314.1,1032.6 1314.6,1034.7 1315.2,1033.3 1315.8,1032.4 1316.4,1033.2 1316.9,1033.2 1317.5,1032.0 1318.1,1032.4 1318.7,1032.6 1319.2,1032.3 1319.8,1031.8 1320.4,1030.7 1321.0,1031.8 1321.6,1031.0 1322.1,1032.3 1322.7,1032.1 1323.3,1030.8 1323.9,1031.5 1324.4,1031.1 1325.0,1030.0 1325.6,1030.7 1326.2,1031.5 1326.8,1032.8 1327.3,1031.4 1327.9,1031.7 1328.5,1032.4 1329.1,1032.1 1329.6,1031.3 1330.2,1031.6 1330.8,1031.0 1331.4,1030.7 1331.9,1030.9 1332.5,1030.8 1333.1,1031.7 1333.7,1031.2 1334.3,1031.4 1334.8,1029.1 1335.4,1030.1 1336.0,1030.2 1336.6,1029.1 1337.1,1028.2 1337.7,1030.7 1338.3,1032.5 1338.9,1029.8 1339.4,1030.8 1340.0,1032.1 1340.6,1030.2 1341.2,1029.9 1341.8,1028.6 1342.3,1029.8 1342.9,1031.0 1343.5,1031.1 1344.1,1029.9 1344.6,1030.9 1345.2,1028.6 1345.8,1028.9 1346.4,1029.4 1346.9,1029.4 1347.5,1030.2 1348.1,1028.9 1348.7,1027.0 1349.3,1030.2 1349.8,1030.8 1350.4,1029.2 1351.0,1028.6 1351.6,1028.3 1352.1,1028.7 1352.7,1027.4 1353.3,1028.9 1353.9,1028.3 1354.4,1027.2 1355.0,1028.6 1355.6,1028.9 1356.2,1029.9 1356.8,1028.0 1357.3,1029.5 1357.9,1027.5 1358.5,1027.5 1359.1,1028.2 1359.6,1027.2 1360.2,1028.0 1360.8,1027.3 1361.4,1027.3 1361.9,1027.6 1362.5,1028.4 1363.1,1027.8 1363.7,1027.4 1364.3,1029.0 1364.8,1027.5 1365.4,1028.2 1366.0,1027.9 1366.6,1028.1 1367.1,1027.3 1367.7,1027.0 1368.3,1027.7 1368.9,1027.3 1369.5,1027.4 1370.0,1027.3 1370.6,1027.0 1371.2,1025.8 1371.8,1027.7 1372.3,1027.3 1372.9,1026.2 1373.5,1026.5 1374.1,1026.4 1374.6,1027.4 1375.2,1025.2 1375.8,1026.3 1376.4,1026.8 1377.0,1024.6 1377.5,1025.0 1378.1,1026.9 1378.7,1024.1 1379.3,1025.2 1379.8,1024.7 1380.4,1025.2 1381.0,1024.4 1381.6,1025.1 1382.1,1023.6 1382.7,1026.2 1383.3,1025.4 1383.9,1025.5 1384.5,1024.8 1385.0,1025.3 1385.6,1024.7 1386.2,1025.3 1386.8,1024.5 1387.3,1024.6 1387.9,1025.9 1388.5,1025.7 1389.1,1026.1 1389.6,1025.4 1390.2,1023.1 1390.8,1025.1 1391.4,1025.1 1392.0,1024.7 1392.5,1025.0 1393.1,1024.8 1393.7,1024.1 1394.3,1024.4 1394.8,1023.8 1395.4,1024.9 1396.0,1022.3 1396.6,1021.9 1397.1,1023.8 1397.7,1021.5 1398.3,1023.7 1398.9,1023.5 1399.5,1024.5 1400.0,1022.6 1400.6,1022.4 1401.2,1023.1 1401.8,1023.0 1402.3,1023.0 1402.9,1023.0 1403.5,1024.0 1404.1,1025.0 1404.6,1022.1 1405.2,1024.4 1405.8,1024.1 1406.4,1022.9 1407.0,1022.3 1407.5,1022.9 1408.1,1021.8 1408.7,1023.7 1409.3,1023.8 1409.8,1023.8 1410.4,1024.1 1411.0,1022.7 1411.6,1024.7 1412.2,1023.7 1412.7,1023.8 1413.3,1024.0 1413.9,1024.3 1414.5,1024.7 1415.0,1024.2 1415.6,1024.2 1416.2,1023.3 1416.8,1023.3 1417.3,1022.6 1417.9,1024.0 1418.5,1023.7 1419.1,1024.1 1419.7,1024.8 1420.2,1023.9 1420.8,1025.6 1421.4,1023.3 1422.0,1025.3 1422.5,1025.2 1423.1,1024.1 1423.7,1024.8 1424.3,1025.6 1424.8,1024.4 1425.4,1025.1 1426.0,1025.4 1426.6,1025.3 1427.2,1024.4 1427.7,1023.5 1428.3,1025.8 1428.9,1026.0 1429.5,1026.6 1430.0,1026.0 1430.6,1023.9 1431.2,1023.9 1431.8,1023.5 1432.3,1025.3 1432.9,1024.6 1433.5,1025.0 1434.1,1024.5 1434.7,1023.8 1435.2,1025.6 1435.8,1023.8 1436.4,1023.8 1437.0,1024.7 1437.5,1025.7 1438.1,1026.7 1438.7,1026.0 1439.3,1025.7 1439.8,1026.1 1440.4,1026.8 1441.0,1027.1 1441.6,1025.7 1442.2,1026.1 1442.7,1029.4 1443.3,1025.6 1443.9,1024.9 1444.5,1026.1 1445.0,1026.2 1445.6,1026.2 1446.2,1028.6 1446.8,1028.3 1447.3,1027.0 1447.9,1029.8 1448.5,1027.8 1449.1,1028.6 1449.7,1027.9 1450.2,1027.9 1450.8,1029.3 1451.4,1029.9 1452.0,1029.2 1452.5,1028.7 1453.1,1028.6 1453.7,1030.0 1454.3,1028.1 1454.9,1029.3 1455.4,1028.9 1456.0,1029.6 1456.6,1029.8 1457.2,1029.4 1457.7,1029.4 1458.3,1031.1 1458.9,1032.8 1459.5,1031.5 1460.0,1031.0 1460.6,1030.5 1461.2,1031.7 1461.8,1031.6 1462.4,1033.0 1462.9,1031.5 1463.5,1033.1 1464.1,1031.2 1464.7,1032.6 1465.2,1033.1 1465.8,1031.9 1466.4,1031.2 1467.0,1033.0 1467.5,1033.0 1468.1,1033.8 1468.7,1034.1 1469.3,1034.4 1469.9,1032.1 1470.4,1034.2 1471.0,1033.4 1471.6,1033.7 1472.2,1031.4 1472.7,1033.8 1473.3,1033.8 1473.9,1033.9 1474.5,1036.2 1475.0,1033.4 1475.6,1033.5 1476.2,1034.3 1476.8,1034.6 1477.4,1033.5 1477.9,1033.6 1478.5,1034.9 1479.1,1033.9 1479.7,1035.4 1480.2,1034.5 1480.8,1033.6 1481.4,1035.4 1482.0,1035.2 1482.5,1035.2 1483.1,1035.0 1483.7,1035.4 1484.3,1034.5 1484.9,1033.3 1485.4,1034.5 1486.0,1034.7 1486.6,1034.6 1487.2,1035.4 1487.7,1036.9 1488.3,1036.4 1488.9,1036.1 1489.5,1036.6 1490.0,1035.2 1490.6,1037.9 1491.2,1036.5 1491.8,1037.6 1492.4,1037.5 1492.9,1037.5 1493.5,1038.2 1494.1,1036.5 1494.7,1037.3 1495.2,1036.3 1495.8,1036.7 1496.4,1034.9 1497.0,1037.1 1497.6,1036.9 1498.1,1037.1 1498.7,1035.7 1499.3,1035.6 1499.9,1037.0 1500.4,1036.9 1501.0,1037.7 1501.6,1036.7 1502.2,1036.4 1502.7,1038.1 1503.3,1038.0 1503.9,1038.1 1504.5,1038.2 1505.1,1038.1 1505.6,1037.8 1506.2,1037.0 1506.8,1038.0 1507.4,1037.9 1507.9,1037.8 1508.5,1036.8 1509.1,1038.0 1509.7,1038.9 1510.2,1039.0 1510.8,1037.0 1511.4,1039.3 1512.0,1038.0 1512.6,1039.2 1513.1,1038.2 1513.7,1037.5 1514.3,1039.3 1514.9,1037.1 1515.4,1038.9 1516.0,1038.6 1516.6,1039.3 1517.2,1039.5 1517.7,1039.4 1518.3,1040.3 1518.9,1037.7 1519.5,1039.8 1520.1,1040.0 1520.6,1037.7 1521.2,1037.5 1521.8,1038.4 1522.4,1037.9 1522.9,1039.9 1523.5,1039.7 1524.1,1038.6 1524.7,1038.8 1525.2,1040.8 1525.8,1038.9 1526.4,1038.6 1527.0,1041.3 1527.6,1040.7 1528.1,1039.5 1528.7,1040.4 1529.3,1038.7 1529.9,1041.1 1530.4,1043.0 1531.0,1039.9 1531.6,1040.9 1532.2,1039.9 1532.7,1039.3 1533.3,1040.1 1533.9,1039.9 1534.5,1039.1 1535.1,1040.5 1535.6,1040.5 1536.2,1040.7 1536.8,1040.7 1537.4,1041.0 1537.9,1040.9 1538.5,1040.6 1539.1,1039.8 1539.7,1041.0 1540.3,1040.7 1540.8,1039.7 1541.4,1041.0 1542.0,1041.8 1542.6,1042.5 1543.1,1040.2 1543.7,1042.0 1544.3,1040.4 1544.9,1040.9 1545.4,1042.3 1546.0,1041.2 1546.6,1041.2 1547.2,1040.7 1547.8,1042.6 1548.3,1040.7 1548.9,1041.6 1549.5,1041.3 1550.1,1041.5 1550.6,1042.6 1551.2,1041.9 1551.8,1043.3 1552.4,1042.8 1552.9,1041.0 1553.5,1040.2 1554.1,1040.8 1554.7,1040.8 1555.3,1042.9 1555.8,1041.9 1556.4,1042.5 1557.0,1040.8 1557.6,1042.7 1558.1,1043.5 1558.7,1042.1 1559.3,1041.2 1559.9,1041.9 1560.4,1042.1 1561.0,1042.0 1561.6,1042.1 1562.2,1042.4 1562.8,1041.3 1563.3,1041.9 1563.9,1041.6 1564.5,1041.5 1565.1,1040.2 1565.6,1042.0 1566.2,1042.2 1566.8,1040.7 1567.4,1043.4 1567.9,1042.0 1568.5,1041.9 1569.1,1042.7 1569.7,1042.6 1570.3,1043.2 1570.8,1043.2 1571.4,1040.5 1572.0,1042.5 1572.6,1043.3 1573.1,1043.3 1573.7,1043.3 1574.3,1042.6 1574.9,1042.0 1575.4,1041.1 1576.0,1043.8 1576.6,1042.8 1577.2,1042.8 1577.8,1043.0 1578.3,1042.8 1578.9,1042.9 1579.5,1043.6 1580.1,1043.1 1580.6,1041.7 1581.2,1042.7 1581.8,1042.4 1582.4,1042.8 1583.0,1042.4 1583.5,1043.6 1584.1,1041.6 1584.7,1043.2 1585.3,1043.2 1585.8,1042.2 1586.4,1041.3 1587.0,1042.5 1587.6,1041.4 1588.1,1044.0 1588.7,1043.8 1589.3,1041.0 1589.9,1043.3 1590.5,1042.7 1591.0,1042.1 1591.6,1041.9 1592.2,1044.2 1592.8,1041.8 1593.3,1042.0 1593.9,1043.7 1594.5,1042.8 1595.1,1041.2 1595.6,1045.6 1596.2,1043.3 1596.8,1042.3 1597.4,1045.5 1598.0,1043.6 1598.5,1043.3 1599.1,1042.7 1599.7,1043.7 1600.3,1043.6 1600.8,1043.4 1601.4,1044.6 1602.0,1043.3 1602.6,1042.7 1603.1,1042.7 1603.7,1044.4 1604.3,1043.8 1604.9,1043.1 1605.5,1044.4 1606.0,1043.4 1606.6,1042.6 1607.2,1041.9 1607.8,1042.9 1608.3,1042.5 1608.9,1043.9 1609.5,1043.9 1610.1,1044.1 1610.6,1041.7 1611.2,1043.2 1611.8,1044.1 1612.4,1044.2 1613.0,1043.8 1613.5,1043.0 1614.1,1043.6 1614.7,1044.2 1615.3,1043.4 1615.8,1042.9 1616.4,1044.4 1617.0,1044.6 1617.6,1043.0 1618.1,1043.1 1618.7,1042.5 1619.3,1043.7 1619.9,1044.0 1620.5,1043.2 1621.0,1042.7 1621.6,1042.7 1622.2,1043.7 1622.8,1044.6 1623.3,1044.1 1623.9,1043.7 1624.5,1045.1 1625.1,1043.1 1625.7,1042.9 1626.2,1042.4 1626.8,1044.7 1627.4,1044.4 1628.0,1043.6 1628.5,1044.1 1629.1,1042.8 1629.7,1043.1 1630.3,1043.7 1630.8,1044.4 1631.4,1041.6 1632.0,1045.2 1632.6,1044.6 1633.2,1043.0 1633.7,1044.3 1634.3,1043.3 1634.9,1043.2 1635.5,1043.3 1636.0,1043.2 1636.6,1043.9 1637.2,1044.2 1637.8,1044.8 1638.3,1043.7 1638.9,1042.8 1639.5,1043.4 1640.1,1043.6 1640.7,1043.0 1641.2,1044.3 1641.8,1043.4 1642.4,1042.5 1643.0,1044.6 1643.5,1044.9 1644.1,1044.0 1644.7,1043.9 1645.3,1043.0 1645.8,1044.0 1646.4,1044.4 1647.0,1044.4 1647.6,1043.4 1648.2,1044.6 1648.7,1043.6 1649.3,1044.7 1649.9,1044.3 1650.5,1044.7 1651.0,1043.5 1651.6,1044.2 1652.2,1044.1 1652.8,1044.1 1653.3,1045.0 1653.9,1042.8 1654.5,1044.4 1655.1,1044.9 1655.7,1043.9 1656.2,1042.8 1656.8,1043.5 1657.4,1043.7 1658.0,1043.7 1658.5,1044.7 1659.1,1044.2 1659.7,1042.8 1660.3,1044.9 1660.8,1042.3 1661.4,1042.9 1662.0,1042.1 1662.6,1043.8 1663.2,1043.3 1663.7,1044.9 1664.3,1043.5 1664.9,1044.2 1665.5,1045.5 1666.0,1043.8 1666.6,1044.9 1667.2,1044.4 1667.8,1044.4 1668.4,1043.2 1668.9,1044.2 1669.5,1045.8 1670.1,1044.2 1670.7,1044.6 1671.2,1045.5 1671.8,1043.9 1672.4,1044.9 1673.0,1044.8 1673.5,1044.1 1674.1,1044.8 1674.7,1045.5 1675.3,1044.5 1675.9,1043.7 1676.4,1044.0 1677.0,1042.4 1677.6,1044.2 1678.2,1042.9 1678.7,1045.3 1679.3,1043.7 1679.9,1045.4 1680.5,1043.9 1681.0,1044.0 1681.6,1042.8 1682.2,1044.6 1682.8,1044.4 1683.4,1044.9 1683.9,1043.2 1684.5,1042.5 1685.1,1044.9 1685.7,1041.9 1686.2,1043.6 1686.8,1045.4 1687.4,1044.3 1688.0,1042.8 1688.5,1043.6 1689.1,1045.1 1689.7,1043.9 1690.3,1043.8 1690.9,1045.4 1691.4,1043.9 1692.0,1044.6 1692.6,1045.2 1693.2,1042.5 1693.7,1043.3 1694.3,1044.8 1694.9,1044.1 1695.5,1046.1 1696.0,1044.4 1696.6,1044.8 1697.2,1043.6 1697.8,1043.9 1698.4,1046.2 1698.9,1044.0 1699.5,1044.8 1700.1,1044.2 1700.7,1046.7 1701.2,1043.3 1701.8,1045.3 1702.4,1044.7 1703.0,1044.1 1703.6,1044.5 1704.1,1045.1 1704.7,1047.3 1705.3,1046.1 1705.9,1045.2 1706.4,1044.8 1707.0,1043.4 1707.6,1043.4 1708.2,1044.9 1708.7,1042.9 1709.3,1045.4 1709.9,1044.8 1710.5,1045.5 1711.1,1044.6 1711.6,1043.5 1712.2,1045.4 1712.8,1043.5 1713.4,1044.4 1713.9,1044.1 1714.5,1043.7 1715.1,1044.4 1715.7,1044.7 1716.2,1043.9 1716.8,1046.0 1717.4,1043.8 1718.0,1043.9 1718.6,1044.6 1719.1,1043.9 1719.7,1044.1 1720.3,1044.5 1720.9,1042.8 1721.4,1046.0 1722.0,1043.4 1722.6,1043.0 1723.2,1044.9 1723.7,1045.1 1724.3,1045.0 1724.9,1044.1 1725.5,1043.8 1726.1,1044.5 1726.6,1044.2 1727.2,1045.2 1727.8,1044.4 1728.4,1045.1 1728.9,1044.6 1729.5,1043.1 1730.1,1043.8 1730.7,1045.5 1731.2,1044.3 1731.8,1045.1 1732.4,1044.0 1733.0,1044.0 1733.6,1044.1 1734.1,1045.7 1734.7,1046.4 1735.3,1044.0 1735.9,1045.3 1736.4,1044.1 1737.0,1044.9 1737.6,1043.3 1738.2,1043.4 1738.7,1045.2 1739.3,1045.0 1739.9,1044.7 1740.5,1046.1 1741.1,1044.3 1741.6,1044.7 1742.2,1045.6 1742.8,1044.5 1743.4,1043.9 1743.9,1045.3 1744.5,1044.4 1745.1,1044.5 1745.7,1043.6 1746.3,1043.2 1746.8,1043.3 1747.4,1043.7 1748.0,1044.6 1748.6,1045.2 1749.1,1044.0 1749.7,1045.0 1750.3,1046.2 1750.9,1045.9 1751.4,1044.3 1752.0,1047.0 1752.6,1045.4 1753.2,1045.5 1753.8,1046.0 1754.3,1043.5 1754.9,1044.3 1755.5,1044.8 1756.1,1045.2 1756.6,1043.8 1757.2,1045.8 1757.8,1044.4 1758.4,1045.2 1758.9,1045.6 1759.5,1044.5 1760.1,1046.4 1760.7,1044.3 1761.3,1043.4 1761.8,1046.5 1762.4,1045.5 1763.0,1043.8 1763.6,1045.1 1764.1,1045.5 1764.7,1044.7 1765.3,1045.8 1765.9,1044.5 1766.4,1045.3 1767.0,1044.9 1767.6,1044.9 1768.2,1045.1 1768.8,1045.6 1769.3,1044.1 1769.9,1043.9 1770.5,1044.9 1771.1,1044.4 1771.6,1042.4 1772.2,1044.4 1772.8,1044.1 1773.4,1044.1 1773.9,1044.6 1774.5,1044.2 1775.1,1046.8 1775.7,1044.7 1776.3,1044.8 1776.8,1043.2 1777.4,1044.8 1778.0,1045.6 1778.6,1044.1 1779.1,1044.9 1779.7,1044.8 1780.3,1044.4 1780.9,1047.2 1781.4,1044.0 1782.0,1044.9 1782.6,1043.6 1783.2,1045.7 1783.8,1044.0 1784.3,1044.1 1784.9,1045.4 1785.5,1043.9 1786.1,1045.5 1786.6,1043.1 1787.2,1045.1 1787.8,1043.9 1788.4,1042.9 1789.0,1045.6 1789.5,1046.0 1790.1,1045.3 1790.7,1046.5 1791.3,1045.7 1791.8,1044.3 1792.4,1046.7 1793.0,1045.3 1793.6,1046.4 1794.1,1045.6 1794.7,1044.5 1795.3,1044.9 1795.9,1044.2 1796.5,1045.8 1797.0,1044.3 1797.6,1047.0 1798.2,1045.2 1798.8,1043.5 1799.3,1045.0 1799.9,1043.6 1800.5,1046.1 1801.1,1045.5 1801.6,1044.3 1802.2,1046.1 1802.8,1046.1 1803.4,1045.8 1804.0,1044.4 1804.5,1044.3 1805.1,1047.8 1805.7,1043.9 1806.3,1045.6 1806.8,1045.5 1807.4,1044.2 1808.0,1043.8 1808.6,1043.7 1809.1,1046.2 1809.7,1044.6 1810.3,1046.3 1810.9,1046.1 1811.5,1045.6 1812.0,1045.4 1812.6,1045.3 1813.2,1046.2 1813.8,1045.5 1814.3,1044.8 1814.9,1046.0 1815.5,1047.8 1816.1,1047.5 1816.6,1045.6 1817.2,1044.7 1817.8,1044.6 1818.4,1045.0 1819.0,1045.9 1819.5,1046.0 1820.1,1047.0 1820.7,1047.9 1821.3,1046.1 1821.8,1047.2 1822.4,1046.4 1823.0,1045.3 1823.6,1045.8 1824.1,1045.3 1824.7,1044.5 1825.3,1047.4 1825.9,1047.4 1826.5,1046.8 1827.0,1046.4 1827.6,1046.7 1828.2,1046.7 1828.8,1046.5 1829.3,1046.2 1829.9,1046.4 1830.5,1046.4 1831.1,1047.2 1831.7,1047.6 1832.2,1045.4 1832.8,1048.5 1833.4,1046.6 1834.0,1045.4 1834.5,1044.4 1835.1,1046.4 1835.7,1047.3 1836.3,1045.7 1836.8,1046.3 1837.4,1048.2 1838.0,1047.6 1838.6,1047.6 1839.2,1047.5 1839.7,1048.9 1840.3,1046.5 1840.9,1047.0 1841.5,1046.1 1842.0,1045.5 1842.6,1044.9 1843.2,1045.6 1843.8,1045.7 1844.3,1045.7 1844.9,1046.6 1845.5,1045.7 1846.1,1045.6 1846.7,1045.8 1847.2,1045.5 1847.8,1046.2 1848.4,1047.8 1849.0,1045.9 1849.5,1046.5 1850.1,1046.6 1850.7,1046.2 1851.3,1047.2 1851.8,1047.3 1852.4,1046.8 1853.0,1047.4 1853.6,1046.6 1854.2,1047.1 1854.7,1045.9 1855.3,1047.3 1855.9,1047.0 1856.5,1046.5 1857.0,1046.3 1857.6,1046.0 1858.2,1045.8 1858.8,1046.2 1859.3,1046.1 1859.9,1046.2 1860.5,1048.4 1861.1,1046.4 1861.7,1045.8 1862.2,1048.2 1862.8,1047.9 1863.4,1046.3 1864.0,1047.5 1864.5,1047.2 1865.1,1047.6 1865.7,1046.0 1866.3,1046.5 1866.8,1046.0 1867.4,1045.6 1868.0,1045.9 1868.6,1047.5 1869.2,1046.1 1869.7,1046.0 1870.3,1045.9 1870.9,1047.2 1871.5,1046.5 1872.0,1045.4 1872.6,1045.4 1873.2,1046.3 1873.8,1047.3 1874.4,1048.1 1874.9,1047.5 1875.5,1046.5 1876.1,1046.6 1876.7,1047.2 1877.2,1045.6 1877.8,1043.1 1878.4,1047.3 1879.0,1047.6 1879.5,1047.4 1880.1,1048.4 1880.7,1048.0 1881.3,1046.9 1881.9,1045.8 1882.4,1046.6 1883.0,1045.7 1883.6,1046.2 1884.2,1047.1 1884.7,1045.2 1885.3,1046.2 1885.9,1047.9 1886.5,1046.3 1887.0,1045.0 1887.6,1046.5 1888.2,1046.3 1888.8,1047.6 1889.4,1046.0 1889.9,1048.0 1890.5,1047.7 1891.1,1048.1 1891.7,1046.9 1892.2,1047.8 1892.8,1044.4 1893.4,1045.2 1894.0,1046.7 1894.5,1046.6 1895.1,1046.3 1895.7,1047.3 1896.3,1047.5 1896.9,1047.7 1897.4,1045.4 1898.0,1047.5 1898.6,1047.0 1899.2,1046.1 1899.7,1045.8 1900.3,1047.1 1900.9,1046.8 1901.5,1047.0 1902.0,1047.8 1902.6,1048.2 1903.2,1046.4 1903.8,1045.9 1904.4,1046.4 1904.9,1046.0 1905.5,1045.0 1906.1,1047.4 1906.7,1046.8 1907.2,1045.5 1907.8,1046.2 1908.4,1046.3 1909.0,1045.2 1909.5,1047.2 1910.1,1046.3 1910.7,1045.0 1911.3,1044.8 1911.9,1048.5 1912.4,1044.5 1913.0,1047.4 1913.6,1046.9 1914.2,1047.0 1914.7,1045.5 1915.3,1046.3 1915.9,1046.3 1916.5,1048.4 1917.1,1046.8 1917.6,1045.1 1918.2,1047.1 1918.8,1047.9 1919.4,1047.8 1919.9,1046.8 1920.5,1047.0 1921.1,1046.1 1921.7,1046.5 1922.2,1047.0 1922.8,1047.0 1923.4,1044.9 1924.0,1046.5 1924.6,1046.5 1925.1,1046.5 1925.7,1043.7 1926.3,1046.0 1926.9,1047.4 1927.4,1048.1 1928.0,1046.5 1928.6,1046.7 1929.2,1045.3 1929.7,1046.0 1930.3,1046.5 1930.9,1048.8 1931.5,1044.8 1932.1,1048.4 1932.6,1048.5 1933.2,1048.5 1933.8,1046.2 1934.4,1047.2 1934.9,1046.8 1935.5,1047.2 1936.1,1046.4 1936.7,1046.2 1937.2,1046.4 1937.8,1045.6 1938.4,1047.8 1939.0,1045.7 1939.6,1045.8 1940.1,1047.4 1940.7,1046.5 1941.3,1046.6 1941.9,1047.3 1942.4,1046.4 1943.0,1046.8 1943.6,1046.2 1944.2,1044.3 1944.7,1045.7 1945.3,1046.7 1945.9,1046.0 1946.5,1047.6 1947.1,1046.1 1947.6,1046.5 1948.2,1046.1 1948.8,1046.4 1949.4,1048.6 1949.9,1046.0 1950.5,1045.1 1951.1,1046.0 1951.7,1044.7 1952.2,1046.2 1952.8,1046.6 1953.4,1046.4 1954.0,1046.2 1954.6,1046.8 1955.1,1045.1 1955.7,1046.7 1956.3,1045.7 1956.9,1047.6 1957.4,1046.1 1958.0,1046.7 1958.6,1045.6 1959.2,1046.6 1959.8,1047.8 1960.3,1045.6 1960.9,1046.4 1961.5,1046.4 1962.1,1047.2 1962.6,1046.3 1963.2,1046.8 1963.8,1046.5 1964.4,1048.5 1964.9,1047.8 1965.5,1046.6 1966.1,1047.3 1966.7,1045.9 1967.3,1046.5 1967.8,1046.6 1968.4,1046.9 1969.0,1047.8 1969.6,1046.3 1970.1,1046.2 1970.7,1047.3 1971.3,1046.7 1971.9,1047.7 1972.4,1049.3 1973.0,1047.2 1973.6,1046.3 1974.2,1046.4 1974.8,1048.3 1975.3,1046.2 1975.9,1046.7 1976.5,1047.0 1977.1,1047.1 1977.6,1046.5 1978.2,1048.5 1978.8,1048.1 1979.4,1048.5 1979.9,1046.9 1980.5,1046.3 1981.1,1047.6 1981.7,1047.0 1982.3,1046.8 1982.8,1046.5 1983.4,1047.8 1984.0,1046.1 1984.6,1049.7 1985.1,1044.8 1985.7,1046.4 1986.3,1046.5 1986.9,1045.9 1987.4,1046.5 1988.0,1046.2 1988.6,1045.2 1989.2,1046.9 1989.8,1048.6 1990.3,1045.3 1990.9,1046.1 1991.5,1045.7 1992.1,1046.9 1992.6,1045.6 1993.2,1047.0 1993.8,1046.9 1994.4,1047.3 1994.9,1047.8 1995.5,1046.1 1996.1,1045.7 1996.7,1047.2 1997.3,1047.5 1997.8,1046.3 1998.4,1044.6 1999.0,1047.4 1999.6,1047.2 2000.1,1044.3 2000.7,1047.0 2001.3,1045.9 2001.9,1044.4 2002.5,1047.4 2003.0,1046.8 2003.6,1048.2 2004.2,1046.7 2004.8,1046.4 2005.3,1047.7 2005.9,1048.6 2006.5,1047.6 2007.1,1046.8 2007.6,1047.3 2008.2,1046.7 2008.8,1045.8 2009.4,1046.1 2010.0,1046.4 2010.5,1045.6 2011.1,1046.7 2011.7,1045.5 2012.3,1046.7 2012.8,1045.2 2013.4,1044.8 2014.0,1047.5 2014.6,1046.8 2015.1,1046.3 2015.7,1047.7 2016.3,1049.3 2016.9,1047.0 2017.5,1047.4 2018.0,1045.6 2018.6,1045.8 2019.2,1045.5 2019.8,1048.1 2020.3,1047.4 2020.9,1045.8 2021.5,1045.2 2022.1,1048.8 2022.6,1046.9 2023.2,1046.3 2023.8,1045.5 2024.4,1046.1 2025.0,1045.6 2025.5,1045.9 2026.1,1045.0 2026.7,1046.0 2027.3,1045.4 2027.8,1046.7 2028.4,1046.1 2029.0,1044.3 2029.6,1045.4 2030.1,1046.8 2030.7,1045.8 2031.3,1045.4 2031.9,1046.4 2032.5,1045.9 2033.0,1044.3 2033.6,1045.8 2034.2,1045.1 2034.8,1043.8 2035.3,1044.8 2035.9,1045.7 2036.5,1044.8 2037.1,1045.6 2037.6,1046.1 2038.2,1045.3 2038.8,1044.7 2039.4,1044.9 2040.0,1045.1 2040.5,1044.3 2041.1,1047.2 2041.7,1045.3 2042.3,1045.8 2042.8,1046.0 2043.4,1047.1 2044.0,1044.2 2044.6,1046.3 2045.2,1045.2 2045.7,1044.8 2046.3,1043.5 2046.9,1045.7 2047.5,1045.8 2048.0,1045.1 2048.6,1044.6 2049.2,1043.6 2049.8,1043.9 2050.3,1045.2 2050.9,1045.0 2051.5,1046.1 2052.1,1045.4 2052.7,1046.1 2053.2,1046.7 2053.8,1046.4 2054.4,1043.8 2055.0,1045.5 2055.5,1045.2 2056.1,1046.5 2056.7,1045.2 2057.3,1046.2 2057.8,1044.6 2058.4,1045.2 2059.0,1044.5 2059.6,1044.2 2060.2,1045.2 2060.7,1045.0 2061.3,1045.7 2061.9,1043.4 2062.5,1043.7 2063.0,1046.2 2063.6,1043.9 2064.2,1044.3 2064.8,1044.9 2065.3,1045.3 2065.9,1045.3 2066.5,1043.6 2067.1,1045.2 2067.7,1044.6 2068.2,1043.8 2068.8,1044.5 2069.4,1044.9 2070.0,1045.2 2070.5,1044.4 2071.1,1045.6 2071.7,1043.4 2072.3,1044.5 2072.8,1042.6 2073.4,1045.9 2074.0,1044.8 2074.6,1043.7 2075.2,1043.9 2075.7,1043.9 2076.3,1043.8 2076.9,1042.2 2077.5,1042.8 2078.0,1044.1 2078.6,1043.9 2079.2,1042.8 2079.8,1044.0 2080.3,1045.0 2080.9,1042.9 2081.5,1042.0 2082.1,1041.8 2082.7,1044.2 2083.2,1042.8 2083.8,1042.6 2084.4,1041.9 2085.0,1043.9 2085.5,1042.8 2086.1,1043.2 2086.7,1042.1 2087.3,1041.0 2087.9,1043.6 2088.4,1042.1 2089.0,1043.6 2089.6,1043.5 2090.2,1042.6 2090.7,1044.1 2091.3,1043.9 2091.9,1043.2 2092.5,1043.8 2093.0,1042.0 2093.6,1042.8 2094.2,1041.7 2094.8,1041.7 2095.4,1042.5 2095.9,1040.3 2096.5,1041.8 2097.1,1040.3 2097.7,1041.9 2098.2,1039.8 2098.8,1040.7 2099.4,1042.4 2100.0,1041.3 2100.5,1041.7 2101.1,1040.7 2101.7,1042.3 2102.3,1040.7 2102.9,1041.8 2103.4,1040.0 2104.0,1039.5 2104.6,1041.2 2105.2,1040.1 2105.7,1040.9 2106.3,1042.2 2106.9,1040.4 2107.5,1039.4 2108.0,1041.0 2108.6,1039.1 2109.2,1039.9 2109.8,1039.5 2110.4,1039.7 2110.9,1039.1 2111.5,1037.4 2112.1,1039.9 2112.7,1040.7 2113.2,1040.3 2113.8,1040.0 2114.4,1040.1 2115.0,1038.3 2115.5,1038.3 2116.1,1040.6 2116.7,1038.8 2117.3,1037.8 2117.9,1038.9 2118.4,1038.5 2119.0,1039.3 2119.6,1039.3 2120.2,1037.6 2120.7,1038.8 2121.3,1039.3 2121.9,1038.4 2122.5,1037.8 2123.0,1039.1 2123.6,1038.4 2124.2,1037.0 2124.8,1037.3 2125.4,1038.6 2125.9,1036.9 2126.5,1036.9 2127.1,1038.2 2127.7,1037.6 2128.2,1036.9 2128.8,1037.5 2129.4,1037.0 2130.0,1038.6 2130.6,1037.6 2131.1,1039.5 2131.7,1039.4 2132.3,1038.9 2132.9,1038.5 2133.4,1038.1 2134.0,1037.4 2134.6,1039.2 2135.2,1040.3 2135.7,1037.6 2136.3,1037.5 2136.9,1034.5 2137.5,1037.3 2138.1,1036.6 2138.6,1039.8 2139.2,1037.0 2139.8,1038.1 2140.4,1038.9 2140.9,1038.8 2141.5,1037.1 2142.1,1038.5 2142.7,1038.9 2143.2,1038.5 2143.8,1038.2 2144.4,1036.1 2145.0,1038.3 2145.6,1037.0 2146.1,1038.4 2146.7,1036.3 2147.3,1035.9 2147.9,1037.7 2148.4,1037.5 2149.0,1036.0 2149.6,1037.0 2150.2,1036.6 2150.7,1037.0 2151.3,1036.8 2151.9,1035.7 2152.5,1038.0 2153.1,1038.8 2153.6,1036.2 2154.2,1037.6 2154.8,1039.1 2155.4,1036.4 2155.9,1036.5 2156.5,1036.1 2157.1,1038.6 2157.7,1038.1 2158.2,1036.7 2158.8,1038.7 2159.4,1038.5 2160.0,1038.6 2160.6,1038.6 2161.1,1038.4 2161.7,1036.8 2162.3,1038.3 2162.9,1036.6 2163.4,1039.4 2164.0,1037.0 2164.6,1037.8 2165.2,1039.1 2165.7,1037.4 2166.3,1037.5 2166.9,1037.1 2167.5,1037.2 2168.1,1038.1 2168.6,1038.7 2169.2,1036.7 2169.8,1038.9 2170.4,1036.2 2170.9,1036.9 2171.5,1035.0 2172.1,1035.6 2172.7,1037.9 2173.3,1036.3 2173.8,1036.7 2174.4,1035.6 2175.0,1038.1 2175.6,1036.8 2176.1,1036.6 2176.7,1039.5 2177.3,1037.6 2177.9,1037.7 2178.4,1036.6 2179.0,1039.2 2179.6,1037.1 2180.2,1038.1 2180.8,1038.0 2181.3,1036.0 2181.9,1037.3 2182.5,1037.5 2183.1,1037.9 2183.6,1037.7 2184.2,1036.5 2184.8,1037.4 2185.4,1038.2 2185.9,1036.2 2186.5,1037.5" stroke="#00e01c" stroke-width="4.0"/>
<path class="curve" d="M167.5,722.7 168.1,721.9 168.7,722.2 169.2,723.0 169.8,723.2 170.4,723.3 171.0,723.3 171.5,723.1 172.1,723.8 172.7,723.3 173.3,723.4 173.8,723.0 174.4,722.1 175.0,722.4 175.6,722.7 176.2,723.1 176.7,722.5 177.3,723.2 177.9,723.4 178.5,723.5 179.0,723.4 179.6,722.6 180.2,723.3 180.8,724.4 181.3,723.6 181.9,725.0 182.5,724.7 183.1,725.1 183.7,726.1 184.2,725.4 184.8,725.0 185.4,725.1 186.0,725.2 186.5,724.8 187.1,725.4 187.7,726.8 188.3,726.4 188.9,725.8 189.4,725.7 190.0,726.0 190.6,726.2 191.2,725.3 191.7,726.1 192.3,726.2 192.9,727.4 193.5,726.5 194.0,727.9 194.6,727.2 195.2,728.1 195.8,727.6 196.4,727.6 196.9,728.3 197.5,727.4 198.1,728.0 198.7,728.0 199.2,728.8 199.8,728.9 200.4,727.8 201.0,729.4 201.5,728.4 202.1,729.8 202.7,729.2 203.3,729.1 203.9,727.2 204.4,729.8 205.0,729.3 205.6,728.5 206.2,729.9 206.7,730.5 207.3,729.0 207.9,730.4 208.5,729.8 209.0,729.6 209.6,730.0 210.2,729.9 210.8,730.3 211.4,730.2 211.9,730.4 212.5,730.9 213.1,729.8 213.7,730.7 214.2,730.0 214.8,731.0 215.4,730.0 216.0,730.6 216.5,731.5 217.1,731.1 217.7,732.2 218.3,731.6 218.9,732.4 219.4,733.2 220.0,733.7 220.6,732.4 221.2,733.7 221.7,732.8 222.3,734.0 222.9,732.8 223.5,733.1 224.0,733.7 224.6,733.1 225.2,733.8 225.8,733.5 226.4,733.8 226.9,733.3 227.5,732.9 228.1,732.5 228.7,732.8 229.2,732.8 229.8,733.0 230.4,735.1 231.0,734.1 231.6,735.8 232.1,734.6 232.7,734.8 233.3,734.0 233.9,735.4 234.4,734.8 235.0,735.9 235.6,734.5 236.2,735.9 236.7,735.9 237.3,734.1 237.9,735.1 238.5,734.6 239.1,734.6 239.6,735.4 240.2,736.0 240.8,736.8 241.4,736.1 241.9,736.6 242.5,737.0 243.1,736.7 243.7,736.4 244.2,737.0 244.8,739.4 245.4,737.0 246.0,737.4 246.6,737.1 247.1,738.2 247.7,738.2 248.3,737.7 248.9,738.4 249.4,737.3 250.0,738.5 250.6,737.0 251.2,738.9 251.7,739.0 252.3,737.9 252.9,738.8 253.5,738.1 254.1,737.7 254.6,738.0 255.2,737.9 255.8,738.1 256.4,738.8 256.9,739.8 257.5,738.4 258.1,738.4 258.7,739.3 259.2,739.2 259.8,739.5 260.4,740.2 261.0,740.3 261.6,739.8 262.1,739.7 262.7,740.4 263.3,739.4 263.9,739.8 264.4,739.8 265.0,739.8 265.6,739.1 266.2,739.9 266.7,739.4 267.3,739.0 267.9,740.5 268.5,740.3 269.1,742.1 269.6,740.6 270.2,740.3 270.8,741.2 271.4,741.3 271.9,741.7 272.5,741.4 273.1,742.0 273.7,741.6 274.3,741.5 274.8,740.6 275.4,741.1 276.0,739.6 276.6,740.5 277.1,741.9 277.7,741.3 278.3,741.1 278.9,740.9 279.4,741.4 280.0,741.2 280.6,741.1 281.2,740.7 281.8,742.5 282.3,742.6 282.9,741.5 283.5,742.4 284.1,741.6 284.6,742.8 285.2,742.0 285.8,743.5 286.4,742.9 286.9,742.0 287.5,742.8 288.1,743.4 288.7,742.6 289.3,742.8 289.8,743.0 290.4,743.0 291.0,743.7 291.6,743.5 292.1,741.7 292.7,743.6 293.3,743.3 293.9,744.2 294.4,743.8 295.0,743.9 295.6,743.4 296.2,742.7 296.8,743.5 297.3,743.7 297.9,743.8 298.5,743.6 299.1,743.4 299.6,744.0 300.2,743.4 300.8,743.9 301.4,743.2 301.9,744.3 302.5,744.1 303.1,744.3 303.7,745.1 304.3,744.4 304.8,742.6 305.4,744.9 306.0,744.3 306.6,744.2 307.1,743.7 307.7,744.6 308.3,745.2 308.9,743.4 309.4,745.2 310.0,743.9 310.6,744.0 311.2,744.6 311.8,745.9 312.3,743.9 312.9,744.8 313.5,745.2 314.1,745.5 314.6,744.8 315.2,745.2 315.8,744.0 316.4,745.4 317.0,745.7 317.5,744.6 318.1,744.7 318.7,745.6 319.3,745.3 319.8,745.3 320.4,744.4 321.0,745.2 321.6,744.9 322.1,746.2 322.7,745.4 323.3,745.0 323.9,744.4 324.5,744.8 325.0,745.4 325.6,743.9 326.2,745.2 326.8,745.7 327.3,747.2 327.9,746.6 328.5,747.1 329.1,746.2 329.6,745.3 330.2,745.1 330.8,745.5 331.4,745.7 332.0,745.3 332.5,745.0 333.1,746.5 333.7,744.2 334.3,745.2 334.8,747.4 335.4,746.3 336.0,745.5 336.6,745.2 337.1,746.6 337.7,747.2 338.3,747.6 338.9,746.4 339.5,747.4 340.0,747.2 340.6,746.9 341.2,745.6 341.8,747.0 342.3,747.4 342.9,745.6 343.5,747.4 344.1,748.1 344.6,747.6 345.2,747.2 345.8,747.4 346.4,746.8 347.0,747.1 347.5,746.3 348.1,746.9 348.7,746.3 349.3,746.1 349.8,747.7 350.4,745.7 351.0,747.9 351.6,745.6 352.1,747.5 352.7,746.9 353.3,746.4 353.9,746.8 354.5,747.2 355.0,747.2 355.6,748.9 356.2,747.7 356.8,747.5 357.3,748.6 357.9,748.3 358.5,747.9 359.1,747.7 359.7,748.3 360.2,748.5 360.8,748.1 361.4,747.6 362.0,748.7 362.5,748.8 363.1,748.0 363.7,749.4 364.3,747.7 364.8,747.6 365.4,748.4 366.0,747.8 366.6,747.9 367.2,747.9 367.7,748.5 368.3,747.4 368.9,748.0 369.5,747.8 370.0,747.2 370.6,749.3 371.2,748.3 371.8,748.2 372.3,749.0 372.9,748.0 373.5,749.2 374.1,749.5 374.7,747.7 375.2,749.0 375.8,748.2 376.4,748.7 377.0,748.4 377.5,747.8 378.1,747.7 378.7,747.9 379.3,748.5 379.8,749.6 380.4,749.4 381.0,749.1 381.6,750.4 382.2,748.1 382.7,748.8 383.3,748.7 383.9,748.9 384.5,747.4 385.0,748.5 385.6,749.5 386.2,749.4 386.8,749.9 387.3,748.7 387.9,748.1 388.5,748.7 389.1,747.6 389.7,748.2 390.2,748.3 390.8,748.8 391.4,749.1 392.0,749.3 392.5,749.1 393.1,748.5 393.7,749.2 394.3,748.6 394.8,748.4 395.4,748.1 396.0,748.6 396.6,748.9 397.2,748.8 397.7,748.4 398.3,748.5 398.9,747.9 399.5,749.2 400.0,748.4 400.6,748.3 401.2,749.1 401.8,748.7 402.4,749.0 402.9,749.8 403.5,748.3 404.1,748.1 404.7,747.9 405.2,747.7 405.8,748.8 406.4,748.2 407.0,748.5 407.5,746.2 408.1,748.1 408.7,748.0 409.3,748.2 409.9,748.3 410.4,747.6 411.0,748.8 411.6,748.1 412.2,748.4 412.7,748.2 413.3,748.4 413.9,748.7 414.5,748.7 415.0,748.0 415.6,747.8 416.2,747.8 416.8,748.2 417.4,747.4 417.9,747.5 418.5,747.5 419.1,747.3 419.7,747.6 420.2,748.5 420.8,747.5 421.4,748.1 422.0,747.4 422.5,747.2 423.1,747.8 423.7,748.2 424.3,747.3 424.9,748.3 425.4,748.3 426.0,747.2 426.6,748.5 427.2,747.9 427.7,747.0 428.3,747.9 428.9,746.6 429.5,746.5 430.0,746.6 430.6,747.6 431.2,746.9 431.8,746.7 432.4,746.8 432.9,747.0 433.5,746.7 434.1,746.7 434.7,746.7 435.2,745.8 435.8,745.8 436.4,747.1 437.0,746.7 437.5,745.6 438.1,747.7 438.7,746.6 439.3,747.6 439.9,746.7 440.4,747.1 441.0,745.1 441.6,745.4 442.2,745.6 442.7,745.7 443.3,745.3 443.9,745.3 444.5,745.3 445.1,744.8 445.6,744.8 446.2,745.6 446.8,744.9 447.4,745.7 447.9,745.1 448.5,745.6 449.1,745.5 449.7,744.2 450.2,744.8 450.8,745.9 451.4,745.6 452.0,744.6 452.6,745.1 453.1,745.0 453.7,744.5 454.3,744.3 454.9,744.9 455.4,745.2 456.0,743.9 456.6,744.8 457.2,743.8 457.7,743.7 458.3,744.4 458.9,744.3 459.5,744.0 460.1,744.1 460.6,744.1 461.2,743.7 461.8,744.7 462.4,743.3 462.9,743.5 463.5,744.1 464.1,742.8 464.7,743.1 465.2,741.3 465.8,741.6 466.4,742.1 467.0,741.7 467.6,743.0 468.1,741.4 468.7,741.7 469.3,741.8 469.9,741.9 470.4,742.4 471.0,741.7 471.6,741.8 472.2,741.6 472.7,742.8 473.3,742.4 473.9,742.4 474.5,742.2 475.1,740.8 475.6,741.0 476.2,740.3 476.8,740.7 477.4,739.8 477.9,739.1 478.5,739.0 479.1,740.2 479.7,738.6 480.2,738.5 480.8,739.1 481.4,739.9 482.0,738.8 482.6,737.8 483.1,739.5 483.7,737.9 484.3,738.4 484.9,738.8 485.4,738.0 486.0,738.1 486.6,738.4 487.2,736.8 487.8,737.6 488.3,737.8 488.9,737.3 489.5,736.1 490.1,736.2 490.6,735.4 491.2,735.0 491.8,734.6 492.4,734.6 492.9,734.0 493.5,733.8 494.1,731.9 494.7,732.1 495.3,732.1 495.8,731.9 496.4,730.1 497.0,728.6 497.6,727.6 498.1,726.2 498.7,724.8 499.3,723.3 499.9,721.4 500.4,719.5 501.0,718.5 501.6,716.5 502.2,715.6 502.8,714.6 503.3,713.1 503.9,711.9 504.5,711.1 505.1,709.6 505.6,709.2 506.2,708.5 506.8,709.4 507.4,708.8 507.9,708.2 508.5,708.8 509.1,708.4 509.7,709.3 510.3,708.5 510.8,709.8 511.4,709.8 512.0,709.4 512.6,710.6 513.1,711.3 513.7,712.2 514.3,713.1 514.9,714.0 515.4,715.6 516.0,715.9 516.6,717.2 517.2,718.9 517.8,718.0 518.3,718.3 518.9,718.9 519.5,719.6 520.1,719.0 520.6,719.4 521.2,718.4 521.8,717.7 522.4,718.8 522.9,718.2 523.5,718.7 524.1,718.9 524.7,718.2 525.3,718.4 525.8,717.2 526.4,717.5 527.0,717.7 527.6,716.7 528.1,717.2 528.7,716.6 529.3,715.6 529.9,715.2 530.5,714.4 531.0,713.3 531.6,712.7 532.2,712.4 532.8,711.6 533.3,710.9 533.9,710.5 534.5,709.2 535.1,709.0 535.6,708.8 536.2,708.3 536.8,706.9 537.4,707.0 538.0,706.1 538.5,705.1 539.1,704.5 539.7,703.5 540.3,703.0 540.8,702.1 541.4,701.0 542.0,701.2 542.6,700.2 543.1,699.1 543.7,699.2 544.3,698.0 544.9,697.6 545.5,696.0 546.0,695.7 546.6,695.7 547.2,695.3 547.8,694.9 548.3,694.3 548.9,694.1 549.5,692.6 550.1,691.5 550.6,690.6 551.2,690.7 551.8,689.8 552.4,689.8 553.0,688.8 553.5,688.7 554.1,686.9 554.7,687.4 555.3,686.3 555.8,685.8 556.4,685.2 557.0,683.9 557.6,683.6 558.1,682.1 558.7,681.9 559.3,680.6 559.9,679.8 560.5,678.8 561.0,678.0 561.6,677.1 562.2,675.5 562.8,675.8 563.3,674.7 563.9,674.1 564.5,672.9 565.1,672.2 565.6,670.8 566.2,670.4 566.8,668.4 567.4,668.4 568.0,667.0 568.5,666.7 569.1,665.6 569.7,664.6 570.3,663.3 570.8,663.1 571.4,661.3 572.0,660.7 572.6,660.3 573.2,659.5 573.7,658.1 574.3,656.6 574.9,656.2 575.5,655.4 576.0,654.1 576.6,654.1 577.2,652.8 577.8,651.9 578.3,650.8 578.9,649.7 579.5,648.7 580.1,647.7 580.7,647.3 581.2,646.1 581.8,645.4 582.4,644.5 583.0,643.4 583.5,642.8 584.1,641.3 584.7,639.9 585.3,638.7 585.8,637.9 586.4,635.9 587.0,635.7 587.6,634.1 588.2,633.3 588.7,632.0 589.3,631.2 589.9,630.1 590.5,628.1 591.0,627.9 591.6,627.0 592.2,625.9 592.8,624.7 593.3,624.7 593.9,623.2 594.5,622.7 595.1,622.0 595.7,620.5 596.2,619.9 596.8,619.4 597.4,617.7 598.0,616.9 598.5,615.3 599.1,615.4 599.7,614.1 600.3,613.2 600.8,613.0 601.4,612.2 602.0,611.6 602.6,610.8 603.2,610.5 603.7,609.8 604.3,608.6 604.9,608.2 605.5,608.0 606.0,606.7 606.6,605.7 607.2,605.2 607.8,603.6 608.3,602.8 608.9,601.5 609.5,600.8 610.1,600.1 610.7,599.9 611.2,599.6 611.8,598.3 612.4,598.5 613.0,598.3 613.5,598.9 614.1,597.9 614.7,598.8 615.3,598.7 615.9,598.5 616.4,599.7 617.0,598.8 617.6,599.7 618.2,600.0 618.7,599.4 619.3,600.5 619.9,601.1 620.5,599.8 621.0,600.4 621.6,602.6 622.2,601.3 622.8,601.5 623.4,602.1 623.9,601.8 624.5,602.5 625.1,603.2 625.7,603.7 626.2,604.9 626.8,605.3 627.4,605.7 628.0,605.1 628.5,605.2 629.1,605.3 629.7,606.8 630.3,606.9 630.9,607.6 631.4,608.5 632.0,609.5 632.6,610.4 633.2,611.0 633.7,612.7 634.3,613.4 634.9,613.9 635.5,615.5 636.0,616.1 636.6,617.9 637.2,618.9 637.8,620.1 638.4,621.6 638.9,622.1 639.5,623.8 640.1,625.2 640.7,626.6 641.2,628.0 641.8,630.1 642.4,631.5 643.0,633.2 643.5,635.0 644.1,637.8 644.7,639.2 645.3,641.1 645.9,643.1 646.4,645.3 647.0,646.8 647.6,648.6 648.2,650.5 648.7,652.4 649.3,654.5 649.9,656.5 650.5,658.1 651.0,660.0 651.6,661.1 652.2,663.6 652.8,665.7 653.4,667.1 653.9,668.9 654.5,670.2 655.1,671.9 655.7,673.4 656.2,674.1 656.8,676.3 657.4,677.9 658.0,679.0 658.6,680.3 659.1,682.0 659.7,683.6 660.3,685.2 660.9,686.4 661.4,687.8 662.0,689.5 662.6,691.0 663.2,692.2 663.7,693.3 664.3,694.6 664.9,696.0 665.5,697.0 666.1,698.5 666.6,700.0 667.2,700.8 667.8,701.7 668.4,702.3 668.9,704.1 669.5,704.9 670.1,706.3 670.7,707.5 671.2,708.3 671.8,709.7 672.4,710.2 673.0,711.3 673.6,712.7 674.1,712.9 674.7,714.1 675.3,714.7 675.9,715.4 676.4,717.0 677.0,717.4 677.6,718.5 678.2,719.8 678.7,719.3 679.3,720.6 679.9,721.6 680.5,721.9 681.1,723.1 681.6,723.7 682.2,724.3 682.8,725.3 683.4,725.7 683.9,726.1 684.5,726.7 685.1,728.3 685.7,728.3 686.2,729.8 686.8,729.5 687.4,730.2 688.0,730.6 688.6,732.5 689.1,732.7 689.7,733.6 690.3,733.4 690.9,735.0 691.4,734.5 692.0,735.7 692.6,736.0 693.2,737.0 693.8,736.7 694.3,737.5 694.9,738.0 695.5,739.0 696.1,739.6 696.6,740.5 697.2,741.2 697.8,741.4 698.4,742.0 698.9,742.9 699.5,743.8 700.1,744.5 700.7,745.3 701.3,745.7 701.8,746.4 702.4,746.2 703.0,746.6 703.6,746.8 704.1,746.5 704.7,747.2 705.3,748.3 705.9,748.6 706.4,748.7 707.0,750.2 707.6,751.0 708.2,750.9 708.8,751.1 709.3,750.4 709.9,751.2 710.5,752.0 711.1,752.2 711.6,752.0 712.2,752.9 712.8,752.6 713.4,752.8 713.9,753.3 714.5,753.7 715.1,753.2 715.7,753.6 716.3,754.7 716.8,754.1 717.4,754.7 718.0,755.0 718.6,755.8 719.1,755.2 719.7,755.5 720.3,755.9 720.9,755.2 721.4,755.2 722.0,755.1 722.6,756.6 723.2,756.2 723.8,756.6 724.3,756.1 724.9,756.8 725.5,756.7 726.1,757.1 726.6,757.6 727.2,758.1 727.8,759.4 728.4,758.6 728.9,759.6 729.5,759.2 730.1,759.4 730.7,759.8 731.3,760.2 731.8,759.8 732.4,760.0 733.0,760.7 733.6,760.7 734.1,760.5 734.7,760.8 735.3,761.1 735.9,760.5 736.5,761.6 737.0,761.5 737.6,762.3 738.2,762.3 738.8,761.2 739.3,761.7 739.9,761.8 740.5,760.9 741.1,762.6 741.6,761.7 742.2,763.1 742.8,762.8 743.4,763.1 744.0,761.8 744.5,762.1 745.1,762.3 745.7,763.1 746.3,763.7 746.8,764.2 747.4,762.3 748.0,763.8 748.6,763.3 749.1,763.9 749.7,763.4 750.3,762.6 750.9,762.8 751.5,763.7 752.0,763.7 752.6,763.7 753.2,764.4 753.8,764.0 754.3,765.1 754.9,764.4 755.5,765.6 756.1,763.8 756.6,765.1 757.2,765.1 757.8,764.7 758.4,764.8 759.0,765.4 759.5,765.8 760.1,765.2 760.7,765.5 761.3,765.5 761.8,765.6 762.4,767.2 763.0,766.5 763.6,767.1 764.1,765.9 764.7,766.4 765.3,765.7 765.9,766.4 766.5,766.4 767.0,767.0 767.6,766.2 768.2,766.0 768.8,765.6 769.3,765.6 769.9,766.7 770.5,766.1 771.1,766.8 771.6,767.3 772.2,767.4 772.8,766.0 773.4,766.8 774.0,766.3 774.5,767.1 775.1,767.0 775.7,767.1 776.3,766.2 776.8,766.5 777.4,765.8 778.0,767.5 778.6,767.3 779.2,767.4 779.7,768.5 780.3,768.8 780.9,768.4 781.5,768.7 782.0,768.6 782.6,767.9 783.2,767.5 783.8,767.2 784.3,767.7 784.9,767.9 785.5,767.0 786.1,767.7 786.7,768.6 787.2,768.7 787.8,767.9 788.4,768.0 789.0,768.7 789.5,769.3 790.1,768.0 790.7,768.0 791.3,768.4 791.8,769.5 792.4,768.3 793.0,769.0 793.6,769.0 794.2,768.8 794.7,770.2 795.3,769.3 795.9,769.6 796.5,770.3 797.0,769.5 797.6,768.8 798.2,769.8 798.8,769.5 799.3,769.9 799.9,771.2 800.5,770.2 801.1,771.1 801.7,771.2 802.2,770.7 802.8,771.3 803.4,769.6 804.0,769.6 804.5,770.1 805.1,770.2 805.7,770.2 806.3,770.3 806.8,771.9 807.4,770.8 808.0,772.1 808.6,771.8 809.2,770.7 809.7,770.8 810.3,770.9 810.9,770.5 811.5,771.1 812.0,770.0 812.6,769.9 813.2,770.0 813.8,770.5 814.3,771.0 814.9,771.0 815.5,771.5 816.1,771.6 816.7,771.5 817.2,772.0 817.8,771.3 818.4,771.2 819.0,771.1 819.5,770.4 820.1,770.6 820.7,770.6 821.3,770.2 821.9,770.5 822.4,770.5 823.0,771.7 823.6,771.9 824.2,770.8 824.7,771.7 825.3,771.2 825.9,770.9 826.5,771.3 827.0,770.9 827.6,771.0 828.2,770.8 828.8,771.0 829.4,769.9 829.9,770.3 830.5,770.5 831.1,771.0 831.7,769.9 832.2,769.8 832.8,769.8 833.4,769.2 834.0,769.6 834.5,767.9 835.1,768.6 835.7,767.8 836.3,767.8 836.9,767.6 837.4,766.6 838.0,765.8 838.6,765.3 839.2,764.4 839.7,764.0 840.3,763.2 840.9,762.3 841.5,761.4 842.0,761.1 842.6,760.1 843.2,758.9 843.8,758.2 844.4,757.5 844.9,756.5 845.5,756.0 846.1,755.3 846.7,755.0 847.2,753.4 847.8,752.7 848.4,750.7 849.0,749.9 849.5,749.2 850.1,748.4 850.7,746.8 851.3,747.1 851.9,746.6 852.4,746.6 853.0,747.2 853.6,747.5 854.2,748.6 854.7,749.2 855.3,749.9 855.9,751.0 856.5,751.4 857.0,752.1 857.6,752.3 858.2,752.8 858.8,752.6 859.4,753.3 859.9,752.7 860.5,752.9 861.1,753.3 861.7,752.8 862.2,752.0 862.8,752.6 863.4,752.7 864.0,753.5 864.6,753.5 865.1,752.7 865.7,752.8 866.3,752.9 866.9,752.5 867.4,751.8 868.0,752.8 868.6,752.1 869.2,753.0 869.7,751.9 870.3,752.7 870.9,752.7 871.5,752.2 872.1,751.9 872.6,751.5 873.2,752.2 873.8,751.6 874.4,752.1 874.9,751.9 875.5,751.5 876.1,751.5 876.7,751.2 877.2,750.8 877.8,750.0 878.4,751.3 879.0,751.1 879.6,750.0 880.1,749.2 880.7,749.1 881.3,748.1 881.9,748.6 882.4,748.6 883.0,747.7 883.6,747.2 884.2,745.8 884.7,746.0 885.3,745.5 885.9,746.1 886.5,744.9 887.1,744.1 887.6,743.6 888.2,742.5 888.8,741.3 889.4,739.7 889.9,738.6 890.5,737.2 891.1,735.5 891.7,734.2 892.2,732.4 892.8,731.1 893.4,729.6 894.0,727.8 894.6,726.0 895.1,724.5 895.7,722.6 896.3,720.4 896.9,717.8 897.4,715.6 898.0,713.1 898.6,711.2 899.2,708.2 899.7,705.6 900.3,703.2 900.9,700.4 901.5,697.7 902.1,695.1 902.6,692.0 903.2,688.9 903.8,685.9 904.4,682.9 904.9,681.1 905.5,679.0 906.1,677.9 906.7,676.8 907.3,675.0 907.8,674.1 908.4,673.9 909.0,674.6 909.6,675.5 910.1,675.9 910.7,676.9 911.3,678.8 911.9,680.4 912.4,682.8 913.0,686.2 913.6,689.5 914.2,693.6 914.8,697.4 915.3,701.4 915.9,705.0 916.5,708.4 917.1,711.7 917.6,715.5 918.2,719.3 918.8,722.7 919.4,726.0 919.9,729.2 920.5,731.7 921.1,734.1 921.7,735.8 922.3,736.6 922.8,738.9 923.4,740.0 924.0,741.3 924.6,743.1 925.1,744.0 925.7,744.7 926.3,745.6 926.9,746.9 927.4,747.9 928.0,748.8 928.6,749.2 929.2,750.7 929.8,750.4 930.3,751.7 930.9,751.5 931.5,752.7 932.1,753.2 932.6,752.9 933.2,753.5 933.8,754.1 934.4,755.0 934.9,754.5 935.5,755.0 936.1,757.5 936.7,756.7 937.3,757.0 937.8,757.0 938.4,757.2 939.0,757.6 939.6,757.7 940.1,758.0 940.7,758.2 941.3,759.1 941.9,758.0 942.4,758.7 943.0,758.4 943.6,758.5 944.2,759.2 944.8,758.8 945.3,758.5 945.9,760.5 946.5,760.3 947.1,760.6 947.6,761.0 948.2,760.4 948.8,761.2 949.4,760.3 950.0,761.8 950.5,760.2 951.1,760.8 951.7,761.0 952.3,760.2 952.8,760.6 953.4,761.3 954.0,760.5 954.6,761.3 955.1,762.0 955.7,760.9 956.3,761.0 956.9,760.6 957.5,760.9 958.0,761.5 958.6,761.3 959.2,761.6 959.8,762.5 960.3,763.0 960.9,762.1 961.5,762.5 962.1,762.6 962.6,762.0 963.2,763.2 963.8,763.6 964.4,763.6 965.0,763.2 965.5,764.3 966.1,764.0 966.7,763.5 967.3,763.8 967.8,764.3 968.4,763.9 969.0,764.7 969.6,764.9 970.1,764.3 970.7,764.4 971.3,764.4 971.9,765.3 972.5,765.0 973.0,763.9 973.6,763.9 974.2,764.1 974.8,764.7 975.3,764.3 975.9,765.5 976.5,765.3 977.1,766.1 977.6,766.0 978.2,765.3 978.8,766.9 979.4,766.9 980.0,765.9 980.5,765.5 981.1,765.4 981.7,766.1 982.3,765.7 982.8,766.2 983.4,767.5 984.0,766.4 984.6,766.8 985.1,767.4 985.7,767.3 986.3,766.4 986.9,766.0 987.5,766.8 988.0,766.7 988.6,766.9 989.2,767.5 989.8,767.8 990.3,767.2 990.9,768.2 991.5,767.2 992.1,767.3 992.7,767.8 993.2,768.3 993.8,768.3 994.4,768.0 995.0,767.8 995.5,768.0 996.1,767.8 996.7,767.7 997.3,767.9 997.8,768.2 998.4,768.5 999.0,767.9 999.6,768.1 1000.2,768.1 1000.7,770.0 1001.3,769.3 1001.9,769.7 1002.5,768.5 1003.0,769.9 1003.6,769.2 1004.2,769.8 1004.8,769.6 1005.3,768.9 1005.9,768.6 1006.5,768.7 1007.1,768.5 1007.7,768.5 1008.2,768.6 1008.8,769.6 1009.4,769.4 1010.0,770.2 1010.5,771.4 1011.1,769.9 1011.7,769.6 1012.3,770.5 1012.8,769.7 1013.4,770.1 1014.0,769.7 1014.6,770.5 1015.2,769.7 1015.7,769.0 1016.3,770.5 1016.9,770.8 1017.5,770.4 1018.0,771.6 1018.6,769.6 1019.2,769.8 1019.8,770.7 1020.3,771.2 1020.9,770.6 1021.5,770.3 1022.1,769.9 1022.7,771.5 1023.2,770.0 1023.8,770.6 1024.4,770.6 1025.0,769.4 1025.5,770.7 1026.1,769.9 1026.7,770.8 1027.3,770.7 1027.8,770.7 1028.4,772.1 1029.0,771.4 1029.6,770.4 1030.2,771.2 1030.7,771.5 1031.3,771.7 1031.9,770.7 1032.5,772.3 1033.0,770.5 1033.6,769.9 1034.2,771.1 1034.8,769.8 1035.4,771.3 1035.9,769.1 1036.5,770.2 1037.1,770.1 1037.7,768.9 1038.2,769.9 1038.8,768.5 1039.4,769.2 1040.0,769.4 1040.5,769.5 1041.1,770.0 1041.7,769.7 1042.3,769.0 1042.9,768.8 1043.4,769.2 1044.0,768.4 1044.6,770.0 1045.2,769.1 1045.7,770.3 1046.3,769.2 1046.9,768.3 1047.5,767.9 1048.0,768.8 1048.6,766.2 1049.2,767.7 1049.8,769.1 1050.4,767.8 1050.9,768.4 1051.5,768.1 1052.1,768.4 1052.7,767.2 1053.2,767.7 1053.8,768.0 1054.4,767.1 1055.0,766.8 1055.5,767.4 1056.1,767.3 1056.7,767.1 1057.3,766.6 1057.9,766.4 1058.4,766.7 1059.0,766.3 1059.6,766.8 1060.2,767.6 1060.7,766.8 1061.3,765.7 1061.9,765.9 1062.5,765.3 1063.0,766.4 1063.6,766.0 1064.2,766.4 1064.8,765.4 1065.4,765.9 1065.9,765.6 1066.5,766.4 1067.1,765.2 1067.7,766.8 1068.2,765.9 1068.8,765.7 1069.4,764.9 1070.0,765.0 1070.5,765.1 1071.1,765.1 1071.7,765.2 1072.3,764.3 1072.9,765.2 1073.4,764.6 1074.0,763.7 1074.6,764.1 1075.2,764.6 1075.7,764.9 1076.3,764.4 1076.9,764.7 1077.5,763.9 1078.1,763.8 1078.6,763.0 1079.2,763.8 1079.8,763.9 1080.4,762.9 1080.9,763.5 1081.5,763.7 1082.1,763.6 1082.7,765.0 1083.2,763.9 1083.8,764.2 1084.4,764.2 1085.0,763.7 1085.6,764.0 1086.1,763.8 1086.7,763.9 1087.3,763.2 1087.9,764.0 1088.4,763.5 1089.0,762.9 1089.6,762.8 1090.2,763.3 1090.7,763.3 1091.3,762.9 1091.9,762.8 1092.5,763.5 1093.1,763.9 1093.6,764.9 1094.2,764.2 1094.8,762.6 1095.4,763.4 1095.9,763.4 1096.5,763.8 1097.1,763.0 1097.7,763.8 1098.2,762.1 1098.8,763.8 1099.4,762.1 1100.0,762.1 1100.6,762.3 1101.1,761.7 1101.7,761.2 1102.3,762.1 1102.9,762.3 1103.4,763.3 1104.0,763.3 1104.6,762.5 1105.2,763.1 1105.7,762.0 1106.3,761.6 1106.9,762.3 1107.5,762.0 1108.1,762.1 1108.6,763.1 1109.2,762.4 1109.8,761.7 1110.4,761.9 1110.9,762.2 1111.5,760.9 1112.1,762.1 1112.7,762.0 1113.2,762.1 1113.8,762.7 1114.4,762.4 1115.0,761.0 1115.6,761.8 1116.1,761.1 1116.7,760.3 1117.3,761.1 1117.9,761.4 1118.4,762.0 1119.0,761.2 1119.6,761.2 1120.2,762.1 1120.8,761.4 1121.3,761.3 1121.9,761.1 1122.5,761.7 1123.1,761.3 1123.6,760.8 1124.2,759.1 1124.8,761.7 1125.4,760.5 1125.9,761.3 1126.5,760.7 1127.1,760.1 1127.7,761.2 1128.3,760.7 1128.8,761.0 1129.4,761.4 1130.0,762.6 1130.6,761.0 1131.1,761.2 1131.7,760.9 1132.3,761.0 1132.9,761.7 1133.4,761.5 1134.0,761.5 1134.6,761.6 1135.2,761.5 1135.8,761.6 1136.3,763.0 1136.9,761.4 1137.5,761.8 1138.1,761.4 1138.6,762.1 1139.2,761.7 1139.8,760.9 1140.4,760.6 1140.9,761.3 1141.5,761.5 1142.1,760.2 1142.7,760.9 1143.3,761.1 1143.8,761.6 1144.4,761.7 1145.0,762.0 1145.6,761.2 1146.1,761.7 1146.7,761.7 1147.3,761.5 1147.9,762.5 1148.4,762.3 1149.0,762.8 1149.6,762.6 1150.2,763.0 1150.8,762.7 1151.3,762.4 1151.9,762.6 1152.5,762.2 1153.1,763.0 1153.6,761.7 1154.2,763.4 1154.8,762.6 1155.4,763.3 1155.9,763.3 1156.5,764.0 1157.1,764.5 1157.7,764.0 1158.3,762.5 1158.8,763.0 1159.4,762.4 1160.0,762.9 1160.6,762.1 1161.1,762.8 1161.7,761.4 1162.3,763.1 1162.9,762.0 1163.5,762.0 1164.0,762.8 1164.6,763.6 1165.2,763.2 1165.8,765.2 1166.3,764.7 1166.9,764.7 1167.5,764.6 1168.1,765.7 1168.6,765.8 1169.2,766.3 1169.8,765.9 1170.4,765.6 1171.0,766.7 1171.5,766.7 1172.1,766.2 1172.7,766.8 1173.3,766.9 1173.8,766.8 1174.4,767.5 1175.0,766.0 1175.6,768.2 1176.1,767.6 1176.7,767.5 1177.3,767.5 1177.9,767.7 1178.5,767.0 1179.0,768.1 1179.6,768.5 1180.2,768.6 1180.8,767.7 1181.3,767.8 1181.9,767.2 1182.5,767.7 1183.1,769.0 1183.6,769.0 1184.2,767.8 1184.8,769.7 1185.4,769.5 1186.0,768.8 1186.5,768.4 1187.1,768.4 1187.7,769.1 1188.3,768.7 1188.8,767.9 1189.4,768.9 1190.0,768.6 1190.6,769.4 1191.1,768.3 1191.7,768.4 1192.3,768.6 1192.9,768.7 1193.5,768.4 1194.0,769.2 1194.6,768.1 1195.2,768.3 1195.8,768.2 1196.3,768.7 1196.9,769.6 1197.5,769.3 1198.1,770.0 1198.7,769.7 1199.2,769.2 1199.8,768.4 1200.4,769.2 1201.0,768.8 1201.5,768.9 1202.1,769.1 1202.7,769.4 1203.3,769.0 1203.8,769.1 1204.4,768.9 1205.0,769.2 1205.6,770.1 1206.2,769.8 1206.7,768.6 1207.3,770.0 1207.9,770.5 1208.5,770.6 1209.0,770.0 1209.6,769.3 1210.2,770.6 1210.8,769.7 1211.3,771.1 1211.9,769.2 1212.5,770.7 1213.1,768.9 1213.7,770.5 1214.2,769.2 1214.8,769.6 1215.4,769.7 1216.0,770.3 1216.5,770.0 1217.1,770.8 1217.7,769.6 1218.3,770.4 1218.8,769.8 1219.4,770.5 1220.0,770.4 1220.6,770.5 1221.2,770.9 1221.7,770.6 1222.3,770.9 1222.9,771.3 1223.5,771.4 1224.0,770.1 1224.6,770.3 1225.2,770.2 1225.8,769.2 1226.3,769.4 1226.9,768.9 1227.5,769.1 1228.1,771.0 1228.7,770.5 1229.2,770.0 1229.8,771.4 1230.4,771.0 1231.0,769.9 1231.5,770.4 1232.1,770.8 1232.7,771.0 1233.3,770.7 1233.8,771.8 1234.4,771.0 1235.0,772.5 1235.6,771.9 1236.2,772.1 1236.7,772.3 1237.3,770.9 1237.9,772.0 1238.5,772.6 1239.0,772.3 1239.6,771.2 1240.2,770.2 1240.8,771.8 1241.4,770.9 1241.9,771.3 1242.5,771.8 1243.1,772.1 1243.7,770.7 1244.2,772.0 1244.8,771.4 1245.4,771.0 1246.0,771.2 1246.5,771.6 1247.1,772.3 1247.7,771.1 1248.3,771.7 1248.9,770.4 1249.4,770.8 1250.0,770.8 1250.6,770.8 1251.2,770.7 1251.7,770.7 1252.3,770.6 1252.9,771.2 1253.5,771.8 1254.0,771.8 1254.6,771.7 1255.2,772.0 1255.8,771.1 1256.4,770.9 1256.9,770.6 1257.5,772.1 1258.1,771.8 1258.7,771.8 1259.2,771.7 1259.8,771.2 1260.4,772.0 1261.0,771.3 1261.5,773.1 1262.1,772.2 1262.7,772.7 1263.3,771.3 1263.9,772.5 1264.4,771.6 1265.0,771.1 1265.6,772.3 1266.2,771.1 1266.7,771.3 1267.3,771.4 1267.9,771.0 1268.5,770.2 1269.0,770.7 1269.6,771.6 1270.2,770.7 1270.8,769.5 1271.4,771.8 1271.9,770.7 1272.5,770.3 1273.1,771.0 1273.7,770.3 1274.2,770.4 1274.8,771.3 1275.4,771.3 1276.0,771.0 1276.5,770.4 1277.1,770.1 1277.7,771.1 1278.3,770.9 1278.9,769.9 1279.4,770.9 1280.0,769.5 1280.6,771.3 1281.2,771.1 1281.7,770.6 1282.3,771.8 1282.9,771.3 1283.5,770.8 1284.1,770.4 1284.6,770.6 1285.2,770.9 1285.8,770.8 1286.4,769.9 1286.9,769.3 1287.5,769.3 1288.1,769.7 1288.7,769.0 1289.2,769.1 1289.8,769.9 1290.4,770.3 1291.0,770.8 1291.6,771.0 1292.1,769.2 1292.7,770.8 1293.3,770.4 1293.9,769.7 1294.4,770.6 1295.0,768.8 1295.6,768.7 1296.2,771.3 1296.7,769.3 1297.3,770.1 1297.9,769.5 1298.5,770.1 1299.1,769.6 1299.6,771.0 1300.2,769.1 1300.8,770.1 1301.4,769.3 1301.9,769.1 1302.5,770.0 1303.1,769.2 1303.7,769.4 1304.2,769.6 1304.8,769.4 1305.4,769.3 1306.0,769.8 1306.6,769.4 1307.1,769.4 1307.7,769.2 1308.3,769.4 1308.9,769.7 1309.4,768.8 1310.0,769.2 1310.6,770.0 1311.2,769.2 1311.7,768.6 1312.3,770.0 1312.9,769.2 1313.5,768.8 1314.1,768.9 1314.6,769.3 1315.2,769.4 1315.8,769.5 1316.4,769.5 1316.9,769.9 1317.5,770.1 1318.1,769.5 1318.7,768.8 1319.2,770.6 1319.8,770.8 1320.4,770.6 1321.0,769.5 1321.6,770.0 1322.1,769.5 1322.7,768.8 1323.3,768.2 1323.9,769.6 1324.4,768.6 1325.0,768.4 1325.6,767.6 1326.2,768.7 1326.8,768.1 1327.3,769.6 1327.9,768.3 1328.5,768.8 1329.1,768.2 1329.6,768.2 1330.2,768.4 1330.8,768.8 1331.4,768.4 1331.9,768.4 1332.5,768.3 1333.1,769.3 1333.7,769.3 1334.3,768.2 1334.8,769.0 1335.4,768.4 1336.0,768.1 1336.6,768.7 1337.1,769.4 1337.7,769.1 1338.3,769.3 1338.9,769.9 1339.4,767.9 1340.0,768.2 1340.6,768.5 1341.2,767.7 1341.8,768.2 1342.3,767.9 1342.9,769.3 1343.5,768.8 1344.1,768.3 1344.6,768.0 1345.2,769.0 1345.8,769.4 1346.4,769.0 1346.9,769.3 1347.5,768.4 1348.1,769.2 1348.7,768.5 1349.3,767.4 1349.8,766.8 1350.4,767.5 1351.0,767.9 1351.6,768.7 1352.1,767.3 1352.7,767.8 1353.3,767.5 1353.9,768.3 1354.4,768.0 1355.0,767.4 1355.6,767.5 1356.2,767.7 1356.8,767.2 1357.3,767.7 1357.9,767.2 1358.5,767.3 1359.1,767.3 1359.6,766.2 1360.2,767.5 1360.8,767.4 1361.4,767.3 1361.9,768.6 1362.5,767.9 1363.1,767.0 1363.7,766.2 1364.3,766.6 1364.8,768.0 1365.4,766.2 1366.0,767.6 1366.6,766.7 1367.1,767.6 1367.7,768.4 1368.3,767.6 1368.9,767.2 1369.5,766.7 1370.0,767.1 1370.6,766.2 1371.2,766.2 1371.8,766.8 1372.3,767.7 1372.9,767.0 1373.5,767.6 1374.1,766.6 1374.6,767.1 1375.2,766.6 1375.8,766.9 1376.4,766.1 1377.0,767.2 1377.5,766.6 1378.1,766.2 1378.7,767.0 1379.3,765.9 1379.8,764.5 1380.4,765.2 1381.0,766.3 1381.6,765.7 1382.1,766.2 1382.7,766.3 1383.3,766.8 1383.9,765.2 1384.5,766.5 1385.0,766.6 1385.6,765.9 1386.2,765.8 1386.8,766.6 1387.3,766.1 1387.9,764.2 1388.5,766.5 1389.1,764.5 1389.6,765.3 1390.2,765.9 1390.8,764.5 1391.4,765.1 1392.0,766.3 1392.5,766.2 1393.1,766.8 1393.7,765.9 1394.3,765.7 1394.8,765.8 1395.4,765.8 1396.0,766.2 1396.6,766.6 1397.1,767.3 1397.7,766.0 1398.3,766.0 1398.9,766.5 1399.5,767.2 1400.0,766.7 1400.6,765.3 1401.2,767.2 1401.8,765.6 1402.3,766.6 1402.9,764.9 1403.5,765.2 1404.1,766.4 1404.6,765.3 1405.2,766.0 1405.8,766.6 1406.4,766.0 1407.0,766.5 1407.5,764.9 1408.1,765.6 1408.7,765.3 1409.3,765.8 1409.8,766.0 1410.4,765.5 1411.0,764.9 1411.6,765.5 1412.2,764.7 1412.7,765.5 1413.3,765.8 1413.9,765.9 1414.5,766.2 1415.0,765.4 1415.6,765.4 1416.2,766.9 1416.8,765.4 1417.3,765.6 1417.9,765.1 1418.5,767.0 1419.1,765.3 1419.7,765.9 1420.2,765.9 1420.8,766.0 1421.4,766.3 1422.0,765.3 1422.5,765.5 1423.1,766.2 1423.7,764.5 1424.3,764.9 1424.8,764.9 1425.4,765.9 1426.0,765.6 1426.6,766.4 1427.2,764.2 1427.7,766.2 1428.3,765.0 1428.9,765.2 1429.5,763.5 1430.0,765.7 1430.6,764.1 1431.2,764.5 1431.8,765.9 1432.3,765.2 1432.9,765.2 1433.5,766.9 1434.1,765.6 1434.7,764.6 1435.2,764.6 1435.8,765.6 1436.4,765.6 1437.0,765.0 1437.5,764.3 1438.1,764.9 1438.7,763.7 1439.3,764.4 1439.8,765.6 1440.4,766.5 1441.0,766.8 1441.6,766.5 1442.2,767.2 1442.7,765.7 1443.3,766.6 1443.9,765.0 1444.5,765.7 1445.0,766.1 1445.6,767.4 1446.2,766.0 1446.8,766.1 1447.3,766.9 1447.9,767.1 1448.5,765.9 1449.1,766.8 1449.7,766.3 1450.2,767.2 1450.8,767.4 1451.4,767.5 1452.0,767.6 1452.5,768.1 1453.1,767.5 1453.7,769.1 1454.3,769.6 1454.9,769.2 1455.4,767.9 1456.0,769.5 1456.6,767.8 1457.2,768.9 1457.7,768.9 1458.3,769.0 1458.9,769.7 1459.5,770.0 1460.0,768.4 1460.6,769.9 1461.2,769.0 1461.8,769.2 1462.4,769.1 1462.9,769.6 1463.5,770.1 1464.1,769.7 1464.7,770.1 1465.2,769.8 1465.8,770.4 1466.4,770.6 1467.0,770.6 1467.5,771.7 1468.1,770.2 1468.7,771.7 1469.3,770.6 1469.9,770.3 1470.4,770.3 1471.0,770.8 1471.6,770.7 1472.2,770.8 1472.7,771.3 1473.3,769.4 1473.9,770.6 1474.5,771.0 1475.0,769.9 1475.6,771.0 1476.2,772.0 1476.8,771.8 1477.4,770.7 1477.9,772.5 1478.5,771.7 1479.1,771.4 1479.7,771.4 1480.2,772.4 1480.8,771.7 1481.4,772.1 1482.0,771.8 1482.5,772.1 1483.1,772.1 1483.7,772.2 1484.3,771.4 1484.9,771.4 1485.4,771.0 1486.0,771.5 1486.6,770.4 1487.2,771.3 1487.7,772.3 1488.3,771.9 1488.9,771.6 1489.5,771.2 1490.0,772.0 1490.6,772.0 1491.2,772.0 1491.8,773.4 1492.4,771.3 1492.9,772.5 1493.5,773.3 1494.1,773.2 1494.7,772.8 1495.2,772.5 1495.8,772.3 1496.4,772.2 1497.0,771.8 1497.6,771.9 1498.1,772.3 1498.7,772.8 1499.3,772.3 1499.9,772.1 1500.4,771.5 1501.0,772.4 1501.6,770.8 1502.2,772.7 1502.7,771.9 1503.3,773.3 1503.9,773.8 1504.5,773.8 1505.1,774.3 1505.6,774.8 1506.2,773.9 1506.8,772.6 1507.4,774.0 1507.9,773.4 1508.5,773.8 1509.1,773.3 1509.7,772.3 1510.2,773.7 1510.8,772.3 1511.4,772.9 1512.0,772.4 1512.6,774.1 1513.1,773.0 1513.7,773.7 1514.3,772.2 1514.9,773.0 1515.4,774.0 1516.0,774.6 1516.6,773.7 1517.2,773.0 1517.7,773.2 1518.3,773.4 1518.9,773.6 1519.5,773.3 1520.1,774.7 1520.6,774.1 1521.2,775.0 1521.8,774.8 1522.4,775.2 1522.9,773.7 1523.5,774.0 1524.1,774.5 1524.7,774.7 1525.2,774.2 1525.8,774.7 1526.4,774.1 1527.0,773.7 1527.6,773.6 1528.1,774.8 1528.7,776.1 1529.3,773.4 1529.9,774.0 1530.4,773.5 1531.0,774.3 1531.6,775.4 1532.2,773.9 1532.7,774.7 1533.3,774.0 1533.9,773.6 1534.5,773.5 1535.1,774.6 1535.6,774.0 1536.2,775.2 1536.8,775.0 1537.4,774.7 1537.9,774.0 1538.5,774.8 1539.1,773.8 1539.7,774.9 1540.3,774.6 1540.8,775.8 1541.4,774.6 1542.0,775.2 1542.6,775.1 1543.1,775.8 1543.7,774.4 1544.3,774.8 1544.9,774.4 1545.4,773.2 1546.0,774.2 1546.6,775.0 1547.2,775.1 1547.8,774.0 1548.3,774.7 1548.9,774.3 1549.5,774.7 1550.1,773.9 1550.6,773.8 1551.2,774.1 1551.8,775.0 1552.4,774.1 1552.9,773.0 1553.5,774.9 1554.1,774.6 1554.7,773.1 1555.3,774.6 1555.8,774.5 1556.4,774.4 1557.0,774.6 1557.6,774.4 1558.1,774.4 1558.7,773.6 1559.3,773.5 1559.9,774.3 1560.4,773.8 1561.0,774.2 1561.6,774.1 1562.2,774.4 1562.8,773.2 1563.3,773.5 1563.9,773.0 1564.5,774.3 1565.1,773.6 1565.6,773.8 1566.2,774.8 1566.8,772.8 1567.4,774.0 1567.9,774.7 1568.5,773.5 1569.1,773.2 1569.7,773.2 1570.3,773.5 1570.8,773.3 1571.4,773.3 1572.0,774.1 1572.6,774.1 1573.1,773.7 1573.7,772.1 1574.3,772.7 1574.9,772.2 1575.4,771.7 1576.0,772.7 1576.6,771.6 1577.2,772.7 1577.8,773.2 1578.3,772.2 1578.9,773.0 1579.5,771.8 1580.1,773.5 1580.6,772.3 1581.2,772.3 1581.8,772.1 1582.4,772.9 1583.0,772.0 1583.5,771.5 1584.1,772.6 1584.7,771.6 1585.3,771.9 1585.8,770.3 1586.4,770.5 1587.0,769.5 1587.6,768.8 1588.1,768.8 1588.7,767.7 1589.3,767.4 1589.9,766.5 1590.5,766.5 1591.0,766.4 1591.6,765.6 1592.2,765.3 1592.8,764.6 1593.3,764.8 1593.9,764.2 1594.5,763.7 1595.1,762.6 1595.6,761.8 1596.2,760.5 1596.8,760.0 1597.4,758.3 1598.0,757.7 1598.5,756.4 1599.1,755.3 1599.7,754.4 1600.3,753.1 1600.8,752.4 1601.4,751.0 1602.0,749.5 1602.6,748.5 1603.1,747.8 1603.7,746.4 1604.3,745.6 1604.9,743.8 1605.5,743.3 1606.0,741.3 1606.6,739.6 1607.2,738.7 1607.8,737.7 1608.3,735.9 1608.9,734.5 1609.5,733.2 1610.1,733.1 1610.6,733.1 1611.2,732.6 1611.8,732.5 1612.4,732.9 1613.0,731.8 1613.5,732.7 1614.1,733.2 1614.7,734.5 1615.3,735.1 1615.8,736.2 1616.4,737.1 1617.0,737.9 1617.6,739.3 1618.1,741.2 1618.7,742.7 1619.3,745.3 1619.9,746.5 1620.5,748.7 1621.0,750.4 1621.6,752.1 1622.2,753.7 1622.8,755.1 1623.3,756.6 1623.9,757.5 1624.5,758.7 1625.1,759.6 1625.7,761.5 1626.2,761.4 1626.8,762.1 1627.4,764.1 1628.0,765.0 1628.5,765.8 1629.1,766.1 1629.7,767.7 1630.3,768.1 1630.8,768.7 1631.4,769.4 1632.0,768.5 1632.6,768.8 1633.2,769.7 1633.7,769.7 1634.3,769.5 1634.9,770.8 1635.5,770.4 1636.0,771.3 1636.6,771.9 1637.2,770.9 1637.8,771.1 1638.3,771.2 1638.9,770.8 1639.5,772.1 1640.1,772.1 1640.7,771.7 1641.2,772.5 1641.8,771.8 1642.4,772.0 1643.0,771.8 1643.5,772.4 1644.1,773.1 1644.7,772.4 1645.3,773.8 1645.8,773.6 1646.4,773.6 1647.0,773.9 1647.6,773.5 1648.2,774.4 1648.7,774.1 1649.3,774.0 1649.9,774.8 1650.5,774.1 1651.0,773.1 1651.6,773.4 1652.2,773.6 1652.8,773.6 1653.3,773.7 1653.9,774.1 1654.5,773.6 1655.1,775.4 1655.7,775.3 1656.2,774.1 1656.8,775.5 1657.4,774.8 1658.0,774.3 1658.5,775.1 1659.1,775.5 1659.7,775.7 1660.3,775.1 1660.8,775.1 1661.4,775.3 1662.0,775.6 1662.6,774.0 1663.2,775.8 1663.7,774.4 1664.3,775.7 1664.9,776.0 1665.5,775.2 1666.0,774.4 1666.6,775.3 1667.2,776.5 1667.8,775.6 1668.4,774.9 1668.9,776.2 1669.5,775.4 1670.1,774.9 1670.7,775.7 1671.2,775.7 1671.8,775.3 1672.4,774.8 1673.0,774.9 1673.5,775.3 1674.1,774.2 1674.7,775.1 1675.3,775.7 1675.9,776.1 1676.4,774.7 1677.0,776.2 1677.6,777.1 1678.2,776.9 1678.7,776.1 1679.3,777.2 1679.9,777.0 1680.5,776.8 1681.0,776.1 1681.6,776.4 1682.2,775.7 1682.8,776.0 1683.4,776.2 1683.9,776.4 1684.5,776.7 1685.1,775.9 1685.7,775.8 1686.2,775.0 1686.8,774.7 1687.4,775.7 1688.0,776.6 1688.5,776.8 1689.1,776.3 1689.7,776.4 1690.3,774.7 1690.9,776.9 1691.4,775.5 1692.0,775.0 1692.6,775.4 1693.2,776.4 1693.7,776.1 1694.3,776.7 1694.9,775.9 1695.5,776.2 1696.0,776.8 1696.6,775.6 1697.2,775.1 1697.8,774.9 1698.4,775.4 1698.9,776.1 1699.5,777.1 1700.1,777.4 1700.7,775.7 1701.2,776.6 1701.8,775.9 1702.4,776.6 1703.0,776.1 1703.6,777.0 1704.1,776.8 1704.7,777.5 1705.3,776.9 1705.9,777.4 1706.4,776.8 1707.0,776.2 1707.6,777.9 1708.2,776.8 1708.7,776.2 1709.3,777.5 1709.9,777.3 1710.5,776.1 1711.1,776.6 1711.6,776.9 1712.2,776.5 1712.8,776.9 1713.4,776.2 1713.9,776.7 1714.5,776.6 1715.1,777.6 1715.7,777.3 1716.2,776.6 1716.8,777.2 1717.4,777.8 1718.0,777.4 1718.6,776.6 1719.1,777.6 1719.7,776.3 1720.3,777.3 1720.9,777.4 1721.4,776.1 1722.0,777.0 1722.6,777.3 1723.2,775.9 1723.7,776.0 1724.3,777.1 1724.9,776.9 1725.5,777.4 1726.1,777.5 1726.6,776.3 1727.2,776.8 1727.8,776.5 1728.4,776.5 1728.9,775.8 1729.5,776.4 1730.1,776.5 1730.7,777.1 1731.2,777.9 1731.8,778.1 1732.4,775.8 1733.0,777.2 1733.6,777.1 1734.1,776.6 1734.7,778.0 1735.3,777.0 1735.9,777.5 1736.4,777.8 1737.0,777.2 1737.6,778.7 1738.2,776.6 1738.7,778.3 1739.3,776.8 1739.9,778.2 1740.5,776.8 1741.1,776.9 1741.6,777.8 1742.2,777.9 1742.8,778.3 1743.4,778.4 1743.9,777.4 1744.5,777.6 1745.1,778.4 1745.7,777.9 1746.3,777.5 1746.8,777.4 1747.4,777.8 1748.0,777.7 1748.6,777.9 1749.1,776.3 1749.7,776.7 1750.3,777.3 1750.9,776.7 1751.4,777.6 1752.0,778.1 1752.6,777.6 1753.2,777.5 1753.8,778.9 1754.3,776.9 1754.9,778.2 1755.5,778.3 1756.1,777.3 1756.6,778.1 1757.2,777.0 1757.8,777.0 1758.4,776.9 1758.9,776.8 1759.5,777.6 1760.1,777.3 1760.7,777.6 1761.3,777.3 1761.8,778.9 1762.4,776.5 1763.0,777.7 1763.6,778.4 1764.1,777.3 1764.7,777.6 1765.3,778.9 1765.9,779.0 1766.4,778.7 1767.0,779.3 1767.6,778.2 1768.2,778.2 1768.8,778.9 1769.3,779.0 1769.9,777.1 1770.5,778.9 1771.1,777.8 1771.6,776.8 1772.2,778.6 1772.8,777.6 1773.4,776.9 1773.9,777.7 1774.5,777.2 1775.1,776.6 1775.7,778.1 1776.3,776.6 1776.8,777.3 1777.4,778.2 1778.0,778.2 1778.6,776.9 1779.1,777.9 1779.7,777.9 1780.3,778.8 1780.9,777.2 1781.4,779.4 1782.0,777.4 1782.6,777.9 1783.2,777.0 1783.8,778.1 1784.3,777.8 1784.9,777.6 1785.5,776.8 1786.1,778.6 1786.6,778.1 1787.2,777.4 1787.8,777.8 1788.4,778.5 1789.0,778.0 1789.5,778.1 1790.1,777.1 1790.7,778.1 1791.3,776.7 1791.8,777.4 1792.4,776.5 1793.0,777.8 1793.6,778.3 1794.1,777.6 1794.7,778.2 1795.3,778.4 1795.9,777.0 1796.5,777.0 1797.0,776.9 1797.6,777.9 1798.2,776.2 1798.8,776.9 1799.3,777.5 1799.9,777.7 1800.5,779.2 1801.1,777.1 1801.6,777.9 1802.2,778.3 1802.8,778.8 1803.4,778.2 1804.0,778.7 1804.5,778.5 1805.1,778.7 1805.7,778.6 1806.3,777.2 1806.8,778.4 1807.4,778.3 1808.0,778.0 1808.6,778.2 1809.1,778.8 1809.7,778.6 1810.3,777.7 1810.9,777.2 1811.5,777.4 1812.0,776.6 1812.6,777.4 1813.2,777.2 1813.8,779.6 1814.3,778.9 1814.9,778.1 1815.5,779.1 1816.1,778.5 1816.6,778.0 1817.2,778.6 1817.8,778.6 1818.4,778.5 1819.0,778.3 1819.5,778.4 1820.1,778.5 1820.7,778.3 1821.3,778.1 1821.8,778.4 1822.4,777.9 1823.0,778.5 1823.6,777.4 1824.1,777.2 1824.7,778.5 1825.3,778.8 1825.9,778.1 1826.5,780.5 1827.0,778.2 1827.6,777.8 1828.2,778.2 1828.8,778.3 1829.3,778.5 1829.9,777.8 1830.5,779.0 1831.1,777.8 1831.7,777.8 1832.2,778.2 1832.8,777.7 1833.4,778.6 1834.0,778.2 1834.5,778.7 1835.1,777.6 1835.7,778.4 1836.3,778.5 1836.8,779.2 1837.4,778.8 1838.0,779.0 1838.6,778.8 1839.2,779.3 1839.7,778.6 1840.3,777.6 1840.9,778.2 1841.5,779.7 1842.0,778.4 1842.6,779.0 1843.2,779.5 1843.8,778.3 1844.3,778.3 1844.9,778.1 1845.5,779.3 1846.1,778.7 1846.7,778.5 1847.2,778.4 1847.8,778.5 1848.4,778.0 1849.0,779.3 1849.5,778.9 1850.1,779.2 1850.7,777.7 1851.3,778.6 1851.8,779.4 1852.4,776.7 1853.0,777.6 1853.6,777.4 1854.2,779.2 1854.7,778.3 1855.3,778.1 1855.9,777.8 1856.5,778.0 1857.0,777.4 1857.6,777.9 1858.2,777.8 1858.8,779.2 1859.3,778.8 1859.9,778.8 1860.5,779.5 1861.1,778.7 1861.7,778.4 1862.2,778.6 1862.8,778.3 1863.4,779.4 1864.0,778.7 1864.5,778.1 1865.1,778.0 1865.7,778.4 1866.3,777.5 1866.8,778.0 1867.4,779.0 1868.0,776.9 1868.6,777.1 1869.2,777.5 1869.7,778.0 1870.3,777.7 1870.9,778.5 1871.5,777.5 1872.0,778.2 1872.6,778.3 1873.2,777.1 1873.8,777.7 1874.4,778.8 1874.9,777.3 1875.5,776.8 1876.1,778.7 1876.7,777.1 1877.2,776.8 1877.8,775.8 1878.4,777.5 1879.0,777.1 1879.5,775.9 1880.1,777.2 1880.7,776.4 1881.3,777.8 1881.9,778.3 1882.4,777.7 1883.0,778.4 1883.6,776.1 1884.2,776.0 1884.7,777.8 1885.3,776.4 1885.9,776.9 1886.5,778.3 1887.0,777.1 1887.6,776.5 1888.2,775.8 1888.8,776.5 1889.4,775.4 1889.9,776.3 1890.5,776.2 1891.1,777.2 1891.7,776.9 1892.2,776.7 1892.8,776.3 1893.4,777.7 1894.0,776.5 1894.5,777.3 1895.1,776.7 1895.7,774.8 1896.3,776.1 1896.9,775.4 1897.4,775.9 1898.0,774.9 1898.6,776.3 1899.2,777.1 1899.7,775.0 1900.3,776.2 1900.9,776.3 1901.5,776.5 1902.0,776.1 1902.6,775.0 1903.2,775.0 1903.8,775.4 1904.4,774.5 1904.9,775.1 1905.5,775.1 1906.1,775.7 1906.7,774.5 1907.2,775.8 1907.8,775.5 1908.4,776.0 1909.0,775.6 1909.5,775.7 1910.1,775.4 1910.7,774.9 1911.3,775.2 1911.9,774.1 1912.4,773.2 1913.0,774.2 1913.6,774.4 1914.2,774.5 1914.7,774.3 1915.3,773.7 1915.9,774.5 1916.5,773.6 1917.1,772.9 1917.6,771.9 1918.2,773.1 1918.8,774.2 1919.4,773.0 1919.9,772.4 1920.5,772.6 1921.1,771.4 1921.7,772.5 1922.2,771.0 1922.8,771.0 1923.4,771.0 1924.0,771.3 1924.6,771.0 1925.1,770.5 1925.7,770.0 1926.3,768.9 1926.9,770.1 1927.4,769.3 1928.0,768.6 1928.6,767.9 1929.2,767.9 1929.7,766.6 1930.3,766.5 1930.9,766.9 1931.5,765.8 1932.1,766.0 1932.6,765.5 1933.2,765.8 1933.8,764.7 1934.4,765.0 1934.9,764.3 1935.5,763.6 1936.1,762.8 1936.7,762.6 1937.2,761.2 1937.8,760.1 1938.4,760.3 1939.0,759.0 1939.6,758.6 1940.1,758.4 1940.7,758.5 1941.3,757.1 1941.9,757.6 1942.4,756.6 1943.0,755.7 1943.6,755.0 1944.2,754.7 1944.7,754.7 1945.3,754.3 1945.9,753.1 1946.5,752.5 1947.1,752.5 1947.6,751.5 1948.2,752.6 1948.8,752.4 1949.4,751.5 1949.9,751.7 1950.5,750.0 1951.1,752.4 1951.7,750.1 1952.2,750.3 1952.8,752.4 1953.4,751.1 1954.0,751.9 1954.6,751.5 1955.1,752.3 1955.7,753.2 1956.3,753.6 1956.9,753.9 1957.4,754.5 1958.0,754.9 1958.6,755.7 1959.2,756.9 1959.8,757.1 1960.3,758.0 1960.9,759.0 1961.5,760.0 1962.1,760.9 1962.6,761.9 1963.2,762.6 1963.8,764.3 1964.4,764.8 1964.9,765.7 1965.5,766.6 1966.1,767.0 1966.7,768.2 1967.3,768.3 1967.8,768.7 1968.4,770.1 1969.0,770.6 1969.6,771.0 1970.1,771.4 1970.7,771.9 1971.3,773.7 1971.9,773.4 1972.4,771.9 1973.0,773.3 1973.6,773.3 1974.2,773.0 1974.8,772.1 1975.3,772.7 1975.9,773.3 1976.5,773.0 1977.1,772.9 1977.6,773.4 1978.2,774.1 1978.8,773.3 1979.4,774.5 1979.9,773.5 1980.5,773.9 1981.1,773.4 1981.7,773.8 1982.3,773.2 1982.8,773.9 1983.4,774.2 1984.0,773.5 1984.6,773.5 1985.1,775.1 1985.7,774.2 1986.3,774.0 1986.9,774.5 1987.4,774.2 1988.0,774.7 1988.6,775.0 1989.2,774.7 1989.8,774.7 1990.3,775.2 1990.9,775.3 1991.5,774.2 1992.1,775.2 1992.6,774.9 1993.2,775.3 1993.8,774.9 1994.4,774.7 1994.9,774.6 1995.5,774.1 1996.1,774.6 1996.7,775.0 1997.3,775.7 1997.8,774.7 1998.4,774.4 1999.0,775.8 1999.6,776.1 2000.1,776.4 2000.7,775.3 2001.3,776.1 2001.9,775.3 2002.5,776.2 2003.0,775.8 2003.6,776.5 2004.2,776.9 2004.8,777.4 2005.3,776.3 2005.9,776.1 2006.5,776.1 2007.1,775.4 2007.6,776.5 2008.2,776.8 2008.8,776.5 2009.4,776.6 2010.0,777.7 2010.5,777.1 2011.1,776.5 2011.7,777.2 2012.3,776.9 2012.8,776.0 2013.4,776.9 2014.0,776.7 2014.6,776.4 2015.1,776.6 2015.7,776.7 2016.3,776.2 2016.9,776.1 2017.5,776.1 2018.0,777.1 2018.6,776.3 2019.2,776.0 2019.8,777.2 2020.3,777.0 2020.9,777.2 2021.5,777.6 2022.1,776.2 2022.6,776.6 2023.2,776.5 2023.8,776.3 2024.4,776.8 2025.0,778.3 2025.5,777.7 2026.1,777.9 2026.7,776.2 2027.3,777.4 2027.8,777.0 2028.4,776.2 2029.0,776.3 2029.6,777.0 2030.1,778.7 2030.7,776.2 2031.3,776.4 2031.9,777.1 2032.5,776.5 2033.0,777.3 2033.6,777.5 2034.2,777.5 2034.8,776.7 2035.3,776.2 2035.9,775.3 2036.5,777.3 2037.1,774.6 2037.6,776.1 2038.2,775.8 2038.8,775.8 2039.4,776.9 2040.0,777.7 2040.5,776.4 2041.1,777.0 2041.7,776.9 2042.3,776.2 2042.8,775.8 2043.4,775.7 2044.0,775.0 2044.6,775.8 2045.2,775.5 2045.7,775.1 2046.3,776.0 2046.9,774.8 2047.5,774.5 2048.0,776.2 2048.6,774.7 2049.2,776.0 2049.8,774.5 2050.3,775.5 2050.9,775.2 2051.5,774.7 2052.1,774.6 2052.7,774.6 2053.2,773.8 2053.8,775.0 2054.4,774.0 2055.0,775.5 2055.5,775.2 2056.1,774.3 2056.7,775.3 2057.3,774.7 2057.8,773.4 2058.4,774.9 2059.0,774.0 2059.6,774.0 2060.2,774.5 2060.7,774.8 2061.3,774.2 2061.9,774.4 2062.5,773.1 2063.0,774.2 2063.6,773.9 2064.2,774.3 2064.8,774.6 2065.3,774.4 2065.9,774.3 2066.5,773.1 2067.1,772.7 2067.7,773.8 2068.2,773.0 2068.8,774.6 2069.4,773.0 2070.0,774.2 2070.5,774.3 2071.1,772.5 2071.7,774.0 2072.3,775.1 2072.8,774.6 2073.4,774.5 2074.0,774.1 2074.6,774.2 2075.2,774.5 2075.7,773.7 2076.3,774.7 2076.9,774.8 2077.5,774.0 2078.0,773.7 2078.6,774.0 2079.2,774.3 2079.8,773.7 2080.3,774.3 2080.9,776.1 2081.5,774.9 2082.1,774.2 2082.7,773.8 2083.2,773.5 2083.8,774.1 2084.4,774.2 2085.0,774.2 2085.5,775.3 2086.1,774.9 2086.7,773.0 2087.3,773.4 2087.9,773.2 2088.4,773.4 2089.0,773.7 2089.6,773.7 2090.2,772.5 2090.7,774.6 2091.3,773.3 2091.9,774.9 2092.5,775.4 2093.0,775.0 2093.6,774.9 2094.2,773.8 2094.8,774.1 2095.4,774.2 2095.9,774.6 2096.5,773.7 2097.1,774.8 2097.7,775.0 2098.2,773.8 2098.8,772.8 2099.4,773.1 2100.0,772.9 2100.5,773.9 2101.1,773.1 2101.7,774.3 2102.3,774.6 2102.9,773.3 2103.4,775.9 2104.0,776.0 2104.6,774.5 2105.2,775.2 2105.7,774.5 2106.3,774.2 2106.9,774.7 2107.5,773.3 2108.0,774.8 2108.6,774.3 2109.2,775.2 2109.8,775.3 2110.4,774.4 2110.9,773.6 2111.5,774.7 2112.1,773.7 2112.7,775.0 2113.2,774.0 2113.8,774.6 2114.4,773.4 2115.0,774.9 2115.5,772.9 2116.1,774.2 2116.7,773.9 2117.3,774.2 2117.9,775.8 2118.4,774.4 2119.0,775.1 2119.6,775.2 2120.2,776.0 2120.7,774.8 2121.3,774.5 2121.9,773.8 2122.5,775.0 2123.0,775.0 2123.6,773.3 2124.2,774.1 2124.8,774.9 2125.4,774.3 2125.9,774.4 2126.5,774.1 2127.1,775.5 2127.7,776.7 2128.2,774.5 2128.8,774.1 2129.4,774.2 2130.0,775.1 2130.6,775.3 2131.1,774.3 2131.7,774.6 2132.3,775.1 2132.9,774.4 2133.4,775.5 2134.0,774.7 2134.6,774.8 2135.2,775.6 2135.7,773.9 2136.3,773.5 2136.9,773.1 2137.5,773.1 2138.1,774.6 2138.6,773.8 2139.2,775.0 2139.8,774.6 2140.4,774.3 2140.9,775.6 2141.5,774.1 2142.1,775.1 2142.7,774.1 2143.2,774.7 2143.8,774.8 2144.4,775.6 2145.0,774.5 2145.6,774.3 2146.1,775.1 2146.7,774.1 2147.3,775.2 2147.9,775.2 2148.4,774.9 2149.0,774.7 2149.6,774.7 2150.2,774.8 2150.7,774.1 2151.3,774.2 2151.9,774.0 2152.5,773.9 2153.1,774.0 2153.6,775.3 2154.2,774.1 2154.8,774.0 2155.4,773.6 2155.9,774.9 2156.5,774.7 2157.1,774.4 2157.7,774.3 2158.2,773.9 2158.8,774.3 2159.4,774.1 2160.0,773.7 2160.6,774.1 2161.1,773.9 2161.7,774.7 2162.3,773.8 2162.9,774.0 2163.4,774.0 2164.0,775.0 2164.6,774.6 2165.2,773.6 2165.7,773.9 2166.3,774.0 2166.9,774.2 2167.5,773.8 2168.1,774.7 2168.6,775.4 2169.2,774.3 2169.8,776.0 2170.4,774.6 2170.9,774.7 2171.5,775.0 2172.1,775.1 2172.7,774.4 2173.3,774.9 2173.8,774.3 2174.4,774.5 2175.0,773.4 2175.6,775.2 2176.1,775.0 2176.7,774.3 2177.3,773.6 2177.9,773.8 2178.4,775.7 2179.0,773.9 2179.6,773.9 2180.2,774.7 2180.8,773.2 2181.3,772.8 2181.9,774.7 2182.5,773.7 2183.1,774.9 2183.6,775.5 2184.2,774.9 2184.8,775.7 2185.4,774.2 2185.9,773.9 2186.5,774.5" stroke="#0505dc" stroke-width="3.4"/>
</g>
<rect x="167.5" y="44.8" width="2019.6" height="1405.4" fill="none" stroke="#000" stroke-width="4.4"/>
<path d="M167.5,1450.2V1476.5M311.8,1450.2V1463.9M456.0,1450.2V1476.5M600.3,1450.2V1463.9M744.5,1450.2V1476.5M888.8,1450.2V1463.9M1033.0,1450.2V1476.5M1177.3,1450.2V1463.9M1321.6,1450.2V1476.5M1465.8,1450.2V1463.9M1610.1,1450.2V1476.5M1754.3,1450.2V1463.9M1898.6,1450.2V1476.5M2042.8,1450.2V1463.9M2187.1,1450.2V1476.5" stroke="#000" stroke-width="3.7" fill="none"/>
<text class="tick" x="166.5" y="1528.4" textLength="50.5" lengthAdjust="spacingAndGlyphs">10</text>
<text class="tick" x="455.0" y="1528.4" textLength="50.5" lengthAdjust="spacingAndGlyphs">20</text>
<text class="tick" x="743.5" y="1528.4" textLength="50.5" lengthAdjust="spacingAndGlyphs">30</text>
<text class="tick" x="1032.0" y="1528.4" textLength="50.5" lengthAdjust="spacingAndGlyphs">40</text>
<text class="tick" x="1320.6" y="1528.4" textLength="50.5" lengthAdjust="spacingAndGlyphs">50</text>
<text class="tick" x="1609.1" y="1528.4" textLength="50.5" lengthAdjust="spacingAndGlyphs">60</text>
<text class="tick" x="1897.6" y="1528.4" textLength="50.5" lengthAdjust="spacingAndGlyphs">70</text>
<text class="tick" x="2186.1" y="1528.4" textLength="50.5" lengthAdjust="spacingAndGlyphs">80</text>
<text class="title" x="1164.9" y="1610" letter-spacing="-0.9">2θ (degree)</text>
<text class="title" transform="translate(94.4,741) rotate(-90)" letter-spacing="0.15">Intensity (cps)</text>
<text class="lab" x="196" y="1343.8">(a)</text>
<text class="lab" x="187.3" y="1099.8">(b)</text>
<text class="lab" x="192" y="922.5">(c)</text>
<text class="lab" x="192" y="688.5">(d)</text>
<polygon points="1841.4,115.0 1847.7,132.6 1866.4,133.2 1851.7,144.6 1856.9,162.6 1841.4,152.1 1825.9,162.6 1831.1,144.6 1816.4,133.2 1835.1,132.6" fill="#000"/>
<text class="ann" x="1889" y="160">C</text>
<path d="M1817.1,223.9H1862.9" stroke="#555555" stroke-width="2.4" fill="none"/><path d="M1817.8,223.5L1840.0,258.1L1862.2,223.5" fill="none" stroke="#1c1c1c" stroke-width="2.6" stroke-linejoin="miter" stroke-linecap="butt"/>
<text class="ann" x="1885" y="265" letter-spacing="-0.4">3C-SiC</text>
<polygon points="635.4,49.2 641.7,66.8 660.4,67.4 645.7,78.8 650.9,96.8 635.4,86.3 619.9,96.8 625.1,78.8 610.4,67.4 629.1,66.8" fill="#000"/>
<polygon points="1108.0,1312.0 1114.3,1329.6 1133.0,1330.2 1118.3,1341.6 1123.5,1359.6 1108.0,1349.1 1092.5,1359.6 1097.7,1341.6 1083.0,1330.2 1101.7,1329.6" fill="#000"/>
<polygon points="1437.0,1312.0 1443.3,1329.6 1462.0,1330.2 1447.3,1341.6 1452.5,1359.6 1437.0,1349.1 1421.5,1359.6 1426.7,1341.6 1412.0,1330.2 1430.7,1329.6" fill="#000"/>
<path d="M889.0,629.1H933.1" stroke="#a6a6a6" stroke-width="3.4" fill="none"/><path d="M889.4,628.2L911.0,661.9L932.7,628.2" fill="none" stroke="#4a4a4a" stroke-width="2.0" stroke-linejoin="miter" stroke-linecap="butt"/>
<path d="M1596.2,684.8H1639.4" stroke="#a6a6a6" stroke-width="3.4" fill="none"/><path d="M1596.6,683.9L1617.8,718.0L1639.0,683.9" fill="none" stroke="#4a4a4a" stroke-width="2.0" stroke-linejoin="miter" stroke-linecap="butt"/>
<path d="M1935.9,701.6H1979.4" stroke="#a6a6a6" stroke-width="3.4" fill="none"/><path d="M1936.3,700.7L1957.7,733.7L1979.0,700.7" fill="none" stroke="#4a4a4a" stroke-width="2.0" stroke-linejoin="miter" stroke-linecap="butt"/>
<text class="ann rot" transform="translate(868.5,737) rotate(-90)">SF</text>
<text class="ann rot" transform="translate(927.5,608) rotate(-90)">[111]</text>
<text class="ann rot" transform="translate(1636.8,663) rotate(-90)">[220]</text>
<text class="ann rot" transform="translate(1976,681.5) rotate(-90)">[311]</text>
</svg>
</body>
</html>
